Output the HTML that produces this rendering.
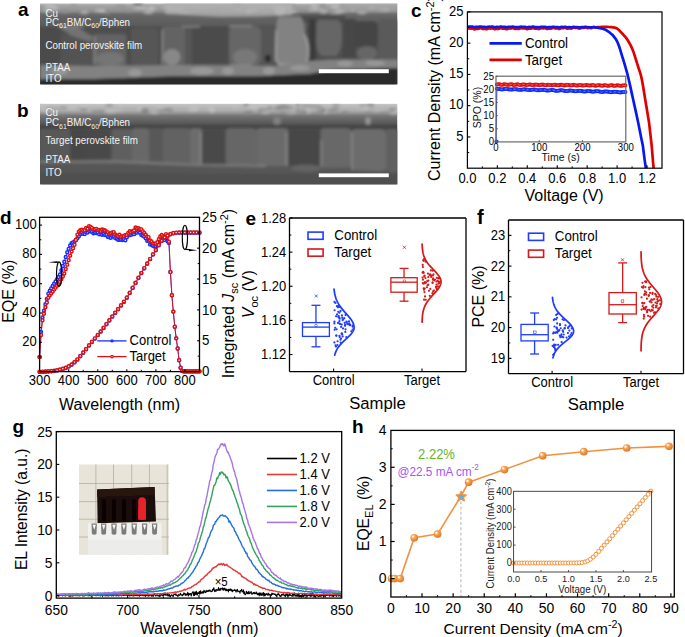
<!DOCTYPE html><html><head><meta charset="utf-8"><style>html,body{margin:0;padding:0;background:#fff;width:685px;height:637px;overflow:hidden}svg{display:block;font-family:"Liberation Sans",sans-serif}</style></head><body>
<svg width="685" height="637" viewBox="0 0 685 637">
<clipPath id="clipc"><rect x="467.4" y="11.9" width="194.60000000000002" height="156.29999999999998"/></clipPath>
<polyline points="467.4,28.78 468,28.47 468.6,28.31 469.2,28.37 469.8,28.53 470.39,28.63 470.99,28.6 471.59,28.5 472.19,28.46 472.79,28.61 473.39,28.91 473.99,29.2 474.59,29.33 475.18,29.23 475.78,29.01 476.38,28.82 476.98,28.78 477.58,28.84 478.18,28.87 478.78,28.75 479.38,28.49 479.97,28.23 480.57,28.14 481.17,28.28 481.77,28.55 482.37,28.79 482.97,28.88 483.57,28.83 484.17,28.77 484.77,28.83 485.36,29.02 485.96,29.22 486.56,29.26 487.16,29.09 487.76,28.77 488.36,28.48 488.96,28.37 489.56,28.43 490.15,28.53 490.75,28.54 491.35,28.42 491.95,28.27 492.55,28.25 493.15,28.44 493.75,28.77 494.35,29.05 494.94,29.16 495.54,29.06 496.14,28.89 496.74,28.79 497.34,28.83 497.94,28.93 498.54,28.92 499.14,28.74 499.74,28.43 500.33,28.15 500.93,28.07 501.53,28.21 502.13,28.44 502.73,28.61 503.33,28.62 503.93,28.55 504.53,28.54 505.12,28.68 505.72,28.94 506.32,29.16 506.92,29.2 507.52,29.02 508.12,28.72 508.72,28.49 509.32,28.43 509.91,28.49 510.51,28.54 511.11,28.45 511.71,28.25 512.31,28.08 512.91,28.07 513.51,28.28 514.11,28.61 514.71,28.87 515.3,28.94 515.9,28.85 516.5,28.74 517.1,28.74 517.7,28.86 518.3,28.99 518.9,28.96 519.5,28.73 520.09,28.39 520.69,28.13 521.29,28.07 521.89,28.19 522.49,28.37 523.09,28.44 523.69,28.39 524.29,28.3 524.88,28.33 525.48,28.54 526.08,28.85 526.68,29.08 527.28,29.11 527.88,28.93 528.48,28.69 529.08,28.54 529.68,28.53 530.27,28.6 530.87,28.59 531.47,28.42 532.07,28.16 532.67,27.96 533.27,27.97 533.87,28.19 534.47,28.48 535.06,28.69 535.66,28.71 536.26,28.64 536.86,28.6 537.46,28.7 538.06,28.89 538.66,29.03 539.26,28.99 539.85,28.73 540.45,28.4 541.05,28.17 541.65,28.13 542.25,28.23 542.85,28.33 543.45,28.31 544.05,28.18 544.65,28.08 545.24,28.14 545.84,28.4 546.44,28.73 547.04,28.95 547.64,28.96 548.24,28.81 548.84,28.63 549.44,28.56 550.03,28.62 550.63,28.69 551.23,28.62 551.83,28.38 552.43,28.07 553.03,27.87 553.63,27.88 554.23,28.09 554.82,28.33 555.42,28.46 556.02,28.43 556.62,28.36 557.22,28.39 557.82,28.57 558.42,28.82 559.02,28.97 559.62,28.9 560.21,28.63 560.81,28.33 561.41,28.14 562.01,28.13 562.61,28.21 563.21,28.22 563.81,28.1 564.41,27.89 565,27.77 565.6,27.86 566.2,28.13 566.8,28.45 567.4,28.64 568,28.62 568.6,28.48 569.2,28.38 569.79,28.4 570.39,28.52 570.99,28.58 571.59,28.46 572.19,28.17 572.79,27.83 573.39,27.63 573.99,27.65 574.59,27.82 575.18,27.98 575.78,28.01 576.38,27.93 576.98,27.86 577.58,27.95 578.18,28.19 578.78,28.47 579.38,28.62 579.97,28.53 580.57,28.28 581.17,28.03 581.77,27.91 582.37,27.93 582.97,27.97 583.57,27.9 584.17,27.69 584.76,27.43 585.36,27.3 585.96,27.4 586.56,27.67 587.16,27.94 587.76,28.06 588.36,28.01 588.96,27.88 589.56,27.84 590.15,27.93 590.75,28.08 591.35,28.11 591.95,27.93 592.55,27.58 593.15,27.22 593.75,27.02 594.35,27.02 594.94,27.35 595.54,27.3 596.14,27.26 596.74,27.22 597.34,27.18 597.94,27.14 598.54,27.1 599.14,27.07 599.73,27.04 600.33,27.01 600.93,26.98 601.53,26.96 602.13,26.94 602.73,26.92 603.33,26.91 603.93,26.9 604.53,26.9 605.12,26.9 605.72,26.91 606.32,26.92 606.92,26.93 607.52,26.95 608.12,26.96 608.72,26.98 609.32,27.01 609.91,27.05 610.51,27.09 611.11,27.14 611.71,27.2 612.31,27.27 612.91,27.35 613.51,27.45 614.11,27.56 614.7,27.68 615.3,27.82 615.9,27.98 616.5,28.16 617.1,28.54 617.7,28.98 618.3,29.49 618.9,30.05 619.5,30.64 620.09,31.26 620.69,31.89 621.29,32.52 621.89,33.15 622.49,33.76 623.09,34.43 623.69,35.11 624.29,35.78 624.88,36.45 625.48,37.15 626.08,37.89 626.68,38.67 627.28,39.53 627.88,40.46 628.48,41.45 629.08,42.48 629.67,43.55 630.27,44.68 630.87,45.86 631.47,47.12 632.07,48.45 632.67,49.86 633.27,51.41 633.87,53.13 634.47,54.96 635.06,56.87 635.66,58.81 636.26,60.74 636.86,62.63 637.46,64.44 638.06,66.36 638.66,68.27 639.26,70.04 639.85,71.81 640.45,73.73 641.05,75.96 641.65,78.61 642.25,81.64 642.85,85 643.45,88.58 644.05,92.28 644.64,96 645.24,99.61 645.84,103.2 646.44,106.83 647.04,110.45 647.64,114.07 648.24,117.69 648.84,121.31 649.44,125.78 650.03,131.1 650.63,136.41 651.23,141.71 651.83,147.44 652.43,154.67 653.03,161.78 653.63,168.2 654.23,172.96 654.82,177.42 655.42,181.18" fill="none" stroke="#e00000" stroke-width="2.7" stroke-linejoin="round" stroke-linecap="round" clip-path="url(#clipc)"/>
<polyline points="467.4,26.78 468,26.62 468.6,26.55 469.2,26.58 469.8,26.66 470.39,26.71 470.99,26.7 471.59,26.65 472.19,26.64 472.79,26.71 473.39,26.86 473.99,27.01 474.59,27.08 475.18,27.03 475.78,26.92 476.38,26.83 476.98,26.81 477.58,26.85 478.18,26.86 478.78,26.81 479.38,26.68 479.97,26.55 480.57,26.51 481.17,26.58 481.77,26.72 482.37,26.84 482.97,26.89 483.57,26.87 484.17,26.84 484.77,26.87 485.36,26.97 485.96,27.07 486.56,27.1 487.16,27.01 487.76,26.86 488.36,26.72 488.96,26.66 489.56,26.7 490.15,26.75 490.75,26.76 491.35,26.7 491.95,26.63 492.55,26.63 493.15,26.72 493.75,26.89 494.35,27.04 494.94,27.09 495.54,27.05 496.14,26.97 496.74,26.92 497.34,26.94 497.94,26.99 498.54,27 499.14,26.91 499.74,26.75 500.33,26.62 500.93,26.58 501.53,26.65 502.13,26.77 502.73,26.86 503.33,26.87 503.93,26.84 504.53,26.84 505.12,26.91 505.72,27.04 506.32,27.16 506.92,27.18 507.52,27.09 508.12,26.95 508.72,26.84 509.32,26.81 509.91,26.84 510.51,26.87 511.11,26.83 511.71,26.73 512.31,26.65 512.91,26.65 513.51,26.76 514.11,26.92 514.71,27.05 515.3,27.09 515.9,27.05 516.5,27 517.1,27 517.7,27.06 518.3,27.13 518.9,27.12 519.5,27.01 520.09,26.84 520.69,26.71 521.29,26.68 521.89,26.75 522.49,26.84 523.09,26.88 523.69,26.85 524.29,26.81 524.88,26.83 525.48,26.94 526.08,27.09 526.68,27.21 527.28,27.23 527.88,27.14 528.48,27.02 529.08,26.95 529.68,26.95 530.27,26.99 530.87,26.98 531.47,26.9 532.07,26.77 532.67,26.68 533.27,26.68 533.87,26.8 534.47,26.95 535.06,27.05 535.66,27.07 536.26,27.03 536.86,27.01 537.46,27.07 538.06,27.17 538.66,27.24 539.26,27.22 539.85,27.09 540.45,26.93 541.05,26.82 541.65,26.8 542.25,26.86 542.85,26.91 543.45,26.9 544.05,26.84 544.65,26.79 545.24,26.83 545.84,26.96 546.44,27.13 547.04,27.24 547.64,27.25 548.24,27.17 548.84,27.09 549.44,27.06 550.03,27.09 550.63,27.13 551.23,27.1 551.83,26.98 552.43,26.83 553.03,26.73 553.63,26.75 554.23,26.85 554.82,26.98 555.42,27.04 556.02,27.04 556.62,27 557.22,27.02 557.82,27.12 558.42,27.25 559.02,27.33 559.62,27.3 560.21,27.18 560.81,27.03 561.41,26.95 562.01,26.95 562.61,26.99 563.21,27.01 563.81,26.95 564.41,26.86 565,26.81 565.6,26.86 566.2,27 566.8,27.17 567.4,27.27 568,27.27 568.6,27.21 569.2,27.17 569.79,27.19 570.39,27.25 570.99,27.29 571.59,27.24 572.19,27.1 572.79,26.94 573.39,26.85 573.99,26.87 574.59,26.97 575.18,27.06 575.78,27.08 576.38,27.05 576.98,27.03 577.58,27.08 578.18,27.21 578.78,27.36 579.38,27.45 579.97,27.42 580.57,27.3 581.17,27.19 581.77,27.13 582.37,27.15 582.97,27.18 583.57,27.15 584.17,27.05 584.76,26.92 585.36,26.86 585.96,26.91 586.56,27.06 587.16,27.2 587.76,27.27 588.36,27.26 588.96,27.22 589.56,27.23 590.15,27.3 590.75,27.41 591.35,27.46 591.95,27.41 592.55,27.28 593.15,27.15 593.75,27.1 594.35,27.16 594.94,27.39 595.54,27.46 596.14,27.54 596.74,27.62 597.34,27.7 597.94,27.79 598.54,27.88 599.14,27.99 599.73,28.1 600.33,28.22 600.93,28.35 601.53,28.49 602.13,28.64 602.73,28.8 603.33,28.98 603.93,29.17 604.53,29.37 605.12,29.59 605.72,29.91 606.32,30.25 606.92,30.61 607.52,31 608.12,31.41 608.72,31.84 609.32,32.28 609.91,32.75 610.51,33.22 611.11,33.71 611.71,34.2 612.31,34.71 612.91,35.29 613.51,36.06 614.11,36.82 614.7,37.6 615.3,38.42 615.9,39.31 616.5,40.31 617.1,41.44 617.7,42.72 618.3,44.18 618.9,45.8 619.5,47.55 620.09,49.39 620.69,51.32 621.29,53.29 621.89,55.29 622.49,57.29 623.09,59.23 623.69,61.17 624.29,63.13 624.88,65.12 625.48,67.16 626.08,69.26 626.68,71.43 627.28,73.67 627.88,76.02 628.48,78.47 629.08,81.04 629.67,83.69 630.27,86.39 630.87,89.13 631.47,91.88 632.07,94.62 632.67,97.32 633.27,100.04 633.87,102.74 634.47,105.44 635.06,108.14 635.66,110.85 636.26,113.58 636.86,116.36 637.46,119.19 638.06,122.04 638.66,124.93 639.26,127.9 639.85,130.9 640.45,133.92 641.05,136.94 641.65,139.92 642.25,142.85 642.85,145.69 643.45,150.47 644.05,155.21 644.64,159.82 645.24,164.18 645.84,168.2 646.44,172.44 647.04,176.48 647.64,180.03 648.24,182.82" fill="none" stroke="#0a18f0" stroke-width="2.7" stroke-linejoin="round" stroke-linecap="round" clip-path="url(#clipc)"/>
<rect x="467.4" y="11.9" width="194.6" height="156.3" fill="none" stroke="#000" stroke-width="1.2" />
<line x1="467.4" y1="136.94" x2="470.4" y2="136.94" stroke="#000" stroke-width="1.1" />
<text transform="translate(463.5,140.74) scale(1,1.08)" font-size="13" text-anchor="end" fill="#000" >5</text>
<line x1="467.4" y1="105.68" x2="470.4" y2="105.68" stroke="#000" stroke-width="1.1" />
<text transform="translate(463.5,109.48) scale(1,1.08)" font-size="13" text-anchor="end" fill="#000" >10</text>
<line x1="467.4" y1="74.42" x2="470.4" y2="74.42" stroke="#000" stroke-width="1.1" />
<text transform="translate(463.5,78.22) scale(1,1.08)" font-size="13" text-anchor="end" fill="#000" >15</text>
<line x1="467.4" y1="43.16" x2="470.4" y2="43.16" stroke="#000" stroke-width="1.1" />
<text transform="translate(463.5,46.96) scale(1,1.08)" font-size="13" text-anchor="end" fill="#000" >20</text>
<line x1="467.4" y1="11.9" x2="470.4" y2="11.9" stroke="#000" stroke-width="1.1" />
<text transform="translate(463.5,15.7) scale(1,1.08)" font-size="13" text-anchor="end" fill="#000" >25</text>
<line x1="467.4" y1="152.57" x2="469.2" y2="152.57" stroke="#000" stroke-width="1.0" />
<line x1="467.4" y1="121.31" x2="469.2" y2="121.31" stroke="#000" stroke-width="1.0" />
<line x1="467.4" y1="90.05" x2="469.2" y2="90.05" stroke="#000" stroke-width="1.0" />
<line x1="467.4" y1="58.79" x2="469.2" y2="58.79" stroke="#000" stroke-width="1.0" />
<line x1="467.4" y1="27.53" x2="469.2" y2="27.53" stroke="#000" stroke-width="1.0" />
<text transform="translate(467.4,182.6) scale(1,1.08)" font-size="13" text-anchor="middle" fill="#000" >0.0</text>
<line x1="497.34" y1="168.2" x2="497.34" y2="165.2" stroke="#000" stroke-width="1.1" />
<text transform="translate(497.34,182.6) scale(1,1.08)" font-size="13" text-anchor="middle" fill="#000" >0.2</text>
<line x1="527.28" y1="168.2" x2="527.28" y2="165.2" stroke="#000" stroke-width="1.1" />
<text transform="translate(527.28,182.6) scale(1,1.08)" font-size="13" text-anchor="middle" fill="#000" >0.4</text>
<line x1="557.22" y1="168.2" x2="557.22" y2="165.2" stroke="#000" stroke-width="1.1" />
<text transform="translate(557.22,182.6) scale(1,1.08)" font-size="13" text-anchor="middle" fill="#000" >0.6</text>
<line x1="587.16" y1="168.2" x2="587.16" y2="165.2" stroke="#000" stroke-width="1.1" />
<text transform="translate(587.16,182.6) scale(1,1.08)" font-size="13" text-anchor="middle" fill="#000" >0.8</text>
<line x1="617.1" y1="168.2" x2="617.1" y2="165.2" stroke="#000" stroke-width="1.1" />
<text transform="translate(617.1,182.6) scale(1,1.08)" font-size="13" text-anchor="middle" fill="#000" >1.0</text>
<line x1="647.04" y1="168.2" x2="647.04" y2="165.2" stroke="#000" stroke-width="1.1" />
<text transform="translate(647.04,182.6) scale(1,1.08)" font-size="13" text-anchor="middle" fill="#000" >1.2</text>
<line x1="482.37" y1="168.2" x2="482.37" y2="166.4" stroke="#000" stroke-width="1.0" />
<line x1="512.31" y1="168.2" x2="512.31" y2="166.4" stroke="#000" stroke-width="1.0" />
<line x1="542.25" y1="168.2" x2="542.25" y2="166.4" stroke="#000" stroke-width="1.0" />
<line x1="572.19" y1="168.2" x2="572.19" y2="166.4" stroke="#000" stroke-width="1.0" />
<line x1="602.13" y1="168.2" x2="602.13" y2="166.4" stroke="#000" stroke-width="1.0" />
<line x1="632.07" y1="168.2" x2="632.07" y2="166.4" stroke="#000" stroke-width="1.0" />
<text transform="translate(564.1,201.1) scale(1,1.0)" font-size="16" text-anchor="middle" fill="#000" >Voltage (V)</text>
<text transform="translate(439.8,88.6) rotate(-90) scale(1,1.0)" font-size="16" text-anchor="middle" fill="#000">Current Density (mA cm<tspan dy="-6" font-size="11">-2</tspan><tspan dy="6">)</tspan></text>
<line x1="489.5" y1="43.3" x2="521.8" y2="43.3" stroke="#0a18f0" stroke-width="2.7" />
<text transform="translate(524.9,48) scale(1,1.08)" font-size="13.4" text-anchor="start" fill="#000" >Control</text>
<line x1="489.5" y1="59.9" x2="521.8" y2="59.9" stroke="#e00000" stroke-width="2.7" />
<text transform="translate(524.9,64.6) scale(1,1.08)" font-size="13.4" text-anchor="start" fill="#000" >Target</text>
<rect x="496" y="76.2" width="129.79999999999995" height="65.7" fill="#fff" stroke="none"/>
<polyline points="496,141.9 496.87,88.68 498.16,88.68 499.46,88.91 500.76,89.21 502.06,89.39 503.36,89.33 504.65,89.11 505.95,88.91 507.25,88.91 508.55,89.14 509.85,89.45 511.14,89.62 512.44,89.56 513.74,89.33 515.04,89.14 516.34,89.15 517.63,89.38 518.93,89.68 520.23,89.86 521.53,89.79 522.83,89.56 524.12,89.37 525.42,89.38 526.72,89.62 528.02,89.92 529.32,90.09 530.61,90.02 531.91,89.79 533.21,89.6 534.51,89.62 535.81,89.85 537.1,90.16 538.4,90.32 539.7,90.25 541,90.01 542.3,89.83 543.59,89.85 544.89,90.09 546.19,90.39 547.49,90.55 548.79,90.47 550.08,90.24 551.38,90.06 552.68,90.08 553.98,90.33 555.28,90.63 556.57,90.78 557.87,90.7 559.17,90.47 560.47,90.28 561.77,90.32 563.06,90.56 564.36,90.87 565.66,91.02 566.96,90.93 568.26,90.69 569.55,90.51 570.85,90.55 572.15,90.8 573.45,91.1 574.75,91.25 576.04,91.16 577.34,90.92 578.64,90.74 579.94,90.79 581.24,91.04 582.53,91.34 583.83,91.48 585.13,91.38 586.43,91.15 587.73,90.97 589.02,91.02 590.32,91.28 591.62,91.57 592.92,91.71 594.22,91.61 595.51,91.37 596.81,91.2 598.11,91.25 599.41,91.51 600.71,91.81 602,91.94 603.3,91.84 604.6,91.6 605.9,91.43 607.2,91.49 608.49,91.75 609.79,92.04 611.09,92.17 612.39,92.07 613.69,91.83 614.98,91.66 616.28,91.72 617.58,91.99 618.88,92.28 620.18,92.41 621.47,92.29 622.77,92.05 624.07,91.89 625.37,91.96 626.67,92.22" fill="none" stroke="#1a30ff" stroke-width="1.0" stroke-linejoin="round" stroke-linecap="round" />
<polyline points="496.87,84.48 498.16,84.19 499.46,84.34 500.76,84.73 502.06,84.8 503.36,84.47 504.65,84.23 505.95,84.46 507.25,84.83 508.55,84.82 509.85,84.46 511.14,84.3 512.44,84.59 513.74,84.92 515.04,84.83 516.34,84.46 517.63,84.37 518.93,84.71 520.23,85 521.53,84.84 522.83,84.47 524.12,84.47 525.42,84.84 526.72,85.07 528.02,84.83 529.32,84.5 530.61,84.57 531.91,84.96 533.21,85.11 534.51,84.82 535.81,84.53 537.1,84.68 538.4,85.07 539.7,85.15 541,84.81 542.3,84.58 543.59,84.8 544.89,85.18 546.19,85.17 547.49,84.81 548.79,84.64 550.08,84.93 551.38,85.27 552.68,85.18 553.98,84.81 555.28,84.72 556.57,85.06 557.87,85.35 559.17,85.18 560.47,84.82 561.77,84.81 563.06,85.18 564.36,85.41 565.66,85.17 566.96,84.84 568.26,84.91 569.55,85.3 570.85,85.46 572.15,85.16 573.45,84.87 574.75,85.03 576.04,85.42 577.34,85.49 578.64,85.15 579.94,84.92 581.24,85.15 582.53,85.52 583.83,85.51 585.13,85.15 586.43,84.98 587.73,85.27 589.02,85.61 590.32,85.52 591.62,85.15 592.92,85.06 594.22,85.4 595.51,85.69 596.81,85.52 598.11,85.16 599.41,85.15 600.71,85.53 602,85.75 603.3,85.51 604.6,85.18 605.9,85.26 607.2,85.65 608.49,85.8 609.79,85.51 611.09,85.21 612.39,85.37 613.69,85.76 614.98,85.83 616.28,85.5 617.58,85.26 618.88,85.49 620.18,85.86 621.47,85.85 622.77,85.49 624.07,85.33 625.37,85.62 626.67,85.95" fill="none" stroke="#e02020" stroke-width="0.8" stroke-linejoin="round" stroke-linecap="round" />
<circle cx="496.87" cy="84.48" r="1.4" fill="#fff" stroke="#e00808" stroke-width="1.2"/>
<circle cx="498.16" cy="84.19" r="1.4" fill="#fff" stroke="#e00808" stroke-width="1.2"/>
<circle cx="499.46" cy="84.34" r="1.4" fill="#fff" stroke="#e00808" stroke-width="1.2"/>
<circle cx="500.76" cy="84.73" r="1.4" fill="#fff" stroke="#e00808" stroke-width="1.2"/>
<circle cx="502.06" cy="84.8" r="1.4" fill="#fff" stroke="#e00808" stroke-width="1.2"/>
<circle cx="503.36" cy="84.47" r="1.4" fill="#fff" stroke="#e00808" stroke-width="1.2"/>
<circle cx="504.65" cy="84.23" r="1.4" fill="#fff" stroke="#e00808" stroke-width="1.2"/>
<circle cx="505.95" cy="84.46" r="1.4" fill="#fff" stroke="#e00808" stroke-width="1.2"/>
<circle cx="507.25" cy="84.83" r="1.4" fill="#fff" stroke="#e00808" stroke-width="1.2"/>
<circle cx="508.55" cy="84.82" r="1.4" fill="#fff" stroke="#e00808" stroke-width="1.2"/>
<circle cx="509.85" cy="84.46" r="1.4" fill="#fff" stroke="#e00808" stroke-width="1.2"/>
<circle cx="511.14" cy="84.3" r="1.4" fill="#fff" stroke="#e00808" stroke-width="1.2"/>
<circle cx="512.44" cy="84.59" r="1.4" fill="#fff" stroke="#e00808" stroke-width="1.2"/>
<circle cx="513.74" cy="84.92" r="1.4" fill="#fff" stroke="#e00808" stroke-width="1.2"/>
<circle cx="515.04" cy="84.83" r="1.4" fill="#fff" stroke="#e00808" stroke-width="1.2"/>
<circle cx="516.34" cy="84.46" r="1.4" fill="#fff" stroke="#e00808" stroke-width="1.2"/>
<circle cx="517.63" cy="84.37" r="1.4" fill="#fff" stroke="#e00808" stroke-width="1.2"/>
<circle cx="518.93" cy="84.71" r="1.4" fill="#fff" stroke="#e00808" stroke-width="1.2"/>
<circle cx="520.23" cy="85" r="1.4" fill="#fff" stroke="#e00808" stroke-width="1.2"/>
<circle cx="521.53" cy="84.84" r="1.4" fill="#fff" stroke="#e00808" stroke-width="1.2"/>
<circle cx="522.83" cy="84.47" r="1.4" fill="#fff" stroke="#e00808" stroke-width="1.2"/>
<circle cx="524.12" cy="84.47" r="1.4" fill="#fff" stroke="#e00808" stroke-width="1.2"/>
<circle cx="525.42" cy="84.84" r="1.4" fill="#fff" stroke="#e00808" stroke-width="1.2"/>
<circle cx="526.72" cy="85.07" r="1.4" fill="#fff" stroke="#e00808" stroke-width="1.2"/>
<circle cx="528.02" cy="84.83" r="1.4" fill="#fff" stroke="#e00808" stroke-width="1.2"/>
<circle cx="529.32" cy="84.5" r="1.4" fill="#fff" stroke="#e00808" stroke-width="1.2"/>
<circle cx="530.61" cy="84.57" r="1.4" fill="#fff" stroke="#e00808" stroke-width="1.2"/>
<circle cx="531.91" cy="84.96" r="1.4" fill="#fff" stroke="#e00808" stroke-width="1.2"/>
<circle cx="533.21" cy="85.11" r="1.4" fill="#fff" stroke="#e00808" stroke-width="1.2"/>
<circle cx="534.51" cy="84.82" r="1.4" fill="#fff" stroke="#e00808" stroke-width="1.2"/>
<circle cx="535.81" cy="84.53" r="1.4" fill="#fff" stroke="#e00808" stroke-width="1.2"/>
<circle cx="537.1" cy="84.68" r="1.4" fill="#fff" stroke="#e00808" stroke-width="1.2"/>
<circle cx="538.4" cy="85.07" r="1.4" fill="#fff" stroke="#e00808" stroke-width="1.2"/>
<circle cx="539.7" cy="85.15" r="1.4" fill="#fff" stroke="#e00808" stroke-width="1.2"/>
<circle cx="541" cy="84.81" r="1.4" fill="#fff" stroke="#e00808" stroke-width="1.2"/>
<circle cx="542.3" cy="84.58" r="1.4" fill="#fff" stroke="#e00808" stroke-width="1.2"/>
<circle cx="543.59" cy="84.8" r="1.4" fill="#fff" stroke="#e00808" stroke-width="1.2"/>
<circle cx="544.89" cy="85.18" r="1.4" fill="#fff" stroke="#e00808" stroke-width="1.2"/>
<circle cx="546.19" cy="85.17" r="1.4" fill="#fff" stroke="#e00808" stroke-width="1.2"/>
<circle cx="547.49" cy="84.81" r="1.4" fill="#fff" stroke="#e00808" stroke-width="1.2"/>
<circle cx="548.79" cy="84.64" r="1.4" fill="#fff" stroke="#e00808" stroke-width="1.2"/>
<circle cx="550.08" cy="84.93" r="1.4" fill="#fff" stroke="#e00808" stroke-width="1.2"/>
<circle cx="551.38" cy="85.27" r="1.4" fill="#fff" stroke="#e00808" stroke-width="1.2"/>
<circle cx="552.68" cy="85.18" r="1.4" fill="#fff" stroke="#e00808" stroke-width="1.2"/>
<circle cx="553.98" cy="84.81" r="1.4" fill="#fff" stroke="#e00808" stroke-width="1.2"/>
<circle cx="555.28" cy="84.72" r="1.4" fill="#fff" stroke="#e00808" stroke-width="1.2"/>
<circle cx="556.57" cy="85.06" r="1.4" fill="#fff" stroke="#e00808" stroke-width="1.2"/>
<circle cx="557.87" cy="85.35" r="1.4" fill="#fff" stroke="#e00808" stroke-width="1.2"/>
<circle cx="559.17" cy="85.18" r="1.4" fill="#fff" stroke="#e00808" stroke-width="1.2"/>
<circle cx="560.47" cy="84.82" r="1.4" fill="#fff" stroke="#e00808" stroke-width="1.2"/>
<circle cx="561.77" cy="84.81" r="1.4" fill="#fff" stroke="#e00808" stroke-width="1.2"/>
<circle cx="563.06" cy="85.18" r="1.4" fill="#fff" stroke="#e00808" stroke-width="1.2"/>
<circle cx="564.36" cy="85.41" r="1.4" fill="#fff" stroke="#e00808" stroke-width="1.2"/>
<circle cx="565.66" cy="85.17" r="1.4" fill="#fff" stroke="#e00808" stroke-width="1.2"/>
<circle cx="566.96" cy="84.84" r="1.4" fill="#fff" stroke="#e00808" stroke-width="1.2"/>
<circle cx="568.26" cy="84.91" r="1.4" fill="#fff" stroke="#e00808" stroke-width="1.2"/>
<circle cx="569.55" cy="85.3" r="1.4" fill="#fff" stroke="#e00808" stroke-width="1.2"/>
<circle cx="570.85" cy="85.46" r="1.4" fill="#fff" stroke="#e00808" stroke-width="1.2"/>
<circle cx="572.15" cy="85.16" r="1.4" fill="#fff" stroke="#e00808" stroke-width="1.2"/>
<circle cx="573.45" cy="84.87" r="1.4" fill="#fff" stroke="#e00808" stroke-width="1.2"/>
<circle cx="574.75" cy="85.03" r="1.4" fill="#fff" stroke="#e00808" stroke-width="1.2"/>
<circle cx="576.04" cy="85.42" r="1.4" fill="#fff" stroke="#e00808" stroke-width="1.2"/>
<circle cx="577.34" cy="85.49" r="1.4" fill="#fff" stroke="#e00808" stroke-width="1.2"/>
<circle cx="578.64" cy="85.15" r="1.4" fill="#fff" stroke="#e00808" stroke-width="1.2"/>
<circle cx="579.94" cy="84.92" r="1.4" fill="#fff" stroke="#e00808" stroke-width="1.2"/>
<circle cx="581.24" cy="85.15" r="1.4" fill="#fff" stroke="#e00808" stroke-width="1.2"/>
<circle cx="582.53" cy="85.52" r="1.4" fill="#fff" stroke="#e00808" stroke-width="1.2"/>
<circle cx="583.83" cy="85.51" r="1.4" fill="#fff" stroke="#e00808" stroke-width="1.2"/>
<circle cx="585.13" cy="85.15" r="1.4" fill="#fff" stroke="#e00808" stroke-width="1.2"/>
<circle cx="586.43" cy="84.98" r="1.4" fill="#fff" stroke="#e00808" stroke-width="1.2"/>
<circle cx="587.73" cy="85.27" r="1.4" fill="#fff" stroke="#e00808" stroke-width="1.2"/>
<circle cx="589.02" cy="85.61" r="1.4" fill="#fff" stroke="#e00808" stroke-width="1.2"/>
<circle cx="590.32" cy="85.52" r="1.4" fill="#fff" stroke="#e00808" stroke-width="1.2"/>
<circle cx="591.62" cy="85.15" r="1.4" fill="#fff" stroke="#e00808" stroke-width="1.2"/>
<circle cx="592.92" cy="85.06" r="1.4" fill="#fff" stroke="#e00808" stroke-width="1.2"/>
<circle cx="594.22" cy="85.4" r="1.4" fill="#fff" stroke="#e00808" stroke-width="1.2"/>
<circle cx="595.51" cy="85.69" r="1.4" fill="#fff" stroke="#e00808" stroke-width="1.2"/>
<circle cx="596.81" cy="85.52" r="1.4" fill="#fff" stroke="#e00808" stroke-width="1.2"/>
<circle cx="598.11" cy="85.16" r="1.4" fill="#fff" stroke="#e00808" stroke-width="1.2"/>
<circle cx="599.41" cy="85.15" r="1.4" fill="#fff" stroke="#e00808" stroke-width="1.2"/>
<circle cx="600.71" cy="85.53" r="1.4" fill="#fff" stroke="#e00808" stroke-width="1.2"/>
<circle cx="602" cy="85.75" r="1.4" fill="#fff" stroke="#e00808" stroke-width="1.2"/>
<circle cx="603.3" cy="85.51" r="1.4" fill="#fff" stroke="#e00808" stroke-width="1.2"/>
<circle cx="604.6" cy="85.18" r="1.4" fill="#fff" stroke="#e00808" stroke-width="1.2"/>
<circle cx="605.9" cy="85.26" r="1.4" fill="#fff" stroke="#e00808" stroke-width="1.2"/>
<circle cx="607.2" cy="85.65" r="1.4" fill="#fff" stroke="#e00808" stroke-width="1.2"/>
<circle cx="608.49" cy="85.8" r="1.4" fill="#fff" stroke="#e00808" stroke-width="1.2"/>
<circle cx="609.79" cy="85.51" r="1.4" fill="#fff" stroke="#e00808" stroke-width="1.2"/>
<circle cx="611.09" cy="85.21" r="1.4" fill="#fff" stroke="#e00808" stroke-width="1.2"/>
<circle cx="612.39" cy="85.37" r="1.4" fill="#fff" stroke="#e00808" stroke-width="1.2"/>
<circle cx="613.69" cy="85.76" r="1.4" fill="#fff" stroke="#e00808" stroke-width="1.2"/>
<circle cx="614.98" cy="85.83" r="1.4" fill="#fff" stroke="#e00808" stroke-width="1.2"/>
<circle cx="616.28" cy="85.5" r="1.4" fill="#fff" stroke="#e00808" stroke-width="1.2"/>
<circle cx="617.58" cy="85.26" r="1.4" fill="#fff" stroke="#e00808" stroke-width="1.2"/>
<circle cx="618.88" cy="85.49" r="1.4" fill="#fff" stroke="#e00808" stroke-width="1.2"/>
<circle cx="620.18" cy="85.86" r="1.4" fill="#fff" stroke="#e00808" stroke-width="1.2"/>
<circle cx="621.47" cy="85.85" r="1.4" fill="#fff" stroke="#e00808" stroke-width="1.2"/>
<circle cx="622.77" cy="85.49" r="1.4" fill="#fff" stroke="#e00808" stroke-width="1.2"/>
<circle cx="624.07" cy="85.33" r="1.4" fill="#fff" stroke="#e00808" stroke-width="1.2"/>
<circle cx="625.37" cy="85.62" r="1.4" fill="#fff" stroke="#e00808" stroke-width="1.2"/>
<circle cx="496.87" cy="88.68" r="1.4" fill="#fff" stroke="#0a28ff" stroke-width="1.2"/>
<circle cx="498.16" cy="88.68" r="1.4" fill="#fff" stroke="#0a28ff" stroke-width="1.2"/>
<circle cx="499.46" cy="88.91" r="1.4" fill="#fff" stroke="#0a28ff" stroke-width="1.2"/>
<circle cx="500.76" cy="89.21" r="1.4" fill="#fff" stroke="#0a28ff" stroke-width="1.2"/>
<circle cx="502.06" cy="89.39" r="1.4" fill="#fff" stroke="#0a28ff" stroke-width="1.2"/>
<circle cx="503.36" cy="89.33" r="1.4" fill="#fff" stroke="#0a28ff" stroke-width="1.2"/>
<circle cx="504.65" cy="89.11" r="1.4" fill="#fff" stroke="#0a28ff" stroke-width="1.2"/>
<circle cx="505.95" cy="88.91" r="1.4" fill="#fff" stroke="#0a28ff" stroke-width="1.2"/>
<circle cx="507.25" cy="88.91" r="1.4" fill="#fff" stroke="#0a28ff" stroke-width="1.2"/>
<circle cx="508.55" cy="89.14" r="1.4" fill="#fff" stroke="#0a28ff" stroke-width="1.2"/>
<circle cx="509.85" cy="89.45" r="1.4" fill="#fff" stroke="#0a28ff" stroke-width="1.2"/>
<circle cx="511.14" cy="89.62" r="1.4" fill="#fff" stroke="#0a28ff" stroke-width="1.2"/>
<circle cx="512.44" cy="89.56" r="1.4" fill="#fff" stroke="#0a28ff" stroke-width="1.2"/>
<circle cx="513.74" cy="89.33" r="1.4" fill="#fff" stroke="#0a28ff" stroke-width="1.2"/>
<circle cx="515.04" cy="89.14" r="1.4" fill="#fff" stroke="#0a28ff" stroke-width="1.2"/>
<circle cx="516.34" cy="89.15" r="1.4" fill="#fff" stroke="#0a28ff" stroke-width="1.2"/>
<circle cx="517.63" cy="89.38" r="1.4" fill="#fff" stroke="#0a28ff" stroke-width="1.2"/>
<circle cx="518.93" cy="89.68" r="1.4" fill="#fff" stroke="#0a28ff" stroke-width="1.2"/>
<circle cx="520.23" cy="89.86" r="1.4" fill="#fff" stroke="#0a28ff" stroke-width="1.2"/>
<circle cx="521.53" cy="89.79" r="1.4" fill="#fff" stroke="#0a28ff" stroke-width="1.2"/>
<circle cx="522.83" cy="89.56" r="1.4" fill="#fff" stroke="#0a28ff" stroke-width="1.2"/>
<circle cx="524.12" cy="89.37" r="1.4" fill="#fff" stroke="#0a28ff" stroke-width="1.2"/>
<circle cx="525.42" cy="89.38" r="1.4" fill="#fff" stroke="#0a28ff" stroke-width="1.2"/>
<circle cx="526.72" cy="89.62" r="1.4" fill="#fff" stroke="#0a28ff" stroke-width="1.2"/>
<circle cx="528.02" cy="89.92" r="1.4" fill="#fff" stroke="#0a28ff" stroke-width="1.2"/>
<circle cx="529.32" cy="90.09" r="1.4" fill="#fff" stroke="#0a28ff" stroke-width="1.2"/>
<circle cx="530.61" cy="90.02" r="1.4" fill="#fff" stroke="#0a28ff" stroke-width="1.2"/>
<circle cx="531.91" cy="89.79" r="1.4" fill="#fff" stroke="#0a28ff" stroke-width="1.2"/>
<circle cx="533.21" cy="89.6" r="1.4" fill="#fff" stroke="#0a28ff" stroke-width="1.2"/>
<circle cx="534.51" cy="89.62" r="1.4" fill="#fff" stroke="#0a28ff" stroke-width="1.2"/>
<circle cx="535.81" cy="89.85" r="1.4" fill="#fff" stroke="#0a28ff" stroke-width="1.2"/>
<circle cx="537.1" cy="90.16" r="1.4" fill="#fff" stroke="#0a28ff" stroke-width="1.2"/>
<circle cx="538.4" cy="90.32" r="1.4" fill="#fff" stroke="#0a28ff" stroke-width="1.2"/>
<circle cx="539.7" cy="90.25" r="1.4" fill="#fff" stroke="#0a28ff" stroke-width="1.2"/>
<circle cx="541" cy="90.01" r="1.4" fill="#fff" stroke="#0a28ff" stroke-width="1.2"/>
<circle cx="542.3" cy="89.83" r="1.4" fill="#fff" stroke="#0a28ff" stroke-width="1.2"/>
<circle cx="543.59" cy="89.85" r="1.4" fill="#fff" stroke="#0a28ff" stroke-width="1.2"/>
<circle cx="544.89" cy="90.09" r="1.4" fill="#fff" stroke="#0a28ff" stroke-width="1.2"/>
<circle cx="546.19" cy="90.39" r="1.4" fill="#fff" stroke="#0a28ff" stroke-width="1.2"/>
<circle cx="547.49" cy="90.55" r="1.4" fill="#fff" stroke="#0a28ff" stroke-width="1.2"/>
<circle cx="548.79" cy="90.47" r="1.4" fill="#fff" stroke="#0a28ff" stroke-width="1.2"/>
<circle cx="550.08" cy="90.24" r="1.4" fill="#fff" stroke="#0a28ff" stroke-width="1.2"/>
<circle cx="551.38" cy="90.06" r="1.4" fill="#fff" stroke="#0a28ff" stroke-width="1.2"/>
<circle cx="552.68" cy="90.08" r="1.4" fill="#fff" stroke="#0a28ff" stroke-width="1.2"/>
<circle cx="553.98" cy="90.33" r="1.4" fill="#fff" stroke="#0a28ff" stroke-width="1.2"/>
<circle cx="555.28" cy="90.63" r="1.4" fill="#fff" stroke="#0a28ff" stroke-width="1.2"/>
<circle cx="556.57" cy="90.78" r="1.4" fill="#fff" stroke="#0a28ff" stroke-width="1.2"/>
<circle cx="557.87" cy="90.7" r="1.4" fill="#fff" stroke="#0a28ff" stroke-width="1.2"/>
<circle cx="559.17" cy="90.47" r="1.4" fill="#fff" stroke="#0a28ff" stroke-width="1.2"/>
<circle cx="560.47" cy="90.28" r="1.4" fill="#fff" stroke="#0a28ff" stroke-width="1.2"/>
<circle cx="561.77" cy="90.32" r="1.4" fill="#fff" stroke="#0a28ff" stroke-width="1.2"/>
<circle cx="563.06" cy="90.56" r="1.4" fill="#fff" stroke="#0a28ff" stroke-width="1.2"/>
<circle cx="564.36" cy="90.87" r="1.4" fill="#fff" stroke="#0a28ff" stroke-width="1.2"/>
<circle cx="565.66" cy="91.02" r="1.4" fill="#fff" stroke="#0a28ff" stroke-width="1.2"/>
<circle cx="566.96" cy="90.93" r="1.4" fill="#fff" stroke="#0a28ff" stroke-width="1.2"/>
<circle cx="568.26" cy="90.69" r="1.4" fill="#fff" stroke="#0a28ff" stroke-width="1.2"/>
<circle cx="569.55" cy="90.51" r="1.4" fill="#fff" stroke="#0a28ff" stroke-width="1.2"/>
<circle cx="570.85" cy="90.55" r="1.4" fill="#fff" stroke="#0a28ff" stroke-width="1.2"/>
<circle cx="572.15" cy="90.8" r="1.4" fill="#fff" stroke="#0a28ff" stroke-width="1.2"/>
<circle cx="573.45" cy="91.1" r="1.4" fill="#fff" stroke="#0a28ff" stroke-width="1.2"/>
<circle cx="574.75" cy="91.25" r="1.4" fill="#fff" stroke="#0a28ff" stroke-width="1.2"/>
<circle cx="576.04" cy="91.16" r="1.4" fill="#fff" stroke="#0a28ff" stroke-width="1.2"/>
<circle cx="577.34" cy="90.92" r="1.4" fill="#fff" stroke="#0a28ff" stroke-width="1.2"/>
<circle cx="578.64" cy="90.74" r="1.4" fill="#fff" stroke="#0a28ff" stroke-width="1.2"/>
<circle cx="579.94" cy="90.79" r="1.4" fill="#fff" stroke="#0a28ff" stroke-width="1.2"/>
<circle cx="581.24" cy="91.04" r="1.4" fill="#fff" stroke="#0a28ff" stroke-width="1.2"/>
<circle cx="582.53" cy="91.34" r="1.4" fill="#fff" stroke="#0a28ff" stroke-width="1.2"/>
<circle cx="583.83" cy="91.48" r="1.4" fill="#fff" stroke="#0a28ff" stroke-width="1.2"/>
<circle cx="585.13" cy="91.38" r="1.4" fill="#fff" stroke="#0a28ff" stroke-width="1.2"/>
<circle cx="586.43" cy="91.15" r="1.4" fill="#fff" stroke="#0a28ff" stroke-width="1.2"/>
<circle cx="587.73" cy="90.97" r="1.4" fill="#fff" stroke="#0a28ff" stroke-width="1.2"/>
<circle cx="589.02" cy="91.02" r="1.4" fill="#fff" stroke="#0a28ff" stroke-width="1.2"/>
<circle cx="590.32" cy="91.28" r="1.4" fill="#fff" stroke="#0a28ff" stroke-width="1.2"/>
<circle cx="591.62" cy="91.57" r="1.4" fill="#fff" stroke="#0a28ff" stroke-width="1.2"/>
<circle cx="592.92" cy="91.71" r="1.4" fill="#fff" stroke="#0a28ff" stroke-width="1.2"/>
<circle cx="594.22" cy="91.61" r="1.4" fill="#fff" stroke="#0a28ff" stroke-width="1.2"/>
<circle cx="595.51" cy="91.37" r="1.4" fill="#fff" stroke="#0a28ff" stroke-width="1.2"/>
<circle cx="596.81" cy="91.2" r="1.4" fill="#fff" stroke="#0a28ff" stroke-width="1.2"/>
<circle cx="598.11" cy="91.25" r="1.4" fill="#fff" stroke="#0a28ff" stroke-width="1.2"/>
<circle cx="599.41" cy="91.51" r="1.4" fill="#fff" stroke="#0a28ff" stroke-width="1.2"/>
<circle cx="600.71" cy="91.81" r="1.4" fill="#fff" stroke="#0a28ff" stroke-width="1.2"/>
<circle cx="602" cy="91.94" r="1.4" fill="#fff" stroke="#0a28ff" stroke-width="1.2"/>
<circle cx="603.3" cy="91.84" r="1.4" fill="#fff" stroke="#0a28ff" stroke-width="1.2"/>
<circle cx="604.6" cy="91.6" r="1.4" fill="#fff" stroke="#0a28ff" stroke-width="1.2"/>
<circle cx="605.9" cy="91.43" r="1.4" fill="#fff" stroke="#0a28ff" stroke-width="1.2"/>
<circle cx="607.2" cy="91.49" r="1.4" fill="#fff" stroke="#0a28ff" stroke-width="1.2"/>
<circle cx="608.49" cy="91.75" r="1.4" fill="#fff" stroke="#0a28ff" stroke-width="1.2"/>
<circle cx="609.79" cy="92.04" r="1.4" fill="#fff" stroke="#0a28ff" stroke-width="1.2"/>
<circle cx="611.09" cy="92.17" r="1.4" fill="#fff" stroke="#0a28ff" stroke-width="1.2"/>
<circle cx="612.39" cy="92.07" r="1.4" fill="#fff" stroke="#0a28ff" stroke-width="1.2"/>
<circle cx="613.69" cy="91.83" r="1.4" fill="#fff" stroke="#0a28ff" stroke-width="1.2"/>
<circle cx="614.98" cy="91.66" r="1.4" fill="#fff" stroke="#0a28ff" stroke-width="1.2"/>
<circle cx="616.28" cy="91.72" r="1.4" fill="#fff" stroke="#0a28ff" stroke-width="1.2"/>
<circle cx="617.58" cy="91.99" r="1.4" fill="#fff" stroke="#0a28ff" stroke-width="1.2"/>
<circle cx="618.88" cy="92.28" r="1.4" fill="#fff" stroke="#0a28ff" stroke-width="1.2"/>
<circle cx="620.18" cy="92.41" r="1.4" fill="#fff" stroke="#0a28ff" stroke-width="1.2"/>
<circle cx="621.47" cy="92.29" r="1.4" fill="#fff" stroke="#0a28ff" stroke-width="1.2"/>
<circle cx="622.77" cy="92.05" r="1.4" fill="#fff" stroke="#0a28ff" stroke-width="1.2"/>
<circle cx="624.07" cy="91.89" r="1.4" fill="#fff" stroke="#0a28ff" stroke-width="1.2"/>
<circle cx="625.37" cy="91.96" r="1.4" fill="#fff" stroke="#0a28ff" stroke-width="1.2"/>
<circle cx="496.5" cy="141.6" r="2.1" fill="#1a30ff"/>
<rect x="496" y="76.2" width="129.8" height="65.7" fill="none" stroke="#6a6a6a" stroke-width="1.2" />
<text transform="translate(494,145.2) scale(1,1.08)" font-size="9.6" text-anchor="end" fill="#000" >0</text>
<line x1="496" y1="128.76" x2="498" y2="128.76" stroke="#555" stroke-width="0.8" />
<text transform="translate(494,132.06) scale(1,1.08)" font-size="9.6" text-anchor="end" fill="#000" >5</text>
<line x1="496" y1="115.62" x2="498" y2="115.62" stroke="#555" stroke-width="0.8" />
<text transform="translate(494,118.92) scale(1,1.08)" font-size="9.6" text-anchor="end" fill="#000" >10</text>
<line x1="496" y1="102.48" x2="498" y2="102.48" stroke="#555" stroke-width="0.8" />
<text transform="translate(494,105.78) scale(1,1.08)" font-size="9.6" text-anchor="end" fill="#000" >15</text>
<line x1="496" y1="89.34" x2="498" y2="89.34" stroke="#555" stroke-width="0.8" />
<text transform="translate(494,92.64) scale(1,1.08)" font-size="9.6" text-anchor="end" fill="#000" >20</text>
<line x1="496" y1="76.2" x2="498" y2="76.2" stroke="#555" stroke-width="0.8" />
<text transform="translate(494,79.5) scale(1,1.08)" font-size="9.6" text-anchor="end" fill="#000" >25</text>
<text transform="translate(496,151.4) scale(1,1.08)" font-size="9.6" text-anchor="middle" fill="#000" >0</text>
<line x1="539.27" y1="141.9" x2="539.27" y2="139.9" stroke="#555" stroke-width="0.8" />
<text transform="translate(539.27,151.4) scale(1,1.08)" font-size="9.6" text-anchor="middle" fill="#000" >100</text>
<line x1="582.53" y1="141.9" x2="582.53" y2="139.9" stroke="#555" stroke-width="0.8" />
<text transform="translate(582.53,151.4) scale(1,1.08)" font-size="9.6" text-anchor="middle" fill="#000" >200</text>
<text transform="translate(625.8,151.4) scale(1,1.08)" font-size="9.6" text-anchor="middle" fill="#000" >300</text>
<text transform="translate(560.6,161) scale(1,1.08)" font-size="10.5" text-anchor="middle" fill="#111" >Time (s)</text>
<text transform="translate(480.5,107.5) rotate(-90) scale(1,1.08)" font-size="10.5" text-anchor="middle" fill="#111">SPO (%)</text>
<text transform="translate(411,16.5) scale(1,1.0)" font-size="19" text-anchor="start" fill="#000" font-weight="bold" >c</text>
<clipPath id="clipd"><rect x="39.6" y="217.3" width="159.9" height="154.3"/></clipPath>
<polyline points="39.6,356.95 41.05,332.05 42.51,317.4 43.96,310.8 45.41,304.21 46.87,298.88 48.32,293.56 49.77,290.64 51.23,288.33 52.68,286.01 54.14,283.7 55.59,281.45 57.04,279.19 58.5,276.94 59.95,274.48 61.4,270.23 62.86,265.98 64.31,261.73 65.76,256.96 67.22,252.2 68.67,248.82 70.12,245.44 71.58,243.09 73.03,242.3 74.48,241.5 75.94,240.04 77.39,238.21 78.84,236.23 80.3,234.15 81.75,232.84 83.21,233.81 84.66,233.98 86.11,232.15 87.57,232.56 89.02,230.91 90.47,231.33 91.93,231.81 93.38,233.36 94.83,232.65 96.29,233.02 97.74,232.39 99.19,234.31 100.65,232.76 102.1,234.71 103.55,233.88 105.01,235.08 106.46,234.98 107.91,236.91 109.37,237.22 110.82,237.8 112.28,236.09 113.73,236.33 115.18,237.89 116.64,238.8 118.09,239.7 119.54,239.94 121,239.69 122.45,240.05 123.9,239.26 125.36,240.3 126.81,237.24 128.26,235.16 129.72,235.17 131.17,234.66 132.62,233.66 134.08,234.15 135.53,232.33 136.98,232.63 138.44,231.33 139.89,232.6 141.34,234.93 142.8,235.68 144.25,236.45 145.71,238.37 147.16,240.71 148.61,240.69 150.07,244.44 151.52,244.77 152.97,245.78 154.43,246.53 155.88,246.43 157.33,245.28 158.79,243.72 160.24,239.48 161.69,237.21 163.15,238.61 164.6,239.89 166.05,237.76 167.51,241.29 168.96,242.97 170.41,272.04 171.87,295.16 173.32,311.62 174.78,326.72 176.23,338.36 177.68,348.45 179.14,360.28 180.59,367.63 182.04,370.82 183.5,371.31 184.95,371.31 186.4,371.31 187.86,371.31 189.31,371.31 190.76,371.31 192.22,371.31 193.67,371.31 195.12,371.31 196.58,371.31 198.03,371.31 199.49,371.31" fill="none" stroke="#1a2cff" stroke-width="0.9" stroke-linejoin="round" stroke-linecap="round" clip-path="url(#clipd)"/>
<circle cx="39.6" cy="356.95" r="1.45" fill="#fff" stroke="#1a2cff" stroke-width="1.45"/>
<circle cx="41.05" cy="332.05" r="1.45" fill="#fff" stroke="#1a2cff" stroke-width="1.45"/>
<circle cx="42.51" cy="317.4" r="1.45" fill="#fff" stroke="#1a2cff" stroke-width="1.45"/>
<circle cx="43.96" cy="310.8" r="1.45" fill="#fff" stroke="#1a2cff" stroke-width="1.45"/>
<circle cx="45.41" cy="304.21" r="1.45" fill="#fff" stroke="#1a2cff" stroke-width="1.45"/>
<circle cx="46.87" cy="298.88" r="1.45" fill="#fff" stroke="#1a2cff" stroke-width="1.45"/>
<circle cx="48.32" cy="293.56" r="1.45" fill="#fff" stroke="#1a2cff" stroke-width="1.45"/>
<circle cx="49.77" cy="290.64" r="1.45" fill="#fff" stroke="#1a2cff" stroke-width="1.45"/>
<circle cx="51.23" cy="288.33" r="1.45" fill="#fff" stroke="#1a2cff" stroke-width="1.45"/>
<circle cx="52.68" cy="286.01" r="1.45" fill="#fff" stroke="#1a2cff" stroke-width="1.45"/>
<circle cx="54.14" cy="283.7" r="1.45" fill="#fff" stroke="#1a2cff" stroke-width="1.45"/>
<circle cx="55.59" cy="281.45" r="1.45" fill="#fff" stroke="#1a2cff" stroke-width="1.45"/>
<circle cx="57.04" cy="279.19" r="1.45" fill="#fff" stroke="#1a2cff" stroke-width="1.45"/>
<circle cx="58.5" cy="276.94" r="1.45" fill="#fff" stroke="#1a2cff" stroke-width="1.45"/>
<circle cx="59.95" cy="274.48" r="1.45" fill="#fff" stroke="#1a2cff" stroke-width="1.45"/>
<circle cx="61.4" cy="270.23" r="1.45" fill="#fff" stroke="#1a2cff" stroke-width="1.45"/>
<circle cx="62.86" cy="265.98" r="1.45" fill="#fff" stroke="#1a2cff" stroke-width="1.45"/>
<circle cx="64.31" cy="261.73" r="1.45" fill="#fff" stroke="#1a2cff" stroke-width="1.45"/>
<circle cx="65.76" cy="256.96" r="1.45" fill="#fff" stroke="#1a2cff" stroke-width="1.45"/>
<circle cx="67.22" cy="252.2" r="1.45" fill="#fff" stroke="#1a2cff" stroke-width="1.45"/>
<circle cx="68.67" cy="248.82" r="1.45" fill="#fff" stroke="#1a2cff" stroke-width="1.45"/>
<circle cx="70.12" cy="245.44" r="1.45" fill="#fff" stroke="#1a2cff" stroke-width="1.45"/>
<circle cx="71.58" cy="243.09" r="1.45" fill="#fff" stroke="#1a2cff" stroke-width="1.45"/>
<circle cx="73.03" cy="242.3" r="1.45" fill="#fff" stroke="#1a2cff" stroke-width="1.45"/>
<circle cx="74.48" cy="241.5" r="1.45" fill="#fff" stroke="#1a2cff" stroke-width="1.45"/>
<circle cx="75.94" cy="240.04" r="1.45" fill="#fff" stroke="#1a2cff" stroke-width="1.45"/>
<circle cx="77.39" cy="238.21" r="1.45" fill="#fff" stroke="#1a2cff" stroke-width="1.45"/>
<circle cx="78.84" cy="236.23" r="1.45" fill="#fff" stroke="#1a2cff" stroke-width="1.45"/>
<circle cx="80.3" cy="234.15" r="1.45" fill="#fff" stroke="#1a2cff" stroke-width="1.45"/>
<circle cx="81.75" cy="232.84" r="1.45" fill="#fff" stroke="#1a2cff" stroke-width="1.45"/>
<circle cx="83.21" cy="233.81" r="1.45" fill="#fff" stroke="#1a2cff" stroke-width="1.45"/>
<circle cx="84.66" cy="233.98" r="1.45" fill="#fff" stroke="#1a2cff" stroke-width="1.45"/>
<circle cx="86.11" cy="232.15" r="1.45" fill="#fff" stroke="#1a2cff" stroke-width="1.45"/>
<circle cx="87.57" cy="232.56" r="1.45" fill="#fff" stroke="#1a2cff" stroke-width="1.45"/>
<circle cx="89.02" cy="230.91" r="1.45" fill="#fff" stroke="#1a2cff" stroke-width="1.45"/>
<circle cx="90.47" cy="231.33" r="1.45" fill="#fff" stroke="#1a2cff" stroke-width="1.45"/>
<circle cx="91.93" cy="231.81" r="1.45" fill="#fff" stroke="#1a2cff" stroke-width="1.45"/>
<circle cx="93.38" cy="233.36" r="1.45" fill="#fff" stroke="#1a2cff" stroke-width="1.45"/>
<circle cx="94.83" cy="232.65" r="1.45" fill="#fff" stroke="#1a2cff" stroke-width="1.45"/>
<circle cx="96.29" cy="233.02" r="1.45" fill="#fff" stroke="#1a2cff" stroke-width="1.45"/>
<circle cx="97.74" cy="232.39" r="1.45" fill="#fff" stroke="#1a2cff" stroke-width="1.45"/>
<circle cx="99.19" cy="234.31" r="1.45" fill="#fff" stroke="#1a2cff" stroke-width="1.45"/>
<circle cx="100.65" cy="232.76" r="1.45" fill="#fff" stroke="#1a2cff" stroke-width="1.45"/>
<circle cx="102.1" cy="234.71" r="1.45" fill="#fff" stroke="#1a2cff" stroke-width="1.45"/>
<circle cx="103.55" cy="233.88" r="1.45" fill="#fff" stroke="#1a2cff" stroke-width="1.45"/>
<circle cx="105.01" cy="235.08" r="1.45" fill="#fff" stroke="#1a2cff" stroke-width="1.45"/>
<circle cx="106.46" cy="234.98" r="1.45" fill="#fff" stroke="#1a2cff" stroke-width="1.45"/>
<circle cx="107.91" cy="236.91" r="1.45" fill="#fff" stroke="#1a2cff" stroke-width="1.45"/>
<circle cx="109.37" cy="237.22" r="1.45" fill="#fff" stroke="#1a2cff" stroke-width="1.45"/>
<circle cx="110.82" cy="237.8" r="1.45" fill="#fff" stroke="#1a2cff" stroke-width="1.45"/>
<circle cx="112.28" cy="236.09" r="1.45" fill="#fff" stroke="#1a2cff" stroke-width="1.45"/>
<circle cx="113.73" cy="236.33" r="1.45" fill="#fff" stroke="#1a2cff" stroke-width="1.45"/>
<circle cx="115.18" cy="237.89" r="1.45" fill="#fff" stroke="#1a2cff" stroke-width="1.45"/>
<circle cx="116.64" cy="238.8" r="1.45" fill="#fff" stroke="#1a2cff" stroke-width="1.45"/>
<circle cx="118.09" cy="239.7" r="1.45" fill="#fff" stroke="#1a2cff" stroke-width="1.45"/>
<circle cx="119.54" cy="239.94" r="1.45" fill="#fff" stroke="#1a2cff" stroke-width="1.45"/>
<circle cx="121" cy="239.69" r="1.45" fill="#fff" stroke="#1a2cff" stroke-width="1.45"/>
<circle cx="122.45" cy="240.05" r="1.45" fill="#fff" stroke="#1a2cff" stroke-width="1.45"/>
<circle cx="123.9" cy="239.26" r="1.45" fill="#fff" stroke="#1a2cff" stroke-width="1.45"/>
<circle cx="125.36" cy="240.3" r="1.45" fill="#fff" stroke="#1a2cff" stroke-width="1.45"/>
<circle cx="126.81" cy="237.24" r="1.45" fill="#fff" stroke="#1a2cff" stroke-width="1.45"/>
<circle cx="128.26" cy="235.16" r="1.45" fill="#fff" stroke="#1a2cff" stroke-width="1.45"/>
<circle cx="129.72" cy="235.17" r="1.45" fill="#fff" stroke="#1a2cff" stroke-width="1.45"/>
<circle cx="131.17" cy="234.66" r="1.45" fill="#fff" stroke="#1a2cff" stroke-width="1.45"/>
<circle cx="132.62" cy="233.66" r="1.45" fill="#fff" stroke="#1a2cff" stroke-width="1.45"/>
<circle cx="134.08" cy="234.15" r="1.45" fill="#fff" stroke="#1a2cff" stroke-width="1.45"/>
<circle cx="135.53" cy="232.33" r="1.45" fill="#fff" stroke="#1a2cff" stroke-width="1.45"/>
<circle cx="136.98" cy="232.63" r="1.45" fill="#fff" stroke="#1a2cff" stroke-width="1.45"/>
<circle cx="138.44" cy="231.33" r="1.45" fill="#fff" stroke="#1a2cff" stroke-width="1.45"/>
<circle cx="139.89" cy="232.6" r="1.45" fill="#fff" stroke="#1a2cff" stroke-width="1.45"/>
<circle cx="141.34" cy="234.93" r="1.45" fill="#fff" stroke="#1a2cff" stroke-width="1.45"/>
<circle cx="142.8" cy="235.68" r="1.45" fill="#fff" stroke="#1a2cff" stroke-width="1.45"/>
<circle cx="144.25" cy="236.45" r="1.45" fill="#fff" stroke="#1a2cff" stroke-width="1.45"/>
<circle cx="145.71" cy="238.37" r="1.45" fill="#fff" stroke="#1a2cff" stroke-width="1.45"/>
<circle cx="147.16" cy="240.71" r="1.45" fill="#fff" stroke="#1a2cff" stroke-width="1.45"/>
<circle cx="148.61" cy="240.69" r="1.45" fill="#fff" stroke="#1a2cff" stroke-width="1.45"/>
<circle cx="150.07" cy="244.44" r="1.45" fill="#fff" stroke="#1a2cff" stroke-width="1.45"/>
<circle cx="151.52" cy="244.77" r="1.45" fill="#fff" stroke="#1a2cff" stroke-width="1.45"/>
<circle cx="152.97" cy="245.78" r="1.45" fill="#fff" stroke="#1a2cff" stroke-width="1.45"/>
<circle cx="154.43" cy="246.53" r="1.45" fill="#fff" stroke="#1a2cff" stroke-width="1.45"/>
<circle cx="155.88" cy="246.43" r="1.45" fill="#fff" stroke="#1a2cff" stroke-width="1.45"/>
<circle cx="157.33" cy="245.28" r="1.45" fill="#fff" stroke="#1a2cff" stroke-width="1.45"/>
<circle cx="158.79" cy="243.72" r="1.45" fill="#fff" stroke="#1a2cff" stroke-width="1.45"/>
<circle cx="160.24" cy="239.48" r="1.45" fill="#fff" stroke="#1a2cff" stroke-width="1.45"/>
<circle cx="161.69" cy="237.21" r="1.45" fill="#fff" stroke="#1a2cff" stroke-width="1.45"/>
<circle cx="163.15" cy="238.61" r="1.45" fill="#fff" stroke="#1a2cff" stroke-width="1.45"/>
<circle cx="164.6" cy="239.89" r="1.45" fill="#fff" stroke="#1a2cff" stroke-width="1.45"/>
<circle cx="166.05" cy="237.76" r="1.45" fill="#fff" stroke="#1a2cff" stroke-width="1.45"/>
<circle cx="167.51" cy="241.29" r="1.45" fill="#fff" stroke="#1a2cff" stroke-width="1.45"/>
<circle cx="168.96" cy="242.97" r="1.45" fill="#fff" stroke="#1a2cff" stroke-width="1.45"/>
<circle cx="170.41" cy="272.04" r="1.45" fill="#fff" stroke="#1a2cff" stroke-width="1.45"/>
<circle cx="171.87" cy="295.16" r="1.45" fill="#fff" stroke="#1a2cff" stroke-width="1.45"/>
<circle cx="173.32" cy="311.62" r="1.45" fill="#fff" stroke="#1a2cff" stroke-width="1.45"/>
<circle cx="174.78" cy="326.72" r="1.45" fill="#fff" stroke="#1a2cff" stroke-width="1.45"/>
<circle cx="176.23" cy="338.36" r="1.45" fill="#fff" stroke="#1a2cff" stroke-width="1.45"/>
<circle cx="177.68" cy="348.45" r="1.45" fill="#fff" stroke="#1a2cff" stroke-width="1.45"/>
<circle cx="179.14" cy="360.28" r="1.45" fill="#fff" stroke="#1a2cff" stroke-width="1.45"/>
<circle cx="180.59" cy="367.63" r="1.45" fill="#fff" stroke="#1a2cff" stroke-width="1.45"/>
<circle cx="182.04" cy="370.82" r="1.45" fill="#fff" stroke="#1a2cff" stroke-width="1.45"/>
<circle cx="183.5" cy="371.31" r="1.45" fill="#fff" stroke="#1a2cff" stroke-width="1.45"/>
<circle cx="184.95" cy="371.31" r="1.45" fill="#fff" stroke="#1a2cff" stroke-width="1.45"/>
<circle cx="186.4" cy="371.31" r="1.45" fill="#fff" stroke="#1a2cff" stroke-width="1.45"/>
<circle cx="187.86" cy="371.31" r="1.45" fill="#fff" stroke="#1a2cff" stroke-width="1.45"/>
<circle cx="189.31" cy="371.31" r="1.45" fill="#fff" stroke="#1a2cff" stroke-width="1.45"/>
<circle cx="190.76" cy="371.31" r="1.45" fill="#fff" stroke="#1a2cff" stroke-width="1.45"/>
<circle cx="192.22" cy="371.31" r="1.45" fill="#fff" stroke="#1a2cff" stroke-width="1.45"/>
<circle cx="193.67" cy="371.31" r="1.45" fill="#fff" stroke="#1a2cff" stroke-width="1.45"/>
<circle cx="195.12" cy="371.31" r="1.45" fill="#fff" stroke="#1a2cff" stroke-width="1.45"/>
<circle cx="196.58" cy="371.31" r="1.45" fill="#fff" stroke="#1a2cff" stroke-width="1.45"/>
<circle cx="198.03" cy="371.31" r="1.45" fill="#fff" stroke="#1a2cff" stroke-width="1.45"/>
<circle cx="199.49" cy="371.31" r="1.45" fill="#fff" stroke="#1a2cff" stroke-width="1.45"/>
<polyline points="39.6,371.91 42.51,371.9 45.41,371.79 48.32,371.6 51.23,371.33 54.14,370.98 57.04,370.48 59.95,369.84 62.86,369 65.76,367.99 68.67,366.6 71.58,364.73 74.48,362.43 77.39,359.63 80.3,356.29 83.21,352.78 86.11,349.23 89.02,345.61 91.93,342.08 94.83,338.65 97.74,335.19 100.65,331.66 103.55,328.07 106.46,324.36 109.37,320.5 112.28,316.67 115.18,312.96 118.09,309.28 121,305.56 123.9,301.89 126.81,297.84 129.72,293.11 132.62,288.01 135.53,283.02 138.44,278.05 141.34,273.16 144.25,268.39 147.16,263.73 150.07,259.14 152.97,254.6 155.88,250.32 158.79,245.27 161.69,241.06 164.6,237.86 167.51,235.74 170.41,234.27 173.32,233.34 176.23,232.86 179.14,232.73 182.04,232.71 184.95,232.71 187.86,232.71 190.76,232.71 193.67,232.72 196.58,232.73 199.49,232.73" fill="none" stroke="#1a2cff" stroke-width="0.9" stroke-linejoin="round" stroke-linecap="round" clip-path="url(#clipd)"/>
<circle cx="39.6" cy="371.91" r="1.45" fill="#fff" stroke="#1a2cff" stroke-width="1.45"/>
<circle cx="42.51" cy="371.9" r="1.45" fill="#fff" stroke="#1a2cff" stroke-width="1.45"/>
<circle cx="45.41" cy="371.79" r="1.45" fill="#fff" stroke="#1a2cff" stroke-width="1.45"/>
<circle cx="48.32" cy="371.6" r="1.45" fill="#fff" stroke="#1a2cff" stroke-width="1.45"/>
<circle cx="51.23" cy="371.33" r="1.45" fill="#fff" stroke="#1a2cff" stroke-width="1.45"/>
<circle cx="54.14" cy="370.98" r="1.45" fill="#fff" stroke="#1a2cff" stroke-width="1.45"/>
<circle cx="57.04" cy="370.48" r="1.45" fill="#fff" stroke="#1a2cff" stroke-width="1.45"/>
<circle cx="59.95" cy="369.84" r="1.45" fill="#fff" stroke="#1a2cff" stroke-width="1.45"/>
<circle cx="62.86" cy="369" r="1.45" fill="#fff" stroke="#1a2cff" stroke-width="1.45"/>
<circle cx="65.76" cy="367.99" r="1.45" fill="#fff" stroke="#1a2cff" stroke-width="1.45"/>
<circle cx="68.67" cy="366.6" r="1.45" fill="#fff" stroke="#1a2cff" stroke-width="1.45"/>
<circle cx="71.58" cy="364.73" r="1.45" fill="#fff" stroke="#1a2cff" stroke-width="1.45"/>
<circle cx="74.48" cy="362.43" r="1.45" fill="#fff" stroke="#1a2cff" stroke-width="1.45"/>
<circle cx="77.39" cy="359.63" r="1.45" fill="#fff" stroke="#1a2cff" stroke-width="1.45"/>
<circle cx="80.3" cy="356.29" r="1.45" fill="#fff" stroke="#1a2cff" stroke-width="1.45"/>
<circle cx="83.21" cy="352.78" r="1.45" fill="#fff" stroke="#1a2cff" stroke-width="1.45"/>
<circle cx="86.11" cy="349.23" r="1.45" fill="#fff" stroke="#1a2cff" stroke-width="1.45"/>
<circle cx="89.02" cy="345.61" r="1.45" fill="#fff" stroke="#1a2cff" stroke-width="1.45"/>
<circle cx="91.93" cy="342.08" r="1.45" fill="#fff" stroke="#1a2cff" stroke-width="1.45"/>
<circle cx="94.83" cy="338.65" r="1.45" fill="#fff" stroke="#1a2cff" stroke-width="1.45"/>
<circle cx="97.74" cy="335.19" r="1.45" fill="#fff" stroke="#1a2cff" stroke-width="1.45"/>
<circle cx="100.65" cy="331.66" r="1.45" fill="#fff" stroke="#1a2cff" stroke-width="1.45"/>
<circle cx="103.55" cy="328.07" r="1.45" fill="#fff" stroke="#1a2cff" stroke-width="1.45"/>
<circle cx="106.46" cy="324.36" r="1.45" fill="#fff" stroke="#1a2cff" stroke-width="1.45"/>
<circle cx="109.37" cy="320.5" r="1.45" fill="#fff" stroke="#1a2cff" stroke-width="1.45"/>
<circle cx="112.28" cy="316.67" r="1.45" fill="#fff" stroke="#1a2cff" stroke-width="1.45"/>
<circle cx="115.18" cy="312.96" r="1.45" fill="#fff" stroke="#1a2cff" stroke-width="1.45"/>
<circle cx="118.09" cy="309.28" r="1.45" fill="#fff" stroke="#1a2cff" stroke-width="1.45"/>
<circle cx="121" cy="305.56" r="1.45" fill="#fff" stroke="#1a2cff" stroke-width="1.45"/>
<circle cx="123.9" cy="301.89" r="1.45" fill="#fff" stroke="#1a2cff" stroke-width="1.45"/>
<circle cx="126.81" cy="297.84" r="1.45" fill="#fff" stroke="#1a2cff" stroke-width="1.45"/>
<circle cx="129.72" cy="293.11" r="1.45" fill="#fff" stroke="#1a2cff" stroke-width="1.45"/>
<circle cx="132.62" cy="288.01" r="1.45" fill="#fff" stroke="#1a2cff" stroke-width="1.45"/>
<circle cx="135.53" cy="283.02" r="1.45" fill="#fff" stroke="#1a2cff" stroke-width="1.45"/>
<circle cx="138.44" cy="278.05" r="1.45" fill="#fff" stroke="#1a2cff" stroke-width="1.45"/>
<circle cx="141.34" cy="273.16" r="1.45" fill="#fff" stroke="#1a2cff" stroke-width="1.45"/>
<circle cx="144.25" cy="268.39" r="1.45" fill="#fff" stroke="#1a2cff" stroke-width="1.45"/>
<circle cx="147.16" cy="263.73" r="1.45" fill="#fff" stroke="#1a2cff" stroke-width="1.45"/>
<circle cx="150.07" cy="259.14" r="1.45" fill="#fff" stroke="#1a2cff" stroke-width="1.45"/>
<circle cx="152.97" cy="254.6" r="1.45" fill="#fff" stroke="#1a2cff" stroke-width="1.45"/>
<circle cx="155.88" cy="250.32" r="1.45" fill="#fff" stroke="#1a2cff" stroke-width="1.45"/>
<circle cx="158.79" cy="245.27" r="1.45" fill="#fff" stroke="#1a2cff" stroke-width="1.45"/>
<circle cx="161.69" cy="241.06" r="1.45" fill="#fff" stroke="#1a2cff" stroke-width="1.45"/>
<circle cx="164.6" cy="237.86" r="1.45" fill="#fff" stroke="#1a2cff" stroke-width="1.45"/>
<circle cx="167.51" cy="235.74" r="1.45" fill="#fff" stroke="#1a2cff" stroke-width="1.45"/>
<circle cx="170.41" cy="234.27" r="1.45" fill="#fff" stroke="#1a2cff" stroke-width="1.45"/>
<circle cx="173.32" cy="233.34" r="1.45" fill="#fff" stroke="#1a2cff" stroke-width="1.45"/>
<circle cx="176.23" cy="232.86" r="1.45" fill="#fff" stroke="#1a2cff" stroke-width="1.45"/>
<circle cx="179.14" cy="232.73" r="1.45" fill="#fff" stroke="#1a2cff" stroke-width="1.45"/>
<circle cx="182.04" cy="232.71" r="1.45" fill="#fff" stroke="#1a2cff" stroke-width="1.45"/>
<circle cx="184.95" cy="232.71" r="1.45" fill="#fff" stroke="#1a2cff" stroke-width="1.45"/>
<circle cx="187.86" cy="232.71" r="1.45" fill="#fff" stroke="#1a2cff" stroke-width="1.45"/>
<circle cx="190.76" cy="232.71" r="1.45" fill="#fff" stroke="#1a2cff" stroke-width="1.45"/>
<circle cx="193.67" cy="232.72" r="1.45" fill="#fff" stroke="#1a2cff" stroke-width="1.45"/>
<circle cx="196.58" cy="232.73" r="1.45" fill="#fff" stroke="#1a2cff" stroke-width="1.45"/>
<circle cx="199.49" cy="232.73" r="1.45" fill="#fff" stroke="#1a2cff" stroke-width="1.45"/>
<polyline points="39.6,356.95 41.05,334.98 42.51,320.33 43.96,313.73 45.41,307.14 46.87,302.48 48.32,297.82 49.77,295.34 51.23,293.42 52.68,291.49 54.14,289.56 55.59,287.68 57.04,285.8 58.5,283.93 59.95,281.95 61.4,279.12 62.86,276.28 64.31,273.45 65.76,269.05 67.22,264.66 68.67,260.15 70.12,255.64 71.58,251.58 73.03,248.18 74.48,244.78 75.94,240.04 77.39,234.55 78.84,231.62 80.3,230.14 81.75,229.65 83.21,230.59 84.66,229.93 86.11,227.99 87.57,228.74 89.02,226.06 90.47,226.81 91.93,227.84 93.38,229.73 94.83,229.17 96.29,228.82 97.74,230.13 99.19,229.95 100.65,230.72 102.1,229.53 103.55,229.87 105.01,230.42 106.46,231.35 107.91,232.3 109.37,233.94 110.82,233.18 112.28,232.32 113.73,232.06 115.18,234.45 116.64,235.37 118.09,235.88 119.54,234.65 121,236.79 122.45,236.33 123.9,235.92 125.36,234.84 126.81,234.87 128.26,232.83 129.72,231.29 131.17,232.2 132.62,231.26 134.08,230.48 135.53,227.5 136.98,228.5 138.44,228.1 139.89,229.12 141.34,229.33 142.8,231.33 144.25,233 145.71,234.69 147.16,236.6 148.61,237.09 150.07,240.54 151.52,241.41 152.97,243.37 154.43,243.7 155.88,243.63 157.33,242.17 158.79,239.15 160.24,236.5 161.69,234.88 163.15,236.09 164.6,236.68 166.05,234.09 167.51,236.51 168.96,241.7 170.41,272.04 171.87,295.16 173.32,311.62 174.78,326.72 176.23,338.36 177.68,348.45 179.14,360.28 180.59,367.63 182.04,370.82 183.5,371.31 184.95,371.31 186.4,371.31 187.86,371.31 189.31,371.31 190.76,371.31 192.22,371.31 193.67,371.31 195.12,371.31 196.58,371.31 198.03,371.31 199.49,371.31" fill="none" stroke="#dd1111" stroke-width="0.9" stroke-linejoin="round" stroke-linecap="round" clip-path="url(#clipd)"/>
<circle cx="39.6" cy="356.95" r="1.45" fill="#fff" stroke="#dd1111" stroke-width="1.45"/>
<circle cx="41.05" cy="334.98" r="1.45" fill="#fff" stroke="#dd1111" stroke-width="1.45"/>
<circle cx="42.51" cy="320.33" r="1.45" fill="#fff" stroke="#dd1111" stroke-width="1.45"/>
<circle cx="43.96" cy="313.73" r="1.45" fill="#fff" stroke="#dd1111" stroke-width="1.45"/>
<circle cx="45.41" cy="307.14" r="1.45" fill="#fff" stroke="#dd1111" stroke-width="1.45"/>
<circle cx="46.87" cy="302.48" r="1.45" fill="#fff" stroke="#dd1111" stroke-width="1.45"/>
<circle cx="48.32" cy="297.82" r="1.45" fill="#fff" stroke="#dd1111" stroke-width="1.45"/>
<circle cx="49.77" cy="295.34" r="1.45" fill="#fff" stroke="#dd1111" stroke-width="1.45"/>
<circle cx="51.23" cy="293.42" r="1.45" fill="#fff" stroke="#dd1111" stroke-width="1.45"/>
<circle cx="52.68" cy="291.49" r="1.45" fill="#fff" stroke="#dd1111" stroke-width="1.45"/>
<circle cx="54.14" cy="289.56" r="1.45" fill="#fff" stroke="#dd1111" stroke-width="1.45"/>
<circle cx="55.59" cy="287.68" r="1.45" fill="#fff" stroke="#dd1111" stroke-width="1.45"/>
<circle cx="57.04" cy="285.8" r="1.45" fill="#fff" stroke="#dd1111" stroke-width="1.45"/>
<circle cx="58.5" cy="283.93" r="1.45" fill="#fff" stroke="#dd1111" stroke-width="1.45"/>
<circle cx="59.95" cy="281.95" r="1.45" fill="#fff" stroke="#dd1111" stroke-width="1.45"/>
<circle cx="61.4" cy="279.12" r="1.45" fill="#fff" stroke="#dd1111" stroke-width="1.45"/>
<circle cx="62.86" cy="276.28" r="1.45" fill="#fff" stroke="#dd1111" stroke-width="1.45"/>
<circle cx="64.31" cy="273.45" r="1.45" fill="#fff" stroke="#dd1111" stroke-width="1.45"/>
<circle cx="65.76" cy="269.05" r="1.45" fill="#fff" stroke="#dd1111" stroke-width="1.45"/>
<circle cx="67.22" cy="264.66" r="1.45" fill="#fff" stroke="#dd1111" stroke-width="1.45"/>
<circle cx="68.67" cy="260.15" r="1.45" fill="#fff" stroke="#dd1111" stroke-width="1.45"/>
<circle cx="70.12" cy="255.64" r="1.45" fill="#fff" stroke="#dd1111" stroke-width="1.45"/>
<circle cx="71.58" cy="251.58" r="1.45" fill="#fff" stroke="#dd1111" stroke-width="1.45"/>
<circle cx="73.03" cy="248.18" r="1.45" fill="#fff" stroke="#dd1111" stroke-width="1.45"/>
<circle cx="74.48" cy="244.78" r="1.45" fill="#fff" stroke="#dd1111" stroke-width="1.45"/>
<circle cx="75.94" cy="240.04" r="1.45" fill="#fff" stroke="#dd1111" stroke-width="1.45"/>
<circle cx="77.39" cy="234.55" r="1.45" fill="#fff" stroke="#dd1111" stroke-width="1.45"/>
<circle cx="78.84" cy="231.62" r="1.45" fill="#fff" stroke="#dd1111" stroke-width="1.45"/>
<circle cx="80.3" cy="230.14" r="1.45" fill="#fff" stroke="#dd1111" stroke-width="1.45"/>
<circle cx="81.75" cy="229.65" r="1.45" fill="#fff" stroke="#dd1111" stroke-width="1.45"/>
<circle cx="83.21" cy="230.59" r="1.45" fill="#fff" stroke="#dd1111" stroke-width="1.45"/>
<circle cx="84.66" cy="229.93" r="1.45" fill="#fff" stroke="#dd1111" stroke-width="1.45"/>
<circle cx="86.11" cy="227.99" r="1.45" fill="#fff" stroke="#dd1111" stroke-width="1.45"/>
<circle cx="87.57" cy="228.74" r="1.45" fill="#fff" stroke="#dd1111" stroke-width="1.45"/>
<circle cx="89.02" cy="226.06" r="1.45" fill="#fff" stroke="#dd1111" stroke-width="1.45"/>
<circle cx="90.47" cy="226.81" r="1.45" fill="#fff" stroke="#dd1111" stroke-width="1.45"/>
<circle cx="91.93" cy="227.84" r="1.45" fill="#fff" stroke="#dd1111" stroke-width="1.45"/>
<circle cx="93.38" cy="229.73" r="1.45" fill="#fff" stroke="#dd1111" stroke-width="1.45"/>
<circle cx="94.83" cy="229.17" r="1.45" fill="#fff" stroke="#dd1111" stroke-width="1.45"/>
<circle cx="96.29" cy="228.82" r="1.45" fill="#fff" stroke="#dd1111" stroke-width="1.45"/>
<circle cx="97.74" cy="230.13" r="1.45" fill="#fff" stroke="#dd1111" stroke-width="1.45"/>
<circle cx="99.19" cy="229.95" r="1.45" fill="#fff" stroke="#dd1111" stroke-width="1.45"/>
<circle cx="100.65" cy="230.72" r="1.45" fill="#fff" stroke="#dd1111" stroke-width="1.45"/>
<circle cx="102.1" cy="229.53" r="1.45" fill="#fff" stroke="#dd1111" stroke-width="1.45"/>
<circle cx="103.55" cy="229.87" r="1.45" fill="#fff" stroke="#dd1111" stroke-width="1.45"/>
<circle cx="105.01" cy="230.42" r="1.45" fill="#fff" stroke="#dd1111" stroke-width="1.45"/>
<circle cx="106.46" cy="231.35" r="1.45" fill="#fff" stroke="#dd1111" stroke-width="1.45"/>
<circle cx="107.91" cy="232.3" r="1.45" fill="#fff" stroke="#dd1111" stroke-width="1.45"/>
<circle cx="109.37" cy="233.94" r="1.45" fill="#fff" stroke="#dd1111" stroke-width="1.45"/>
<circle cx="110.82" cy="233.18" r="1.45" fill="#fff" stroke="#dd1111" stroke-width="1.45"/>
<circle cx="112.28" cy="232.32" r="1.45" fill="#fff" stroke="#dd1111" stroke-width="1.45"/>
<circle cx="113.73" cy="232.06" r="1.45" fill="#fff" stroke="#dd1111" stroke-width="1.45"/>
<circle cx="115.18" cy="234.45" r="1.45" fill="#fff" stroke="#dd1111" stroke-width="1.45"/>
<circle cx="116.64" cy="235.37" r="1.45" fill="#fff" stroke="#dd1111" stroke-width="1.45"/>
<circle cx="118.09" cy="235.88" r="1.45" fill="#fff" stroke="#dd1111" stroke-width="1.45"/>
<circle cx="119.54" cy="234.65" r="1.45" fill="#fff" stroke="#dd1111" stroke-width="1.45"/>
<circle cx="121" cy="236.79" r="1.45" fill="#fff" stroke="#dd1111" stroke-width="1.45"/>
<circle cx="122.45" cy="236.33" r="1.45" fill="#fff" stroke="#dd1111" stroke-width="1.45"/>
<circle cx="123.9" cy="235.92" r="1.45" fill="#fff" stroke="#dd1111" stroke-width="1.45"/>
<circle cx="125.36" cy="234.84" r="1.45" fill="#fff" stroke="#dd1111" stroke-width="1.45"/>
<circle cx="126.81" cy="234.87" r="1.45" fill="#fff" stroke="#dd1111" stroke-width="1.45"/>
<circle cx="128.26" cy="232.83" r="1.45" fill="#fff" stroke="#dd1111" stroke-width="1.45"/>
<circle cx="129.72" cy="231.29" r="1.45" fill="#fff" stroke="#dd1111" stroke-width="1.45"/>
<circle cx="131.17" cy="232.2" r="1.45" fill="#fff" stroke="#dd1111" stroke-width="1.45"/>
<circle cx="132.62" cy="231.26" r="1.45" fill="#fff" stroke="#dd1111" stroke-width="1.45"/>
<circle cx="134.08" cy="230.48" r="1.45" fill="#fff" stroke="#dd1111" stroke-width="1.45"/>
<circle cx="135.53" cy="227.5" r="1.45" fill="#fff" stroke="#dd1111" stroke-width="1.45"/>
<circle cx="136.98" cy="228.5" r="1.45" fill="#fff" stroke="#dd1111" stroke-width="1.45"/>
<circle cx="138.44" cy="228.1" r="1.45" fill="#fff" stroke="#dd1111" stroke-width="1.45"/>
<circle cx="139.89" cy="229.12" r="1.45" fill="#fff" stroke="#dd1111" stroke-width="1.45"/>
<circle cx="141.34" cy="229.33" r="1.45" fill="#fff" stroke="#dd1111" stroke-width="1.45"/>
<circle cx="142.8" cy="231.33" r="1.45" fill="#fff" stroke="#dd1111" stroke-width="1.45"/>
<circle cx="144.25" cy="233" r="1.45" fill="#fff" stroke="#dd1111" stroke-width="1.45"/>
<circle cx="145.71" cy="234.69" r="1.45" fill="#fff" stroke="#dd1111" stroke-width="1.45"/>
<circle cx="147.16" cy="236.6" r="1.45" fill="#fff" stroke="#dd1111" stroke-width="1.45"/>
<circle cx="148.61" cy="237.09" r="1.45" fill="#fff" stroke="#dd1111" stroke-width="1.45"/>
<circle cx="150.07" cy="240.54" r="1.45" fill="#fff" stroke="#dd1111" stroke-width="1.45"/>
<circle cx="151.52" cy="241.41" r="1.45" fill="#fff" stroke="#dd1111" stroke-width="1.45"/>
<circle cx="152.97" cy="243.37" r="1.45" fill="#fff" stroke="#dd1111" stroke-width="1.45"/>
<circle cx="154.43" cy="243.7" r="1.45" fill="#fff" stroke="#dd1111" stroke-width="1.45"/>
<circle cx="155.88" cy="243.63" r="1.45" fill="#fff" stroke="#dd1111" stroke-width="1.45"/>
<circle cx="157.33" cy="242.17" r="1.45" fill="#fff" stroke="#dd1111" stroke-width="1.45"/>
<circle cx="158.79" cy="239.15" r="1.45" fill="#fff" stroke="#dd1111" stroke-width="1.45"/>
<circle cx="160.24" cy="236.5" r="1.45" fill="#fff" stroke="#dd1111" stroke-width="1.45"/>
<circle cx="161.69" cy="234.88" r="1.45" fill="#fff" stroke="#dd1111" stroke-width="1.45"/>
<circle cx="163.15" cy="236.09" r="1.45" fill="#fff" stroke="#dd1111" stroke-width="1.45"/>
<circle cx="164.6" cy="236.68" r="1.45" fill="#fff" stroke="#dd1111" stroke-width="1.45"/>
<circle cx="166.05" cy="234.09" r="1.45" fill="#fff" stroke="#dd1111" stroke-width="1.45"/>
<circle cx="167.51" cy="236.51" r="1.45" fill="#fff" stroke="#dd1111" stroke-width="1.45"/>
<circle cx="168.96" cy="241.7" r="1.45" fill="#fff" stroke="#dd1111" stroke-width="1.45"/>
<circle cx="170.41" cy="272.04" r="1.45" fill="#fff" stroke="#dd1111" stroke-width="1.45"/>
<circle cx="171.87" cy="295.16" r="1.45" fill="#fff" stroke="#dd1111" stroke-width="1.45"/>
<circle cx="173.32" cy="311.62" r="1.45" fill="#fff" stroke="#dd1111" stroke-width="1.45"/>
<circle cx="174.78" cy="326.72" r="1.45" fill="#fff" stroke="#dd1111" stroke-width="1.45"/>
<circle cx="176.23" cy="338.36" r="1.45" fill="#fff" stroke="#dd1111" stroke-width="1.45"/>
<circle cx="177.68" cy="348.45" r="1.45" fill="#fff" stroke="#dd1111" stroke-width="1.45"/>
<circle cx="179.14" cy="360.28" r="1.45" fill="#fff" stroke="#dd1111" stroke-width="1.45"/>
<circle cx="180.59" cy="367.63" r="1.45" fill="#fff" stroke="#dd1111" stroke-width="1.45"/>
<circle cx="182.04" cy="370.82" r="1.45" fill="#fff" stroke="#dd1111" stroke-width="1.45"/>
<circle cx="183.5" cy="371.31" r="1.45" fill="#fff" stroke="#dd1111" stroke-width="1.45"/>
<circle cx="184.95" cy="371.31" r="1.45" fill="#fff" stroke="#dd1111" stroke-width="1.45"/>
<circle cx="186.4" cy="371.31" r="1.45" fill="#fff" stroke="#dd1111" stroke-width="1.45"/>
<circle cx="187.86" cy="371.31" r="1.45" fill="#fff" stroke="#dd1111" stroke-width="1.45"/>
<circle cx="189.31" cy="371.31" r="1.45" fill="#fff" stroke="#dd1111" stroke-width="1.45"/>
<circle cx="190.76" cy="371.31" r="1.45" fill="#fff" stroke="#dd1111" stroke-width="1.45"/>
<circle cx="192.22" cy="371.31" r="1.45" fill="#fff" stroke="#dd1111" stroke-width="1.45"/>
<circle cx="193.67" cy="371.31" r="1.45" fill="#fff" stroke="#dd1111" stroke-width="1.45"/>
<circle cx="195.12" cy="371.31" r="1.45" fill="#fff" stroke="#dd1111" stroke-width="1.45"/>
<circle cx="196.58" cy="371.31" r="1.45" fill="#fff" stroke="#dd1111" stroke-width="1.45"/>
<circle cx="198.03" cy="371.31" r="1.45" fill="#fff" stroke="#dd1111" stroke-width="1.45"/>
<circle cx="199.49" cy="371.31" r="1.45" fill="#fff" stroke="#dd1111" stroke-width="1.45"/>
<polyline points="39.6,371.6 42.51,371.59 45.41,371.48 48.32,371.29 51.23,371.02 54.14,370.67 57.04,370.17 59.95,369.53 62.86,368.69 65.76,367.68 68.67,366.29 71.58,364.42 74.48,362.12 77.39,359.32 80.3,355.98 83.21,352.47 86.11,348.92 89.02,345.3 91.93,341.77 94.83,338.34 97.74,334.88 100.65,331.35 103.55,327.76 106.46,324.05 109.37,320.19 112.28,316.36 115.18,312.65 118.09,308.97 121,305.25 123.9,301.58 126.81,297.54 129.72,292.8 132.62,287.71 135.53,282.71 138.44,277.74 141.34,272.85 144.25,268.08 147.16,263.42 150.07,258.83 152.97,254.29 155.88,250.01 158.79,244.96 161.69,240.75 164.6,237.55 167.51,235.43 170.41,233.96 173.32,233.03 176.23,232.55 179.14,232.42 182.04,232.41 184.95,232.4 187.86,232.4 190.76,232.41 193.67,232.41 196.58,232.42 199.49,232.42" fill="none" stroke="#dd1111" stroke-width="0.9" stroke-linejoin="round" stroke-linecap="round" clip-path="url(#clipd)"/>
<circle cx="39.6" cy="371.6" r="1.45" fill="#fff" stroke="#dd1111" stroke-width="1.45"/>
<circle cx="42.51" cy="371.59" r="1.45" fill="#fff" stroke="#dd1111" stroke-width="1.45"/>
<circle cx="45.41" cy="371.48" r="1.45" fill="#fff" stroke="#dd1111" stroke-width="1.45"/>
<circle cx="48.32" cy="371.29" r="1.45" fill="#fff" stroke="#dd1111" stroke-width="1.45"/>
<circle cx="51.23" cy="371.02" r="1.45" fill="#fff" stroke="#dd1111" stroke-width="1.45"/>
<circle cx="54.14" cy="370.67" r="1.45" fill="#fff" stroke="#dd1111" stroke-width="1.45"/>
<circle cx="57.04" cy="370.17" r="1.45" fill="#fff" stroke="#dd1111" stroke-width="1.45"/>
<circle cx="59.95" cy="369.53" r="1.45" fill="#fff" stroke="#dd1111" stroke-width="1.45"/>
<circle cx="62.86" cy="368.69" r="1.45" fill="#fff" stroke="#dd1111" stroke-width="1.45"/>
<circle cx="65.76" cy="367.68" r="1.45" fill="#fff" stroke="#dd1111" stroke-width="1.45"/>
<circle cx="68.67" cy="366.29" r="1.45" fill="#fff" stroke="#dd1111" stroke-width="1.45"/>
<circle cx="71.58" cy="364.42" r="1.45" fill="#fff" stroke="#dd1111" stroke-width="1.45"/>
<circle cx="74.48" cy="362.12" r="1.45" fill="#fff" stroke="#dd1111" stroke-width="1.45"/>
<circle cx="77.39" cy="359.32" r="1.45" fill="#fff" stroke="#dd1111" stroke-width="1.45"/>
<circle cx="80.3" cy="355.98" r="1.45" fill="#fff" stroke="#dd1111" stroke-width="1.45"/>
<circle cx="83.21" cy="352.47" r="1.45" fill="#fff" stroke="#dd1111" stroke-width="1.45"/>
<circle cx="86.11" cy="348.92" r="1.45" fill="#fff" stroke="#dd1111" stroke-width="1.45"/>
<circle cx="89.02" cy="345.3" r="1.45" fill="#fff" stroke="#dd1111" stroke-width="1.45"/>
<circle cx="91.93" cy="341.77" r="1.45" fill="#fff" stroke="#dd1111" stroke-width="1.45"/>
<circle cx="94.83" cy="338.34" r="1.45" fill="#fff" stroke="#dd1111" stroke-width="1.45"/>
<circle cx="97.74" cy="334.88" r="1.45" fill="#fff" stroke="#dd1111" stroke-width="1.45"/>
<circle cx="100.65" cy="331.35" r="1.45" fill="#fff" stroke="#dd1111" stroke-width="1.45"/>
<circle cx="103.55" cy="327.76" r="1.45" fill="#fff" stroke="#dd1111" stroke-width="1.45"/>
<circle cx="106.46" cy="324.05" r="1.45" fill="#fff" stroke="#dd1111" stroke-width="1.45"/>
<circle cx="109.37" cy="320.19" r="1.45" fill="#fff" stroke="#dd1111" stroke-width="1.45"/>
<circle cx="112.28" cy="316.36" r="1.45" fill="#fff" stroke="#dd1111" stroke-width="1.45"/>
<circle cx="115.18" cy="312.65" r="1.45" fill="#fff" stroke="#dd1111" stroke-width="1.45"/>
<circle cx="118.09" cy="308.97" r="1.45" fill="#fff" stroke="#dd1111" stroke-width="1.45"/>
<circle cx="121" cy="305.25" r="1.45" fill="#fff" stroke="#dd1111" stroke-width="1.45"/>
<circle cx="123.9" cy="301.58" r="1.45" fill="#fff" stroke="#dd1111" stroke-width="1.45"/>
<circle cx="126.81" cy="297.54" r="1.45" fill="#fff" stroke="#dd1111" stroke-width="1.45"/>
<circle cx="129.72" cy="292.8" r="1.45" fill="#fff" stroke="#dd1111" stroke-width="1.45"/>
<circle cx="132.62" cy="287.71" r="1.45" fill="#fff" stroke="#dd1111" stroke-width="1.45"/>
<circle cx="135.53" cy="282.71" r="1.45" fill="#fff" stroke="#dd1111" stroke-width="1.45"/>
<circle cx="138.44" cy="277.74" r="1.45" fill="#fff" stroke="#dd1111" stroke-width="1.45"/>
<circle cx="141.34" cy="272.85" r="1.45" fill="#fff" stroke="#dd1111" stroke-width="1.45"/>
<circle cx="144.25" cy="268.08" r="1.45" fill="#fff" stroke="#dd1111" stroke-width="1.45"/>
<circle cx="147.16" cy="263.42" r="1.45" fill="#fff" stroke="#dd1111" stroke-width="1.45"/>
<circle cx="150.07" cy="258.83" r="1.45" fill="#fff" stroke="#dd1111" stroke-width="1.45"/>
<circle cx="152.97" cy="254.29" r="1.45" fill="#fff" stroke="#dd1111" stroke-width="1.45"/>
<circle cx="155.88" cy="250.01" r="1.45" fill="#fff" stroke="#dd1111" stroke-width="1.45"/>
<circle cx="158.79" cy="244.96" r="1.45" fill="#fff" stroke="#dd1111" stroke-width="1.45"/>
<circle cx="161.69" cy="240.75" r="1.45" fill="#fff" stroke="#dd1111" stroke-width="1.45"/>
<circle cx="164.6" cy="237.55" r="1.45" fill="#fff" stroke="#dd1111" stroke-width="1.45"/>
<circle cx="167.51" cy="235.43" r="1.45" fill="#fff" stroke="#dd1111" stroke-width="1.45"/>
<circle cx="170.41" cy="233.96" r="1.45" fill="#fff" stroke="#dd1111" stroke-width="1.45"/>
<circle cx="173.32" cy="233.03" r="1.45" fill="#fff" stroke="#dd1111" stroke-width="1.45"/>
<circle cx="176.23" cy="232.55" r="1.45" fill="#fff" stroke="#dd1111" stroke-width="1.45"/>
<circle cx="179.14" cy="232.42" r="1.45" fill="#fff" stroke="#dd1111" stroke-width="1.45"/>
<circle cx="182.04" cy="232.41" r="1.45" fill="#fff" stroke="#dd1111" stroke-width="1.45"/>
<circle cx="184.95" cy="232.4" r="1.45" fill="#fff" stroke="#dd1111" stroke-width="1.45"/>
<circle cx="187.86" cy="232.4" r="1.45" fill="#fff" stroke="#dd1111" stroke-width="1.45"/>
<circle cx="190.76" cy="232.41" r="1.45" fill="#fff" stroke="#dd1111" stroke-width="1.45"/>
<circle cx="193.67" cy="232.41" r="1.45" fill="#fff" stroke="#dd1111" stroke-width="1.45"/>
<circle cx="196.58" cy="232.42" r="1.45" fill="#fff" stroke="#dd1111" stroke-width="1.45"/>
<circle cx="199.49" cy="232.42" r="1.45" fill="#fff" stroke="#dd1111" stroke-width="1.45"/>
<rect x="39.6" y="217.3" width="159.9" height="154.3" fill="none" stroke="#000" stroke-width="1.3" />
<line x1="39.6" y1="342.3" x2="42" y2="342.3" stroke="#000" stroke-width="1.1" />
<text transform="translate(36.8,345.9) scale(1,1.08)" font-size="13" text-anchor="end" fill="#000" >20</text>
<line x1="39.6" y1="313" x2="42" y2="313" stroke="#000" stroke-width="1.1" />
<text transform="translate(36.8,316.6) scale(1,1.08)" font-size="13" text-anchor="end" fill="#000" >40</text>
<line x1="39.6" y1="283.7" x2="42" y2="283.7" stroke="#000" stroke-width="1.1" />
<text transform="translate(36.8,287.3) scale(1,1.08)" font-size="13" text-anchor="end" fill="#000" >60</text>
<line x1="39.6" y1="254.4" x2="42" y2="254.4" stroke="#000" stroke-width="1.1" />
<text transform="translate(36.8,258) scale(1,1.08)" font-size="13" text-anchor="end" fill="#000" >80</text>
<line x1="39.6" y1="225.1" x2="42" y2="225.1" stroke="#000" stroke-width="1.1" />
<text transform="translate(36.8,228.7) scale(1,1.08)" font-size="13" text-anchor="end" fill="#000" >100</text>
<line x1="39.6" y1="356.95" x2="41.4" y2="356.95" stroke="#000" stroke-width="1.0" />
<line x1="39.6" y1="327.65" x2="41.4" y2="327.65" stroke="#000" stroke-width="1.0" />
<line x1="39.6" y1="298.35" x2="41.4" y2="298.35" stroke="#000" stroke-width="1.0" />
<line x1="39.6" y1="269.05" x2="41.4" y2="269.05" stroke="#000" stroke-width="1.0" />
<line x1="39.6" y1="239.75" x2="41.4" y2="239.75" stroke="#000" stroke-width="1.0" />
<text transform="translate(202,376.3) scale(1,1.08)" font-size="13.3" text-anchor="start" fill="#000" >0</text>
<line x1="199.5" y1="340.74" x2="197.1" y2="340.74" stroke="#000" stroke-width="1.1" />
<text transform="translate(202,345.44) scale(1,1.08)" font-size="13.3" text-anchor="start" fill="#000" >5</text>
<line x1="199.5" y1="309.88" x2="197.1" y2="309.88" stroke="#000" stroke-width="1.1" />
<text transform="translate(202,314.58) scale(1,1.08)" font-size="13.3" text-anchor="start" fill="#000" >10</text>
<line x1="199.5" y1="279.02" x2="197.1" y2="279.02" stroke="#000" stroke-width="1.1" />
<text transform="translate(202,283.72) scale(1,1.08)" font-size="13.3" text-anchor="start" fill="#000" >15</text>
<line x1="199.5" y1="248.16" x2="197.1" y2="248.16" stroke="#000" stroke-width="1.1" />
<text transform="translate(202,252.86) scale(1,1.08)" font-size="13.3" text-anchor="start" fill="#000" >20</text>
<text transform="translate(202,222) scale(1,1.08)" font-size="13.3" text-anchor="start" fill="#000" >25</text>
<line x1="199.5" y1="356.17" x2="197.7" y2="356.17" stroke="#000" stroke-width="1.0" />
<line x1="199.5" y1="325.31" x2="197.7" y2="325.31" stroke="#000" stroke-width="1.0" />
<line x1="199.5" y1="294.45" x2="197.7" y2="294.45" stroke="#000" stroke-width="1.0" />
<line x1="199.5" y1="263.59" x2="197.7" y2="263.59" stroke="#000" stroke-width="1.0" />
<line x1="199.5" y1="232.73" x2="197.7" y2="232.73" stroke="#000" stroke-width="1.0" />
<text transform="translate(39.6,384.9) scale(1,1.08)" font-size="13" text-anchor="middle" fill="#000" >300</text>
<line x1="68.67" y1="371.6" x2="68.67" y2="369.2" stroke="#000" stroke-width="1.1" />
<text transform="translate(68.67,384.9) scale(1,1.08)" font-size="13" text-anchor="middle" fill="#000" >400</text>
<line x1="97.74" y1="371.6" x2="97.74" y2="369.2" stroke="#000" stroke-width="1.1" />
<text transform="translate(97.74,384.9) scale(1,1.08)" font-size="13" text-anchor="middle" fill="#000" >500</text>
<line x1="126.81" y1="371.6" x2="126.81" y2="369.2" stroke="#000" stroke-width="1.1" />
<text transform="translate(126.81,384.9) scale(1,1.08)" font-size="13" text-anchor="middle" fill="#000" >600</text>
<line x1="155.88" y1="371.6" x2="155.88" y2="369.2" stroke="#000" stroke-width="1.1" />
<text transform="translate(155.88,384.9) scale(1,1.08)" font-size="13" text-anchor="middle" fill="#000" >700</text>
<line x1="184.95" y1="371.6" x2="184.95" y2="369.2" stroke="#000" stroke-width="1.1" />
<text transform="translate(184.95,384.9) scale(1,1.08)" font-size="13" text-anchor="middle" fill="#000" >800</text>
<line x1="54.14" y1="371.6" x2="54.14" y2="369.8" stroke="#000" stroke-width="1.0" />
<line x1="83.21" y1="371.6" x2="83.21" y2="369.8" stroke="#000" stroke-width="1.0" />
<line x1="112.28" y1="371.6" x2="112.28" y2="369.8" stroke="#000" stroke-width="1.0" />
<line x1="141.34" y1="371.6" x2="141.34" y2="369.8" stroke="#000" stroke-width="1.0" />
<line x1="170.41" y1="371.6" x2="170.41" y2="369.8" stroke="#000" stroke-width="1.0" />
<line x1="199.49" y1="371.6" x2="199.49" y2="369.8" stroke="#000" stroke-width="1.0" />
<text transform="translate(119.5,409.5) scale(1,1.0)" font-size="16" text-anchor="middle" fill="#000" >Wavelength (nm)</text>
<text transform="translate(14.3,291.3) rotate(-90) scale(1,1.0)" font-size="16" text-anchor="middle" fill="#000">EQE (%)</text>
<text transform="translate(234,293.5) rotate(-90) scale(1,1.0)" font-size="16" text-anchor="middle" fill="#000">Integrated <tspan font-style="italic">J</tspan><tspan dy="4" font-size="11">sc</tspan><tspan dy="-4"> (mA cm</tspan><tspan dy="-6" font-size="11">-2</tspan><tspan dy="6">)</tspan></text>
<line x1="97.3" y1="340.9" x2="126.5" y2="340.9" stroke="#1a2cff" stroke-width="1.3" />
<circle cx="112" cy="340.9" r="1.6" fill="#1a2cff"/>
<text transform="translate(129.6,345.4) scale(1,1.08)" font-size="13" text-anchor="start" fill="#000" >Control</text>
<line x1="97.3" y1="356.6" x2="126.5" y2="356.6" stroke="#dd1111" stroke-width="1.3" />
<circle cx="112" cy="356.6" r="1.2" fill="#fff" stroke="#dd1111" stroke-width="1.3"/>
<text transform="translate(129.6,361.1) scale(1,1.08)" font-size="13" text-anchor="start" fill="#000" >Target</text>
<ellipse cx="59.1" cy="274.1" rx="2.6" ry="12.3" fill="none" stroke="#000" stroke-width="1.15"/>
<path d="M48.2,262.3 L56.5,261.3 L59.5,261.9 L56.5,263.1 Z" fill="#000"/>
<ellipse cx="184.9" cy="237.4" rx="2.6" ry="12.2" fill="none" stroke="#000" stroke-width="1.15"/>
<path d="M185.3,249.4 L189.5,249.6" stroke="#000" stroke-width="1.1"/>
<path d="M197.2,250.3 L189,248.9 L189,251.3 Z" fill="#000"/>
<text transform="translate(0,224) scale(1,1.0)" font-size="19" text-anchor="start" fill="#000" font-weight="bold" >d</text>
<line x1="315.95" y1="305.3" x2="315.95" y2="322.6" stroke="#1f3cff" stroke-width="1.3" />
<line x1="315.95" y1="336.4" x2="315.95" y2="346.8" stroke="#1f3cff" stroke-width="1.3" />
<line x1="311.45" y1="305.3" x2="320.45" y2="305.3" stroke="#1f3cff" stroke-width="1.3" />
<line x1="311.45" y1="346.8" x2="320.45" y2="346.8" stroke="#1f3cff" stroke-width="1.3" />
<rect x="302.5" y="322.6" width="26.9" height="13.8" fill="none" stroke="#1f3cff" stroke-width="1.3" />
<line x1="302.5" y1="327.1" x2="329.4" y2="327.1" stroke="#1f3cff" stroke-width="1.3" />
<circle cx="316" cy="325.5" r="1.3" fill="none" stroke="#1f3cff" stroke-width="0.6"/>
<path d="M314.8,294.5 L317.8,297.5 M314.8,297.5 L317.8,294.5" stroke="#1f3cff" stroke-width="0.8"/>
<polyline points="334.08,289.1 334.13,289.6 334.18,290.1 334.24,290.6 334.3,291.1 334.37,291.6 334.44,292.1 334.52,292.6 334.6,293.1 334.69,293.6 334.79,294.1 334.9,294.6 335.01,295.1 335.13,295.6 335.26,296.1 335.39,296.6 335.54,297.1 335.7,297.6 335.86,298.1 336.03,298.6 336.22,299.1 336.41,299.6 336.62,300.1 336.84,300.6 337.06,301.1 337.3,301.6 337.55,302.1 337.82,302.6 338.09,303.1 338.37,303.6 338.67,304.1 338.98,304.6 339.3,305.1 339.63,305.6 339.97,306.1 340.33,306.6 340.69,307.1 341.06,307.6 341.45,308.1 341.84,308.6 342.24,309.1 342.65,309.6 343.07,310.1 343.49,310.6 343.92,311.1 344.36,311.6 344.79,312.1 345.24,312.6 345.68,313.1 346.12,313.6 346.57,314.1 347.01,314.6 347.45,315.1 347.88,315.6 348.32,316.1 348.74,316.6 349.16,317.1 349.57,317.6 349.96,318.1 350.35,318.6 350.72,319.1 351.08,319.6 351.43,320.1 351.76,320.6 352.07,321.1 352.36,321.6 352.63,322.1 352.88,322.6 353.11,323.1 353.32,323.6 353.5,324.1 353.66,324.6 353.8,325.1 353.91,325.6 354,326.1 354.06,326.6 354.09,327.1 354.1,327.6 354.07,328.1 354.01,328.6 353.9,329.1 353.76,329.6 353.58,330.1 353.37,330.6 353.12,331.1 352.84,331.6 352.52,332.1 352.18,332.6 351.81,333.1 351.41,333.6 350.99,334.1 350.54,334.6 350.08,335.1 349.6,335.6 349.1,336.1 348.59,336.6 348.07,337.1 347.54,337.6 347,338.1 346.47,338.6 345.93,339.1 345.39,339.6 344.85,340.1 344.31,340.6 343.79,341.1 343.27,341.6 342.76,342.1 342.26,342.6 341.77,343.1 341.29,343.6 340.83,344.1 340.39,344.6 339.96,345.1 339.54,345.6 339.14,346.1 338.76,346.6 338.4,347.1 338.05,347.6 337.72,348.1 337.41,348.6 337.11,349.1 336.83,349.6 336.57,350.1 336.33,350.6 336.1,351.1 335.88,351.6 335.68,352.1 335.49,352.6 335.32,353.1 335.16,353.6 335.01,354.1 334.88,354.6 334.75,355.1" fill="none" stroke="#1f3cff" stroke-width="1.75" stroke-linejoin="round" stroke-linecap="round" />
<circle cx="341.12" cy="326.95" r="1.1" fill="#1f3cff"/>
<circle cx="341.03" cy="338.5" r="1.1" fill="#1f3cff"/>
<circle cx="334.34" cy="323.41" r="1.1" fill="#1f3cff"/>
<circle cx="349.29" cy="323.38" r="1.1" fill="#1f3cff"/>
<circle cx="352.82" cy="325.57" r="1.1" fill="#1f3cff"/>
<circle cx="341.89" cy="333.29" r="1.1" fill="#1f3cff"/>
<circle cx="345.33" cy="331.88" r="1.1" fill="#1f3cff"/>
<circle cx="336.11" cy="316.26" r="1.1" fill="#1f3cff"/>
<circle cx="339.44" cy="312.68" r="1.1" fill="#1f3cff"/>
<circle cx="340.52" cy="310.91" r="1.1" fill="#1f3cff"/>
<circle cx="348.1" cy="324.28" r="1.1" fill="#1f3cff"/>
<circle cx="344.67" cy="322.8" r="1.1" fill="#1f3cff"/>
<circle cx="350.31" cy="325.21" r="1.1" fill="#1f3cff"/>
<circle cx="343.05" cy="328.38" r="1.1" fill="#1f3cff"/>
<circle cx="346.58" cy="322" r="1.1" fill="#1f3cff"/>
<circle cx="338.43" cy="305.85" r="1.1" fill="#1f3cff"/>
<circle cx="338.3" cy="311.81" r="1.1" fill="#1f3cff"/>
<circle cx="346.32" cy="337.02" r="1.1" fill="#1f3cff"/>
<circle cx="336.65" cy="329.28" r="1.1" fill="#1f3cff"/>
<circle cx="337.99" cy="322.88" r="1.1" fill="#1f3cff"/>
<circle cx="342.65" cy="336.45" r="1.1" fill="#1f3cff"/>
<circle cx="339.6" cy="323.7" r="1.1" fill="#1f3cff"/>
<circle cx="338.75" cy="316.14" r="1.1" fill="#1f3cff"/>
<circle cx="345.1" cy="325.55" r="1.1" fill="#1f3cff"/>
<circle cx="338.02" cy="307.31" r="1.1" fill="#1f3cff"/>
<circle cx="345.54" cy="315.06" r="1.1" fill="#1f3cff"/>
<circle cx="337.4" cy="345.02" r="1.1" fill="#1f3cff"/>
<circle cx="334.48" cy="301.92" r="1.1" fill="#1f3cff"/>
<circle cx="340.61" cy="342.56" r="1.1" fill="#1f3cff"/>
<circle cx="336.89" cy="306.15" r="1.1" fill="#1f3cff"/>
<circle cx="349.5" cy="324.45" r="1.1" fill="#1f3cff"/>
<circle cx="343.14" cy="319.29" r="1.1" fill="#1f3cff"/>
<circle cx="350.09" cy="325.21" r="1.1" fill="#1f3cff"/>
<circle cx="352.59" cy="329.53" r="1.1" fill="#1f3cff"/>
<circle cx="337.6" cy="341.25" r="1.1" fill="#1f3cff"/>
<circle cx="336.3" cy="335.48" r="1.1" fill="#1f3cff"/>
<circle cx="349.03" cy="321.34" r="1.1" fill="#1f3cff"/>
<circle cx="334.42" cy="342.47" r="1.1" fill="#1f3cff"/>
<circle cx="347.22" cy="323.72" r="1.1" fill="#1f3cff"/>
<circle cx="340.18" cy="324" r="1.1" fill="#1f3cff"/>
<circle cx="335.96" cy="346.58" r="1.1" fill="#1f3cff"/>
<circle cx="339.53" cy="306.89" r="1.1" fill="#1f3cff"/>
<circle cx="345.22" cy="324.53" r="1.1" fill="#1f3cff"/>
<circle cx="334.68" cy="329.72" r="1.1" fill="#1f3cff"/>
<circle cx="345.54" cy="329.32" r="1.1" fill="#1f3cff"/>
<circle cx="336.35" cy="335.68" r="1.1" fill="#1f3cff"/>
<circle cx="335.54" cy="345.41" r="1.1" fill="#1f3cff"/>
<circle cx="351.27" cy="331.3" r="1.1" fill="#1f3cff"/>
<circle cx="341.55" cy="333.76" r="1.1" fill="#1f3cff"/>
<circle cx="342.59" cy="320.11" r="1.1" fill="#1f3cff"/>
<circle cx="342.22" cy="317.68" r="1.1" fill="#1f3cff"/>
<circle cx="341.93" cy="315.42" r="1.1" fill="#1f3cff"/>
<circle cx="339.7" cy="337.08" r="1.1" fill="#1f3cff"/>
<circle cx="346.56" cy="321.66" r="1.1" fill="#1f3cff"/>
<circle cx="352.64" cy="326.66" r="1.1" fill="#1f3cff"/>
<circle cx="342.22" cy="334.44" r="1.1" fill="#1f3cff"/>
<circle cx="341.8" cy="324.55" r="1.1" fill="#1f3cff"/>
<circle cx="345" cy="325.55" r="1.1" fill="#1f3cff"/>
<circle cx="340.52" cy="339.72" r="1.1" fill="#1f3cff"/>
<circle cx="335.24" cy="327.74" r="1.1" fill="#1f3cff"/>
<circle cx="344.25" cy="318.19" r="1.1" fill="#1f3cff"/>
<circle cx="339.3" cy="317.96" r="1.1" fill="#1f3cff"/>
<circle cx="334.48" cy="321.63" r="1.1" fill="#1f3cff"/>
<circle cx="334.59" cy="310.23" r="1.1" fill="#1f3cff"/>
<circle cx="337.06" cy="314.47" r="1.1" fill="#1f3cff"/>
<circle cx="335.44" cy="303.02" r="1.1" fill="#1f3cff"/>
<circle cx="339.67" cy="318.66" r="1.1" fill="#1f3cff"/>
<circle cx="339.42" cy="321.17" r="1.1" fill="#1f3cff"/>
<circle cx="338.26" cy="316.84" r="1.1" fill="#1f3cff"/>
<circle cx="339.47" cy="335.86" r="1.1" fill="#1f3cff"/>
<line x1="404.05" y1="268.4" x2="404.05" y2="277.7" stroke="#d41a1a" stroke-width="1.3" />
<line x1="404.05" y1="292.2" x2="404.05" y2="301.2" stroke="#d41a1a" stroke-width="1.3" />
<line x1="399.55" y1="268.4" x2="408.55" y2="268.4" stroke="#d41a1a" stroke-width="1.3" />
<line x1="399.55" y1="301.2" x2="408.55" y2="301.2" stroke="#d41a1a" stroke-width="1.3" />
<rect x="390.9" y="277.7" width="26.3" height="14.5" fill="none" stroke="#d41a1a" stroke-width="1.3" />
<line x1="390.9" y1="282.2" x2="417.2" y2="282.2" stroke="#d41a1a" stroke-width="1.3" />
<circle cx="404.4" cy="281.1" r="1.3" fill="none" stroke="#d41a1a" stroke-width="0.6"/>
<path d="M402.9,245.8 L405.9,248.8 M402.9,248.8 L405.9,245.8" stroke="#d41a1a" stroke-width="0.8"/>
<polyline points="422.14,244.2 422.16,244.7 422.18,245.2 422.21,245.7 422.23,246.2 422.26,246.7 422.3,247.2 422.34,247.7 422.38,248.2 422.42,248.7 422.47,249.2 422.53,249.7 422.59,250.2 422.66,250.7 422.74,251.2 422.82,251.7 422.91,252.2 423,252.7 423.11,253.2 423.22,253.7 423.35,254.2 423.48,254.7 423.63,255.2 423.78,255.7 423.95,256.2 424.13,256.7 424.32,257.2 424.53,257.7 424.75,258.2 424.98,258.7 425.23,259.2 425.49,259.7 425.76,260.2 426.05,260.7 426.35,261.2 426.67,261.7 427.01,262.2 427.35,262.7 427.72,263.2 428.09,263.7 428.48,264.2 428.88,264.7 429.3,265.2 429.72,265.7 430.16,266.2 430.61,266.7 431.06,267.2 431.53,267.7 432,268.2 432.47,268.7 432.95,269.2 433.43,269.7 433.91,270.2 434.39,270.7 434.86,271.2 435.33,271.7 435.8,272.2 436.25,272.7 436.7,273.2 437.13,273.7 437.55,274.2 437.95,274.7 438.33,275.2 438.7,275.7 439.04,276.2 439.36,276.7 439.65,277.2 439.92,277.7 440.16,278.2 440.38,278.7 440.56,279.2 440.71,279.7 440.83,280.2 440.92,280.7 440.98,281.2 441,281.7 440.99,282.2 440.95,282.7 440.88,283.2 440.78,283.7 440.65,284.2 440.5,284.7 440.31,285.2 440.1,285.7 439.86,286.2 439.59,286.7 439.31,287.2 439,287.7 438.67,288.2 438.32,288.7 437.95,289.2 437.56,289.7 437.16,290.2 436.75,290.7 436.32,291.2 435.88,291.7 435.44,292.2 434.99,292.7 434.54,293.2 434.08,293.7 433.62,294.2 433.16,294.7 432.7,295.2 432.24,295.7 431.79,296.2 431.34,296.7 430.9,297.2 430.46,297.7 430.03,298.2 429.62,298.7 429.21,299.2 428.82,299.7 428.43,300.2 428.06,300.7 427.7,301.2 427.35,301.7 427.02,302.2 426.7,302.7 426.39,303.2 426.09,303.7 425.81,304.2 425.55,304.7 425.29,305.2 425.05,305.7 424.83,306.2 424.61,306.7 424.41,307.2 424.22,307.7 424.04,308.2 423.88,308.7 423.72,309.2 423.57,309.7 423.44,310.2 423.31,310.7 423.2,311.2 423.09,311.7 422.99,312.2 422.89,312.7 422.81,313.2 422.73,313.7 422.66,314.2 422.59,314.7 422.54,315.2 422.48,315.7 422.43,316.2 422.39,316.7 422.34,317.2 422.31,317.7 422.27,318.2 422.24,318.7 422.22,319.2 422.19,319.7 422.17,320.2 422.15,320.7 422.13,321.2 422.12,321.7 422.1,322.2" fill="none" stroke="#d41a1a" stroke-width="1.75" stroke-linejoin="round" stroke-linecap="round" />
<circle cx="430.92" cy="270.39" r="1.1" fill="#d41a1a"/>
<circle cx="432.73" cy="270.67" r="1.1" fill="#d41a1a"/>
<circle cx="423" cy="279.71" r="1.1" fill="#d41a1a"/>
<circle cx="423.69" cy="260.7" r="1.1" fill="#d41a1a"/>
<circle cx="432.44" cy="293.21" r="1.1" fill="#d41a1a"/>
<circle cx="424.28" cy="276.46" r="1.1" fill="#d41a1a"/>
<circle cx="430.21" cy="274.36" r="1.1" fill="#d41a1a"/>
<circle cx="432.53" cy="282.31" r="1.1" fill="#d41a1a"/>
<circle cx="426.91" cy="287.27" r="1.1" fill="#d41a1a"/>
<circle cx="438.53" cy="281.52" r="1.1" fill="#d41a1a"/>
<circle cx="436.45" cy="281.52" r="1.1" fill="#d41a1a"/>
<circle cx="424.61" cy="275.72" r="1.1" fill="#d41a1a"/>
<circle cx="422.53" cy="277.53" r="1.1" fill="#d41a1a"/>
<circle cx="436.88" cy="277.85" r="1.1" fill="#d41a1a"/>
<circle cx="439.66" cy="282.58" r="1.1" fill="#d41a1a"/>
<circle cx="436.36" cy="287.07" r="1.1" fill="#d41a1a"/>
<circle cx="430.57" cy="275.39" r="1.1" fill="#d41a1a"/>
<circle cx="438.24" cy="278.33" r="1.1" fill="#d41a1a"/>
<circle cx="432.91" cy="275.52" r="1.1" fill="#d41a1a"/>
<circle cx="424.1" cy="299.64" r="1.1" fill="#d41a1a"/>
<circle cx="428.3" cy="277.03" r="1.1" fill="#d41a1a"/>
<circle cx="423.63" cy="283.54" r="1.1" fill="#d41a1a"/>
<circle cx="427.55" cy="285.36" r="1.1" fill="#d41a1a"/>
<circle cx="434.28" cy="280.41" r="1.1" fill="#d41a1a"/>
<circle cx="428.38" cy="280.55" r="1.1" fill="#d41a1a"/>
<circle cx="429.52" cy="274.88" r="1.1" fill="#d41a1a"/>
<circle cx="425.04" cy="296.46" r="1.1" fill="#d41a1a"/>
<circle cx="422.92" cy="267.04" r="1.1" fill="#d41a1a"/>
<circle cx="439.52" cy="282.65" r="1.1" fill="#d41a1a"/>
<circle cx="429.79" cy="295.83" r="1.1" fill="#d41a1a"/>
<circle cx="422.81" cy="283.14" r="1.1" fill="#d41a1a"/>
<circle cx="432.57" cy="283.02" r="1.1" fill="#d41a1a"/>
<circle cx="422.62" cy="272.65" r="1.1" fill="#d41a1a"/>
<circle cx="438.01" cy="286.44" r="1.1" fill="#d41a1a"/>
<circle cx="425.93" cy="282.65" r="1.1" fill="#d41a1a"/>
<circle cx="438.99" cy="281.75" r="1.1" fill="#d41a1a"/>
<circle cx="423.29" cy="260.28" r="1.1" fill="#d41a1a"/>
<circle cx="433.45" cy="274.28" r="1.1" fill="#d41a1a"/>
<circle cx="424.02" cy="289.68" r="1.1" fill="#d41a1a"/>
<circle cx="437.49" cy="280.84" r="1.1" fill="#d41a1a"/>
<circle cx="422.7" cy="264.92" r="1.1" fill="#d41a1a"/>
<circle cx="428.29" cy="284.71" r="1.1" fill="#d41a1a"/>
<circle cx="433.01" cy="279.69" r="1.1" fill="#d41a1a"/>
<circle cx="436.55" cy="288.14" r="1.1" fill="#d41a1a"/>
<circle cx="431.23" cy="276.96" r="1.1" fill="#d41a1a"/>
<circle cx="425.44" cy="278" r="1.1" fill="#d41a1a"/>
<circle cx="423.68" cy="288.26" r="1.1" fill="#d41a1a"/>
<circle cx="436.92" cy="289.17" r="1.1" fill="#d41a1a"/>
<circle cx="424.45" cy="292.07" r="1.1" fill="#d41a1a"/>
<circle cx="430.31" cy="288.95" r="1.1" fill="#d41a1a"/>
<circle cx="431.44" cy="275.5" r="1.1" fill="#d41a1a"/>
<circle cx="436.55" cy="284.69" r="1.1" fill="#d41a1a"/>
<circle cx="423.17" cy="271.94" r="1.1" fill="#d41a1a"/>
<circle cx="438.35" cy="283.59" r="1.1" fill="#d41a1a"/>
<circle cx="433.19" cy="291.28" r="1.1" fill="#d41a1a"/>
<circle cx="424.77" cy="283.14" r="1.1" fill="#d41a1a"/>
<circle cx="433.08" cy="278.47" r="1.1" fill="#d41a1a"/>
<circle cx="424.08" cy="259.13" r="1.1" fill="#d41a1a"/>
<circle cx="424.73" cy="288.53" r="1.1" fill="#d41a1a"/>
<circle cx="435.97" cy="286.97" r="1.1" fill="#d41a1a"/>
<circle cx="439.18" cy="278.25" r="1.1" fill="#d41a1a"/>
<circle cx="433.93" cy="290.5" r="1.1" fill="#d41a1a"/>
<circle cx="428.93" cy="290.78" r="1.1" fill="#d41a1a"/>
<circle cx="435.02" cy="279.51" r="1.1" fill="#d41a1a"/>
<circle cx="427.97" cy="273.6" r="1.1" fill="#d41a1a"/>
<circle cx="425.06" cy="281.98" r="1.1" fill="#d41a1a"/>
<circle cx="425.59" cy="261.77" r="1.1" fill="#d41a1a"/>
<circle cx="425.8" cy="299.76" r="1.1" fill="#d41a1a"/>
<circle cx="423.65" cy="272.82" r="1.1" fill="#d41a1a"/>
<circle cx="427.25" cy="281.03" r="1.1" fill="#d41a1a"/>
<line x1="289.5" y1="218" x2="466" y2="218" stroke="#000" stroke-width="1.3" />
<line x1="466" y1="218" x2="466" y2="371.6" stroke="#000" stroke-width="1.3" />
<line x1="289.5" y1="371.6" x2="466" y2="371.6" stroke="#000" stroke-width="1.3" />
<line x1="289.5" y1="218" x2="289.5" y2="371.6" stroke="#000" stroke-width="1.3" />
<line x1="289.5" y1="354.53" x2="292.5" y2="354.53" stroke="#000" stroke-width="1.1" />
<text transform="translate(286.3,359.13) scale(1,1.08)" font-size="13" text-anchor="end" fill="#000" >1.12</text>
<line x1="289.5" y1="320.4" x2="292.5" y2="320.4" stroke="#000" stroke-width="1.1" />
<text transform="translate(286.3,325) scale(1,1.08)" font-size="13" text-anchor="end" fill="#000" >1.16</text>
<line x1="289.5" y1="286.27" x2="292.5" y2="286.27" stroke="#000" stroke-width="1.1" />
<text transform="translate(286.3,290.87) scale(1,1.08)" font-size="13" text-anchor="end" fill="#000" >1.20</text>
<line x1="289.5" y1="252.14" x2="292.5" y2="252.14" stroke="#000" stroke-width="1.1" />
<text transform="translate(286.3,256.74) scale(1,1.08)" font-size="13" text-anchor="end" fill="#000" >1.24</text>
<line x1="289.5" y1="218.01" x2="292.5" y2="218.01" stroke="#000" stroke-width="1.1" />
<text transform="translate(286.3,222.61) scale(1,1.08)" font-size="13" text-anchor="end" fill="#000" >1.28</text>
<line x1="289.5" y1="337.47" x2="291.3" y2="337.47" stroke="#000" stroke-width="1.0" />
<line x1="289.5" y1="303.34" x2="291.3" y2="303.34" stroke="#000" stroke-width="1.0" />
<line x1="289.5" y1="269.2" x2="291.3" y2="269.2" stroke="#000" stroke-width="1.0" />
<line x1="289.5" y1="235.07" x2="291.3" y2="235.07" stroke="#000" stroke-width="1.0" />
<line x1="333.6" y1="371.6" x2="333.6" y2="368.6" stroke="#000" stroke-width="1.1" />
<text transform="translate(333.6,385.1) scale(1,1.08)" font-size="13" text-anchor="middle" fill="#000" >Control</text>
<line x1="422" y1="371.6" x2="422" y2="368.6" stroke="#000" stroke-width="1.1" />
<text transform="translate(422,385.1) scale(1,1.08)" font-size="13" text-anchor="middle" fill="#000" >Target</text>
<text transform="translate(377.5,408.6) scale(1,1.0)" font-size="16.7" text-anchor="middle" fill="#000" >Sample</text>
<rect x="308" y="232.1" width="15.1" height="7.2" fill="none" stroke="#1f3cff" stroke-width="1.6" />
<text transform="translate(334.3,240.1) scale(1,1.08)" font-size="13.3" text-anchor="start" fill="#000" >Control</text>
<rect x="308" y="249" width="15.1" height="7.2" fill="none" stroke="#d41a1a" stroke-width="1.6" />
<text transform="translate(334.3,257) scale(1,1.08)" font-size="13.3" text-anchor="start" fill="#000" >Target</text>
<text transform="translate(253.8,294.2) rotate(-90) scale(1,1.0)" font-size="16" text-anchor="middle" fill="#000"><tspan font-style="italic">V</tspan><tspan dy="4" font-size="11">oc</tspan><tspan dy="-4"> (V)</tspan></text>
<text transform="translate(245.5,224.5) scale(1,1.0)" font-size="19" text-anchor="start" fill="#000" font-weight="bold" >e</text>
<line x1="534.6" y1="313" x2="534.6" y2="324.4" stroke="#1f3cff" stroke-width="1.3" />
<line x1="534.6" y1="340.9" x2="534.6" y2="354" stroke="#1f3cff" stroke-width="1.3" />
<line x1="530.1" y1="313" x2="539.1" y2="313" stroke="#1f3cff" stroke-width="1.3" />
<line x1="530.1" y1="354" x2="539.1" y2="354" stroke="#1f3cff" stroke-width="1.3" />
<rect x="521" y="324.4" width="27.2" height="16.5" fill="none" stroke="#1f3cff" stroke-width="1.3" />
<line x1="521" y1="334.7" x2="548.2" y2="334.7" stroke="#1f3cff" stroke-width="1.3" />
<rect x="533.5" y="331" width="2.6" height="2.6" fill="none" stroke="#1f3cff" stroke-width="0.6" />
<polyline points="552.5,297.4 552.55,297.9 552.6,298.4 552.66,298.9 552.73,299.4 552.8,299.9 552.88,300.4 552.97,300.9 553.06,301.4 553.17,301.9 553.28,302.4 553.41,302.9 553.54,303.4 553.69,303.9 553.84,304.4 554.01,304.9 554.19,305.4 554.39,305.9 554.6,306.4 554.82,306.9 555.06,307.4 555.31,307.9 555.58,308.4 555.87,308.9 556.17,309.4 556.48,309.9 556.82,310.4 557.17,310.9 557.54,311.4 557.92,311.9 558.32,312.4 558.74,312.9 559.17,313.4 559.61,313.9 560.08,314.4 560.55,314.9 561.04,315.4 561.54,315.9 562.05,316.4 562.57,316.9 563.09,317.4 563.63,317.9 564.16,318.4 564.71,318.9 565.25,319.4 565.79,319.9 566.33,320.4 566.87,320.9 567.4,321.4 567.92,321.9 568.43,322.4 568.93,322.9 569.41,323.4 569.88,323.9 570.32,324.4 570.75,324.9 571.15,325.4 571.53,325.9 571.88,326.4 572.2,326.9 572.49,327.4 572.75,327.9 572.98,328.4 573.17,328.9 573.33,329.4 573.45,329.9 573.54,330.4 573.59,330.9 573.6,331.4 573.56,331.9 573.48,332.4 573.35,332.9 573.17,333.4 572.95,333.9 572.68,334.4 572.37,334.9 572.02,335.4 571.63,335.9 571.21,336.4 570.75,336.9 570.26,337.4 569.75,337.9 569.21,338.4 568.65,338.9 568.07,339.4 567.47,339.9 566.87,340.4 566.26,340.9 565.64,341.4 565.02,341.9 564.4,342.4 563.78,342.9 563.17,343.4 562.57,343.9 561.97,344.4 561.39,344.9 560.83,345.4 560.28,345.9 559.74,346.4 559.23,346.9 558.74,347.4 558.26,347.9 557.81,348.4 557.38,348.9 556.97,349.4 556.58,349.9 556.21,350.4 555.87,350.9 555.54,351.4 555.24,351.9 554.95,352.4 554.69,352.9 554.45,353.4 554.22,353.9 554.01,354.4 553.82,354.9 553.64,355.4 553.48,355.9 553.33,356.4 553.2,356.9 553.08,357.4 552.97,357.9" fill="none" stroke="#1f3cff" stroke-width="1.75" stroke-linejoin="round" stroke-linecap="round" />
<circle cx="563.95" cy="319.98" r="1.1" fill="#1f3cff"/>
<circle cx="561.49" cy="334.4" r="1.1" fill="#1f3cff"/>
<circle cx="554.68" cy="319.04" r="1.1" fill="#1f3cff"/>
<circle cx="562.81" cy="330.41" r="1.1" fill="#1f3cff"/>
<circle cx="553.76" cy="320.06" r="1.1" fill="#1f3cff"/>
<circle cx="556.12" cy="319.36" r="1.1" fill="#1f3cff"/>
<circle cx="558.08" cy="344.8" r="1.1" fill="#1f3cff"/>
<circle cx="553.18" cy="339.84" r="1.1" fill="#1f3cff"/>
<circle cx="553.91" cy="354.13" r="1.1" fill="#1f3cff"/>
<circle cx="564.53" cy="328.4" r="1.1" fill="#1f3cff"/>
<circle cx="563.15" cy="331.86" r="1.1" fill="#1f3cff"/>
<circle cx="553.79" cy="332.31" r="1.1" fill="#1f3cff"/>
<circle cx="553.19" cy="333.46" r="1.1" fill="#1f3cff"/>
<circle cx="560.41" cy="337.23" r="1.1" fill="#1f3cff"/>
<circle cx="556.2" cy="314.89" r="1.1" fill="#1f3cff"/>
<circle cx="563.32" cy="337.32" r="1.1" fill="#1f3cff"/>
<circle cx="557.1" cy="317.74" r="1.1" fill="#1f3cff"/>
<circle cx="558.16" cy="331.02" r="1.1" fill="#1f3cff"/>
<circle cx="569.37" cy="330.56" r="1.1" fill="#1f3cff"/>
<circle cx="557.1" cy="328.95" r="1.1" fill="#1f3cff"/>
<circle cx="557.18" cy="323.44" r="1.1" fill="#1f3cff"/>
<circle cx="555.73" cy="344.88" r="1.1" fill="#1f3cff"/>
<circle cx="566.57" cy="337.55" r="1.1" fill="#1f3cff"/>
<circle cx="557.66" cy="313.86" r="1.1" fill="#1f3cff"/>
<circle cx="552.6" cy="345.83" r="1.1" fill="#1f3cff"/>
<circle cx="561.06" cy="335.95" r="1.1" fill="#1f3cff"/>
<circle cx="555.35" cy="350.13" r="1.1" fill="#1f3cff"/>
<circle cx="564.74" cy="328.2" r="1.1" fill="#1f3cff"/>
<circle cx="567.92" cy="333.11" r="1.1" fill="#1f3cff"/>
<circle cx="559.24" cy="330.52" r="1.1" fill="#1f3cff"/>
<circle cx="570.75" cy="334.81" r="1.1" fill="#1f3cff"/>
<circle cx="557.53" cy="331.23" r="1.1" fill="#1f3cff"/>
<circle cx="554.45" cy="326.5" r="1.1" fill="#1f3cff"/>
<circle cx="553.78" cy="345.95" r="1.1" fill="#1f3cff"/>
<circle cx="562.19" cy="336.91" r="1.1" fill="#1f3cff"/>
<circle cx="565.48" cy="325.46" r="1.1" fill="#1f3cff"/>
<circle cx="555.19" cy="332.9" r="1.1" fill="#1f3cff"/>
<circle cx="560.72" cy="328.23" r="1.1" fill="#1f3cff"/>
<circle cx="556.63" cy="327.48" r="1.1" fill="#1f3cff"/>
<circle cx="568.04" cy="328.03" r="1.1" fill="#1f3cff"/>
<circle cx="553.21" cy="354.76" r="1.1" fill="#1f3cff"/>
<circle cx="559.79" cy="335.64" r="1.1" fill="#1f3cff"/>
<circle cx="568.49" cy="326.9" r="1.1" fill="#1f3cff"/>
<circle cx="571.77" cy="328.4" r="1.1" fill="#1f3cff"/>
<circle cx="556.67" cy="327.78" r="1.1" fill="#1f3cff"/>
<circle cx="559.15" cy="330.19" r="1.1" fill="#1f3cff"/>
<circle cx="554.4" cy="346.47" r="1.1" fill="#1f3cff"/>
<circle cx="563.69" cy="334.5" r="1.1" fill="#1f3cff"/>
<circle cx="557.41" cy="332.74" r="1.1" fill="#1f3cff"/>
<circle cx="560.03" cy="324.02" r="1.1" fill="#1f3cff"/>
<circle cx="569.76" cy="325.84" r="1.1" fill="#1f3cff"/>
<circle cx="562.6" cy="319.29" r="1.1" fill="#1f3cff"/>
<circle cx="556.24" cy="332.2" r="1.1" fill="#1f3cff"/>
<circle cx="561.68" cy="342.15" r="1.1" fill="#1f3cff"/>
<circle cx="553.93" cy="347.22" r="1.1" fill="#1f3cff"/>
<circle cx="569.12" cy="336.45" r="1.1" fill="#1f3cff"/>
<circle cx="554.17" cy="344.72" r="1.1" fill="#1f3cff"/>
<circle cx="554.98" cy="348.71" r="1.1" fill="#1f3cff"/>
<circle cx="559.95" cy="325.26" r="1.1" fill="#1f3cff"/>
<circle cx="571.58" cy="333.01" r="1.1" fill="#1f3cff"/>
<line x1="622.65" y1="262.9" x2="622.65" y2="292.6" stroke="#d41a1a" stroke-width="1.3" />
<line x1="622.65" y1="314" x2="622.65" y2="322.6" stroke="#d41a1a" stroke-width="1.3" />
<line x1="618.15" y1="262.9" x2="627.15" y2="262.9" stroke="#d41a1a" stroke-width="1.3" />
<line x1="618.15" y1="322.6" x2="627.15" y2="322.6" stroke="#d41a1a" stroke-width="1.3" />
<rect x="609" y="292.6" width="27.3" height="21.4" fill="none" stroke="#d41a1a" stroke-width="1.3" />
<line x1="609" y1="304.7" x2="636.3" y2="304.7" stroke="#d41a1a" stroke-width="1.3" />
<rect x="621.2" y="299.9" width="2.6" height="2.6" fill="none" stroke="#d41a1a" stroke-width="0.6" />
<path d="M621.0,258.3 L624.0,261.3 M621.0,261.3 L624.0,258.3" stroke="#d41a1a" stroke-width="0.8"/>
<polyline points="641.05,251.8 641.06,252.3 641.07,252.8 641.07,253.3 641.08,253.8 641.09,254.3 641.1,254.8 641.12,255.3 641.13,255.8 641.15,256.3 641.16,256.8 641.18,257.3 641.2,257.8 641.22,258.3 641.25,258.8 641.27,259.3 641.3,259.8 641.33,260.3 641.37,260.8 641.41,261.3 641.45,261.8 641.49,262.3 641.54,262.8 641.59,263.3 641.65,263.8 641.71,264.3 641.78,264.8 641.85,265.3 641.92,265.8 642.01,266.3 642.09,266.8 642.19,267.3 642.29,267.8 642.4,268.3 642.51,268.8 642.64,269.3 642.77,269.8 642.91,270.3 643.06,270.8 643.21,271.3 643.38,271.8 643.55,272.3 643.74,272.8 643.93,273.3 644.14,273.8 644.35,274.3 644.57,274.8 644.81,275.3 645.06,275.8 645.31,276.3 645.58,276.8 645.86,277.3 646.15,277.8 646.45,278.3 646.76,278.8 647.08,279.3 647.42,279.8 647.76,280.3 648.11,280.8 648.47,281.3 648.84,281.8 649.22,282.3 649.61,282.8 650,283.3 650.41,283.8 650.81,284.3 651.23,284.8 651.65,285.3 652.07,285.8 652.49,286.3 652.92,286.8 653.35,287.3 653.78,287.8 654.2,288.3 654.63,288.8 655.05,289.3 655.47,289.8 655.89,290.3 656.29,290.8 656.69,291.3 657.08,291.8 657.47,292.3 657.84,292.8 658.19,293.3 658.54,293.8 658.87,294.3 659.18,294.8 659.48,295.3 659.76,295.8 660.03,296.3 660.27,296.8 660.49,297.3 660.7,297.8 660.88,298.3 661.04,298.8 661.17,299.3 661.29,299.8 661.38,300.3 661.44,300.8 661.48,301.3 661.5,301.8 661.49,302.3 661.46,302.8 661.4,303.3 661.31,303.8 661.2,304.3 661.06,304.8 660.9,305.3 660.72,305.8 660.51,306.3 660.28,306.8 660.03,307.3 659.76,307.8 659.47,308.3 659.16,308.8 658.83,309.3 658.48,309.8 658.12,310.3 657.75,310.8 657.36,311.3 656.97,311.8 656.56,312.3 656.14,312.8 655.72,313.3 655.28,313.8 654.85,314.3 654.41,314.8 653.97,315.3 653.52,315.8 653.08,316.3 652.64,316.8 652.19,317.3 651.76,317.8 651.32,318.3 650.89,318.8 650.47,319.3 650.05,319.8 649.64,320.3 649.24,320.8 648.85,321.3 648.46,321.8 648.09,322.3 647.73,322.8 647.37,323.3 647.03,323.8 646.7,324.3 646.38,324.8 646.07,325.3 645.77,325.8 645.49,326.3 645.22,326.8 644.95,327.3 644.7,327.8 644.46,328.3 644.24,328.8 644.02,329.3 643.81,329.8 643.62,330.3 643.43,330.8 643.26,331.3 643.1,331.8 642.94,332.3 642.79,332.8 642.66,333.3 642.53,333.8 642.41,334.3 642.3,334.8 642.19,335.3 642.09,335.8 642,336.3 641.92,336.8 641.84,337.3 641.77,337.8 641.7,338.3 641.64,338.8 641.58,339.3 641.53,339.8 641.48,340.3 641.43,340.8 641.39,341.3 641.35,341.8 641.32,342.3 641.29,342.8 641.26,343.3 641.23,343.8 641.21,344.3 641.19,344.8 641.17,345.3 641.15,345.8 641.13,346.3 641.12,346.8 641.11,347.3 641.09,347.8 641.08,348.3 641.07,348.8 641.07,349.3 641.06,349.8 641.05,350.3 641.05,350.8" fill="none" stroke="#d41a1a" stroke-width="1.75" stroke-linejoin="round" stroke-linecap="round" />
<circle cx="654.23" cy="299.05" r="1.1" fill="#d41a1a"/>
<circle cx="650.18" cy="316.7" r="1.1" fill="#d41a1a"/>
<circle cx="644.28" cy="303.13" r="1.1" fill="#d41a1a"/>
<circle cx="645.44" cy="307.32" r="1.1" fill="#d41a1a"/>
<circle cx="651.44" cy="299.42" r="1.1" fill="#d41a1a"/>
<circle cx="644.99" cy="294.22" r="1.1" fill="#d41a1a"/>
<circle cx="656.37" cy="296.76" r="1.1" fill="#d41a1a"/>
<circle cx="650.57" cy="311.23" r="1.1" fill="#d41a1a"/>
<circle cx="643.94" cy="308.8" r="1.1" fill="#d41a1a"/>
<circle cx="658" cy="300.8" r="1.1" fill="#d41a1a"/>
<circle cx="655.98" cy="307.3" r="1.1" fill="#d41a1a"/>
<circle cx="646.04" cy="281.46" r="1.1" fill="#d41a1a"/>
<circle cx="643.71" cy="318.56" r="1.1" fill="#d41a1a"/>
<circle cx="655.18" cy="293.88" r="1.1" fill="#d41a1a"/>
<circle cx="645" cy="281.61" r="1.1" fill="#d41a1a"/>
<circle cx="649.66" cy="301.53" r="1.1" fill="#d41a1a"/>
<circle cx="646.2" cy="292.33" r="1.1" fill="#d41a1a"/>
<circle cx="643.46" cy="308.78" r="1.1" fill="#d41a1a"/>
<circle cx="658.2" cy="308.34" r="1.1" fill="#d41a1a"/>
<circle cx="646.08" cy="282.17" r="1.1" fill="#d41a1a"/>
<circle cx="642.46" cy="282.78" r="1.1" fill="#d41a1a"/>
<circle cx="652.4" cy="293.89" r="1.1" fill="#d41a1a"/>
<circle cx="644.72" cy="293.57" r="1.1" fill="#d41a1a"/>
<circle cx="651.42" cy="302.39" r="1.1" fill="#d41a1a"/>
<circle cx="652.87" cy="299.75" r="1.1" fill="#d41a1a"/>
<circle cx="647.1" cy="312.2" r="1.1" fill="#d41a1a"/>
<circle cx="645.44" cy="308.7" r="1.1" fill="#d41a1a"/>
<circle cx="645.34" cy="309.36" r="1.1" fill="#d41a1a"/>
<circle cx="642.88" cy="303.59" r="1.1" fill="#d41a1a"/>
<circle cx="651.87" cy="309.88" r="1.1" fill="#d41a1a"/>
<circle cx="652.64" cy="310.47" r="1.1" fill="#d41a1a"/>
<circle cx="658.11" cy="296.86" r="1.1" fill="#d41a1a"/>
<circle cx="656.17" cy="305.86" r="1.1" fill="#d41a1a"/>
<circle cx="657.42" cy="301.63" r="1.1" fill="#d41a1a"/>
<circle cx="648.65" cy="295.83" r="1.1" fill="#d41a1a"/>
<circle cx="656.1" cy="295.02" r="1.1" fill="#d41a1a"/>
<circle cx="643.89" cy="314.97" r="1.1" fill="#d41a1a"/>
<circle cx="650.54" cy="287" r="1.1" fill="#d41a1a"/>
<circle cx="643.03" cy="287.67" r="1.1" fill="#d41a1a"/>
<circle cx="655.1" cy="312.37" r="1.1" fill="#d41a1a"/>
<circle cx="643.56" cy="285.98" r="1.1" fill="#d41a1a"/>
<circle cx="649.27" cy="289.33" r="1.1" fill="#d41a1a"/>
<circle cx="645.35" cy="287.15" r="1.1" fill="#d41a1a"/>
<circle cx="652.68" cy="292.84" r="1.1" fill="#d41a1a"/>
<circle cx="644.26" cy="295" r="1.1" fill="#d41a1a"/>
<circle cx="653.33" cy="307.73" r="1.1" fill="#d41a1a"/>
<circle cx="642.75" cy="305.99" r="1.1" fill="#d41a1a"/>
<circle cx="653.39" cy="305.1" r="1.1" fill="#d41a1a"/>
<circle cx="641.91" cy="287.08" r="1.1" fill="#d41a1a"/>
<circle cx="648.95" cy="295.24" r="1.1" fill="#d41a1a"/>
<circle cx="641.55" cy="297.32" r="1.1" fill="#d41a1a"/>
<circle cx="660.22" cy="304.05" r="1.1" fill="#d41a1a"/>
<circle cx="646.29" cy="306.73" r="1.1" fill="#d41a1a"/>
<circle cx="652.22" cy="306.44" r="1.1" fill="#d41a1a"/>
<circle cx="647.05" cy="310.96" r="1.1" fill="#d41a1a"/>
<circle cx="656.71" cy="305.79" r="1.1" fill="#d41a1a"/>
<circle cx="649.39" cy="309.93" r="1.1" fill="#d41a1a"/>
<circle cx="659.81" cy="300.36" r="1.1" fill="#d41a1a"/>
<circle cx="648.93" cy="287.6" r="1.1" fill="#d41a1a"/>
<circle cx="646.99" cy="298.69" r="1.1" fill="#d41a1a"/>
<circle cx="653.98" cy="312.72" r="1.1" fill="#d41a1a"/>
<circle cx="655.51" cy="302.57" r="1.1" fill="#d41a1a"/>
<circle cx="657.32" cy="299.13" r="1.1" fill="#d41a1a"/>
<circle cx="644.15" cy="316.68" r="1.1" fill="#d41a1a"/>
<circle cx="644.95" cy="291.23" r="1.1" fill="#d41a1a"/>
<circle cx="646.26" cy="294.58" r="1.1" fill="#d41a1a"/>
<circle cx="642.22" cy="302.92" r="1.1" fill="#d41a1a"/>
<circle cx="647.86" cy="309.8" r="1.1" fill="#d41a1a"/>
<circle cx="648.09" cy="315.85" r="1.1" fill="#d41a1a"/>
<circle cx="641.57" cy="309.61" r="1.1" fill="#d41a1a"/>
<circle cx="650.62" cy="301.07" r="1.1" fill="#d41a1a"/>
<circle cx="650.06" cy="292.93" r="1.1" fill="#d41a1a"/>
<circle cx="648.93" cy="295.48" r="1.1" fill="#d41a1a"/>
<circle cx="643.86" cy="307.89" r="1.1" fill="#d41a1a"/>
<circle cx="657.04" cy="303.51" r="1.1" fill="#d41a1a"/>
<line x1="508.5" y1="220" x2="683.5" y2="220" stroke="#000" stroke-width="1.3" />
<line x1="683.5" y1="220" x2="683.5" y2="373.7" stroke="#000" stroke-width="1.3" />
<line x1="508.5" y1="373.7" x2="683.5" y2="373.7" stroke="#000" stroke-width="1.3" />
<line x1="508.5" y1="220" x2="508.5" y2="373.7" stroke="#000" stroke-width="1.3" />
<line x1="508.5" y1="358.33" x2="511.5" y2="358.33" stroke="#000" stroke-width="1.1" />
<text transform="translate(505.3,362.93) scale(1,1.08)" font-size="13" text-anchor="end" fill="#000" >19</text>
<line x1="508.5" y1="327.59" x2="511.5" y2="327.59" stroke="#000" stroke-width="1.1" />
<text transform="translate(505.3,332.19) scale(1,1.08)" font-size="13" text-anchor="end" fill="#000" >20</text>
<line x1="508.5" y1="296.85" x2="511.5" y2="296.85" stroke="#000" stroke-width="1.1" />
<text transform="translate(505.3,301.45) scale(1,1.08)" font-size="13" text-anchor="end" fill="#000" >21</text>
<line x1="508.5" y1="266.11" x2="511.5" y2="266.11" stroke="#000" stroke-width="1.1" />
<text transform="translate(505.3,270.71) scale(1,1.08)" font-size="13" text-anchor="end" fill="#000" >22</text>
<line x1="508.5" y1="235.37" x2="511.5" y2="235.37" stroke="#000" stroke-width="1.1" />
<text transform="translate(505.3,239.97) scale(1,1.08)" font-size="13" text-anchor="end" fill="#000" >23</text>
<line x1="508.5" y1="342.96" x2="510.3" y2="342.96" stroke="#000" stroke-width="1.0" />
<line x1="508.5" y1="312.22" x2="510.3" y2="312.22" stroke="#000" stroke-width="1.0" />
<line x1="508.5" y1="281.48" x2="510.3" y2="281.48" stroke="#000" stroke-width="1.0" />
<line x1="508.5" y1="250.74" x2="510.3" y2="250.74" stroke="#000" stroke-width="1.0" />
<line x1="552.1" y1="373.7" x2="552.1" y2="370.7" stroke="#000" stroke-width="1.1" />
<text transform="translate(552.1,387.2) scale(1,1.08)" font-size="13" text-anchor="middle" fill="#000" >Control</text>
<line x1="641" y1="373.7" x2="641" y2="370.7" stroke="#000" stroke-width="1.1" />
<text transform="translate(641,387.2) scale(1,1.08)" font-size="13" text-anchor="middle" fill="#000" >Target</text>
<text transform="translate(596,410) scale(1,1.0)" font-size="16.7" text-anchor="middle" fill="#000" >Sample</text>
<rect x="528.5" y="233.2" width="15.1" height="7.2" fill="none" stroke="#1f3cff" stroke-width="1.6" />
<text transform="translate(554.8,241.2) scale(1,1.08)" font-size="13.3" text-anchor="start" fill="#000" >Control</text>
<rect x="528.5" y="250.1" width="15.1" height="7.2" fill="none" stroke="#d41a1a" stroke-width="1.6" />
<text transform="translate(554.8,258.1) scale(1,1.08)" font-size="13.3" text-anchor="start" fill="#000" >Target</text>
<text transform="translate(483.7,296.5) rotate(-90) scale(1,1.0)" font-size="16" text-anchor="middle" fill="#000">PCE (%)</text>
<text transform="translate(477,223.5) scale(1,1.0)" font-size="20" text-anchor="start" fill="#000" font-weight="bold" >f</text>
<clipPath id="clipg"><rect x="56.3" y="431.6" width="285.4" height="166.5"/></clipPath>
<polyline points="56.3,595.6 56.73,595.61 57.16,595.58 57.58,595.28 58.01,595.59 58.44,596.09 58.87,595.42 59.3,595.64 59.72,595.62 60.15,595.5 60.58,595.45 61.01,595.11 61.44,595.3 61.87,595.5 62.29,595.81 62.72,595.91 63.15,595.45 63.58,595.06 64.01,595.52 64.43,595.58 64.86,595.34 65.29,596.07 65.72,595.65 66.15,595.36 66.57,595.21 67,595.62 67.43,595.4 67.86,595.44 68.29,595.25 68.71,595.94 69.14,595.32 69.57,596.09 70,596.49 70.43,595.75 70.86,595.87 71.28,595.21 71.71,595.29 72.14,595.98 72.57,595.22 73,595.9 73.42,595.56 73.85,595.64 74.28,595.49 74.71,595.23 75.14,595.29 75.56,595.4 75.99,595.29 76.42,595.35 76.85,595.76 77.28,595.79 77.7,595.7 78.13,595.34 78.56,595.62 78.99,594.67 79.42,595.82 79.85,595.93 80.27,595.24 80.7,595 81.13,595.34 81.56,595.21 81.99,595 82.41,595.55 82.84,596.04 83.27,595.71 83.7,595.17 84.13,596.05 84.55,595.5 84.98,595.42 85.41,595.63 85.84,595.25 86.27,595.3 86.7,594.66 87.12,595.29 87.55,595.74 87.98,595.72 88.41,595.82 88.84,595.16 89.26,595.72 89.69,595.54 90.12,595.23 90.55,595.78 90.98,595.62 91.4,596.18 91.83,595.91 92.26,595.72 92.69,595.35 93.12,595.07 93.54,595.51 93.97,595.41 94.4,595.44 94.83,595.1 95.26,595.17 95.69,595.4 96.11,595.87 96.54,595.17 96.97,595.36 97.4,595.05 97.83,595.51 98.25,594.78 98.68,595.63 99.11,594.91 99.54,595.45 99.97,595.68 100.39,595.91 100.82,595.55 101.25,594.97 101.68,595.19 102.11,595.24 102.53,596.36 102.96,595.23 103.39,595.29 103.82,595.69 104.25,595.72 104.68,595.49 105.1,594.85 105.53,595.87 105.96,595.64 106.39,594.98 106.82,595.65 107.24,595.62 107.67,595.45 108.1,595.94 108.53,595.4 108.96,595.92 109.38,595.15 109.81,595.48 110.24,594.64 110.67,595.37 111.1,594.97 111.52,595.95 111.95,595.52 112.38,595.35 112.81,594.83 113.24,596.09 113.67,595.1 114.09,595.25 114.52,594.9 114.95,595.2 115.38,595.44 115.81,595.65 116.23,595.92 116.66,595.39 117.09,595.53 117.52,594.72 117.95,595.68 118.37,595.34 118.8,596.03 119.23,595.6 119.66,595.36 120.09,595.15 120.51,594.92 120.94,595.47 121.37,595.86 121.8,595.28 122.23,595.26 122.66,595.26 123.08,595.7 123.51,595.03 123.94,595.41 124.37,595.18 124.8,594.97 125.22,595.21 125.65,595.33 126.08,594.64 126.51,595.34 126.94,595.54 127.36,595.39 127.79,594.88 128.22,595.38 128.65,595.23 129.08,594.97 129.51,595.62 129.93,596.09 130.36,595.3 130.79,595.33 131.22,595.66 131.65,595.06 132.07,595.16 132.5,595.82 132.93,595.19 133.36,595.49 133.79,596.04 134.21,595.21 134.64,595.42 135.07,595.73 135.5,595.17 135.93,595.18 136.35,595.65 136.78,595.21 137.21,594.92 137.64,595.72 138.07,595.21 138.5,595.38 138.92,594.3 139.35,596.27 139.78,595.04 140.21,595.52 140.64,595.42 141.06,594.43 141.49,595.37 141.92,594.24 142.35,595.59 142.78,595.18 143.2,595.61 143.63,595.71 144.06,595.32 144.49,595.5 144.92,595.24 145.34,596.47 145.77,594.26 146.2,595.43 146.63,594.38 147.06,595.89 147.49,595.17 147.91,593.55 148.34,595.82 148.77,596.17 149.2,595.63 149.63,595.04 150.05,594.91 150.48,594.55 150.91,595.46 151.34,596.25 151.77,595.56 152.19,594.55 152.62,595.01 153.05,596.48 153.48,595.31 153.91,594.42 154.33,593.95 154.76,594.92 155.19,595.07 155.62,596.05 156.05,595.8 156.48,595.23 156.9,594.93 157.33,594.87 157.76,595.56 158.19,596 158.62,595.75 159.04,596 159.47,594.79 159.9,596.78 160.33,595.44 160.76,594.9 161.18,594.16 161.61,595.15 162.04,594.5 162.47,595.47 162.9,595.71 163.32,595.65 163.75,594.08 164.18,594.45 164.61,594.81 165.04,592.74 165.47,595.17 165.89,594.68 166.32,594.9 166.75,595.29 167.18,593.39 167.61,593.98 168.03,596.15 168.46,595.39 168.89,594.76 169.32,594.47 169.75,596.1 170.17,596.8 170.6,596.53 171.03,595.09 171.46,595.11 171.89,594.74 172.32,595.62 172.74,595.97 173.17,596.6 173.6,594.7 174.03,594.66 174.46,594.13 174.88,594.28 175.31,595.07 175.74,593.79 176.17,595 176.6,595.43 177.02,595.3 177.45,595.34 177.88,596.66 178.31,594.68 178.74,594.58 179.16,595.08 179.59,595.37 180.02,594.41 180.45,593.22 180.88,594.66 181.31,595.12 181.73,595.17 182.16,594.69 182.59,595.73 183.02,594.69 183.45,594.5 183.87,592.86 184.3,593.64 184.73,593.53 185.16,595.1 185.59,593.8 186.01,595.44 186.44,594.06 186.87,593.93 187.3,595 187.73,592.37 188.15,593.68 188.58,595.98 189.01,593.61 189.44,594.49 189.87,594.06 190.3,593.57 190.72,593.6 191.15,595.92 191.58,595.02 192.01,593.08 192.44,592.51 192.86,591.86 193.29,591.9 193.72,595.7 194.15,592.82 194.58,595.47 195,591.85 195.43,593.17 195.86,594.53 196.29,591.25 196.72,592.59 197.14,595.14 197.57,592.82 198,593.82 198.43,592.88 198.86,593.41 199.29,591.42 199.71,594.28 200.14,592.38 200.57,590.74 201,593.44 201.43,592.28 201.85,592.21 202.28,593.07 202.71,591.59 203.14,592.09 203.57,593.1 203.99,590.18 204.42,591.11 204.85,592.04 205.28,592.45 205.71,592.52 206.13,590.32 206.56,591.68 206.99,590.96 207.42,591.55 207.85,590.62 208.28,591.31 208.7,590.3 209.13,591.21 209.56,590.06 209.99,590.14 210.42,590.88 210.84,591.58 211.27,591.58 211.7,591.29 212.13,591.46 212.56,589.44 212.98,590.32 213.41,588.55 213.84,587.73 214.27,590.03 214.7,591.61 215.13,590.32 215.55,589.93 215.98,591.36 216.41,590 216.84,589.38 217.27,590.12 217.69,590.4 218.12,590.34 218.55,587.63 218.98,589.64 219.41,590.32 219.83,589.81 220.26,588.4 220.69,590.1 221.12,588.87 221.55,588.61 221.97,588.58 222.4,587.9 222.83,589.95 223.26,588.2 223.69,590.23 224.12,589.83 224.54,588.17 224.97,588.59 225.4,589.47 225.83,590.75 226.26,588.94 226.68,590.22 227.11,590.56 227.54,590.31 227.97,589.41 228.4,591.94 228.82,589.37 229.25,589.62 229.68,590.46 230.11,588.81 230.54,589.31 230.96,590.64 231.39,590.76 231.82,589.38 232.25,591.76 232.68,590.58 233.11,590.95 233.53,590.28 233.96,590.19 234.39,590.44 234.82,589.35 235.25,590.36 235.67,591 236.1,592.01 236.53,590.04 236.96,590.31 237.39,589.41 237.81,591.79 238.24,591.04 238.67,591.2 239.1,591.3 239.53,591.26 239.95,593.14 240.38,590.55 240.81,590.79 241.24,590.36 241.67,589.25 242.1,592.01 242.52,591.78 242.95,591.8 243.38,589.84 243.81,593.76 244.24,591.5 244.66,593.62 245.09,594.85 245.52,594.32 245.95,593.71 246.38,591.2 246.8,593.3 247.23,592.68 247.66,593.73 248.09,591.92 248.52,593.78 248.94,591.3 249.37,593.78 249.8,593.59 250.23,592.72 250.66,592.87 251.09,591.46 251.51,592.88 251.94,594.33 252.37,593.7 252.8,593.76 253.23,592.45 253.65,592.86 254.08,593.43 254.51,592.44 254.94,593.95 255.37,593.59 255.79,593.3 256.22,591.93 256.65,593.68 257.08,593.99 257.51,594.76 257.94,592.98 258.36,594.36 258.79,593.42 259.22,595.81 259.65,592.76 260.08,595.29 260.5,594.74 260.93,592.85 261.36,595.39 261.79,594.11 262.22,593.98 262.64,595.14 263.07,592.71 263.5,592.58 263.93,596.25 264.36,595.73 264.78,593.39 265.21,595.64 265.64,594.7 266.07,594.19 266.5,593.62 266.93,594.61 267.35,594.3 267.78,595.24 268.21,593.09 268.64,594.99 269.07,594.13 269.49,595.05 269.92,594.42 270.35,594.73 270.78,594.75 271.21,595.66 271.63,593.78 272.06,593.15 272.49,594.39 272.92,593.9 273.35,593.81 273.77,593.73 274.2,594.4 274.63,594.51 275.06,593.84 275.49,594.69 275.92,595.8 276.34,594.77 276.77,596.79 277.2,594.83 277.63,594.4 278.06,593.55 278.48,594.7 278.91,593.9 279.34,594.88 279.77,595.97 280.2,596.39 280.62,595.94 281.05,596.36 281.48,594.27 281.91,595.17 282.34,594.36 282.76,594.89 283.19,593.88 283.62,593.87 284.05,595.67 284.48,595.29 284.91,595.57 285.33,596.72 285.76,594.32 286.19,593.79 286.62,595.05 287.05,595.57 287.47,593.92 287.9,597.24 288.33,594.89 288.76,594.93 289.19,595.69 289.61,593.64 290.04,594.08 290.47,595.38 290.9,595.21 291.33,595.53 291.75,595.66 292.18,596.51 292.61,593.69 293.04,594.06 293.47,594.31 293.9,596.3 294.32,592.98 294.75,593.09 295.18,594.97 295.61,596.12 296.04,596.09 296.46,594.74 296.89,596.15 297.32,595.23 297.75,594.05 298.18,596.78 298.6,593.1 299.03,593.57 299.46,596.51 299.89,596.7 300.32,595.52 300.75,596.31 301.17,595.51 301.6,597.24 302.03,595.48 302.46,593.35 302.89,596.42 303.31,595.54 303.74,596.82 304.17,594.59 304.6,595.5 305.03,593.23 305.45,595.05 305.88,595.66 306.31,594.69 306.74,595.81 307.17,596.68 307.59,594.96 308.02,595.47 308.45,595.11 308.88,594.9 309.31,595.83 309.74,594.85 310.16,593.47 310.59,596.46 311.02,593.48 311.45,595.56 311.88,596.11 312.3,592.76 312.73,595.15 313.16,593.88 313.59,594.46 314.02,597.09 314.44,595.2 314.87,595.88 315.3,596.74 315.73,597.19 316.16,595.23 316.58,594.72 317.01,594.93 317.44,595.66 317.87,596.18 318.3,596.38 318.73,595.93 319.15,596.43 319.58,595.56 320.01,595.38 320.44,596.29 320.87,595.6 321.29,596.16 321.72,595.36 322.15,594.83 322.58,595.18 323.01,594.87 323.43,597.1 323.86,595.77 324.29,595.08 324.72,594.7 325.15,597.05 325.57,595.21 326,594.11 326.43,595.57 326.86,595.48 327.29,594.91 327.72,595.13 328.14,594.68 328.57,595.31 329,595.23 329.43,596.21 329.86,595.57 330.28,594.08 330.71,595.61 331.14,595.57 331.57,595.92 332,594.57 332.42,596.3 332.85,594.45 333.28,596.39 333.71,596.52 334.14,595.19 334.56,595.27 334.99,595.1 335.42,594.3 335.85,595.85 336.28,594.95 336.71,596.37 337.13,594.1 337.56,594.75 337.99,594.86 338.42,595.22 338.85,596.25 339.27,595.77 339.7,594.9 340.13,595.45 340.56,595.3 340.99,596.86 341.41,595.24 341.84,596.16 342.27,596.57 342.7,595.6 343.13,597.24 343.56,594.7 343.98,594.54 344.41,595.49" fill="none" stroke="#000000" stroke-width="1.1" stroke-linejoin="round" stroke-linecap="round" clip-path="url(#clipg)"/>
<polyline points="56.3,595.47 57.01,595.46 57.73,595.33 58.44,595.69 59.15,595.27 59.87,595.19 60.58,595.34 61.29,595.37 62.01,595.26 62.72,595.23 63.43,595.11 64.15,595.28 64.86,595.39 65.58,595.35 66.29,595.24 67,595.02 67.72,595.32 68.43,595.43 69.14,595.4 69.86,595.6 70.57,595.2 71.28,595.47 72,595.45 72.71,595.56 73.42,595.42 74.14,595.14 74.85,595.45 75.56,595.51 76.28,595.2 76.99,595.28 77.7,595.15 78.42,595.1 79.13,595.21 79.85,595.42 80.56,595.22 81.27,595.12 81.99,595.29 82.7,595.43 83.41,595.01 84.13,595.25 84.84,595.25 85.55,595.17 86.27,595 86.98,595.12 87.69,595.22 88.41,595.05 89.12,594.8 89.83,594.92 90.55,595.03 91.26,595.32 91.97,594.52 92.69,595.32 93.4,595.18 94.12,595.23 94.83,594.85 95.54,595.04 96.26,595.33 96.97,595.05 97.68,595 98.4,595.14 99.11,595.28 99.82,595.19 100.54,595.14 101.25,595.06 101.96,595.14 102.68,594.93 103.39,595.2 104.1,595.32 104.82,595.15 105.53,594.8 106.25,595.11 106.96,594.62 107.67,594.92 108.39,595.18 109.1,595.12 109.81,594.94 110.53,595.16 111.24,594.57 111.95,595.12 112.67,594.83 113.38,594.69 114.09,594.95 114.81,595.09 115.52,594.96 116.23,594.84 116.95,594.75 117.66,594.87 118.37,595.11 119.09,594.86 119.8,594.97 120.52,595.21 121.23,594.95 121.94,595.06 122.66,594.71 123.37,594.48 124.08,594.48 124.8,594.87 125.51,594.85 126.22,594.64 126.94,594.56 127.65,594.8 128.36,594.74 129.08,594.33 129.79,594.71 130.5,594.76 131.22,594.64 131.93,594.55 132.64,594.81 133.36,594.66 134.07,594.8 134.78,594.64 135.5,594.25 136.21,594.43 136.93,594.56 137.64,594.68 138.35,594.56 139.07,594.31 139.78,594.57 140.49,594.2 141.21,594.67 141.92,594.46 142.63,594.09 143.35,594.72 144.06,594.14 144.77,594.65 145.49,594.32 146.2,594.31 146.91,594.12 147.63,594.79 148.34,594.55 149.06,594.28 149.77,594.15 150.48,594.29 151.2,594.14 151.91,594.28 152.62,594.12 153.34,594.16 154.05,593.94 154.76,593.85 155.48,593.66 156.19,594 156.9,593.9 157.62,593.8 158.33,593.82 159.04,593.74 159.76,593.97 160.47,593.58 161.18,593.77 161.9,593.73 162.61,593.8 163.32,593.24 164.04,593.43 164.75,593.14 165.47,593.24 166.18,593.55 166.89,593.38 167.61,592.96 168.32,593.18 169.03,593.17 169.75,592.93 170.46,592.85 171.17,592.92 171.89,592.7 172.6,592.64 173.31,592.96 174.03,592.25 174.74,592.4 175.45,591.86 176.17,592.24 176.88,592.2 177.59,591.5 178.31,591.93 179.02,591.58 179.74,591.17 180.45,591.2 181.16,591.3 181.88,590.72 182.59,590.61 183.3,590.07 184.02,590 184.73,589.21 185.44,590.04 186.16,589.4 186.87,589.38 187.58,588.56 188.3,588.33 189.01,588.03 189.72,588.08 190.44,587.73 191.15,587.71 191.87,586.33 192.58,586.25 193.29,586.04 194.01,585.27 194.72,584.87 195.43,584.32 196.15,584.61 196.86,583.83 197.57,583.02 198.29,582.42 199,581.66 199.71,581.73 200.43,580.74 201.14,579.4 201.85,579.29 202.57,578.57 203.28,578.23 203.99,577.25 204.71,576.15 205.42,576.12 206.13,574.95 206.85,575.1 207.56,573.76 208.28,572.9 208.99,572.9 209.7,571.35 210.42,571.45 211.13,570.82 211.84,569.75 212.56,568.14 213.27,568.28 213.98,567.34 214.7,567.61 215.41,566.64 216.12,566.79 216.84,566.02 217.55,564.85 218.26,564.97 218.98,563.86 219.69,564.53 220.41,564.36 221.12,563.44 221.83,564.47 222.55,564.97 223.26,563.48 223.97,564.08 224.69,565.64 225.4,564.62 226.11,565.09 226.83,564.19 227.54,565.82 228.25,566.08 228.97,566.61 229.68,567.08 230.39,567.31 231.11,568.13 231.82,568.39 232.53,569.16 233.25,569.6 233.96,570.14 234.68,570.17 235.39,570.79 236.1,571.59 236.82,571.36 237.53,572.17 238.24,572.91 238.96,573.49 239.67,573.18 240.38,574.33 241.1,574.81 241.81,576.62 242.52,576.39 243.24,577.54 243.95,577.4 244.66,577.63 245.38,578.56 246.09,578.64 246.8,579.72 247.52,579.65 248.23,580.89 248.94,580.93 249.66,581.17 250.37,581.6 251.09,582.27 251.8,582.05 252.51,583.23 253.23,583.66 253.94,584.77 254.65,583.8 255.37,584.82 256.08,585.42 256.79,585.07 257.51,585.45 258.22,586.1 258.93,586.85 259.65,586.66 260.36,587.24 261.07,587.68 261.79,587.39 262.5,588.47 263.22,588.05 263.93,588.33 264.64,588.19 265.36,588.84 266.07,589.64 266.78,589.56 267.5,589.55 268.21,589.69 268.92,589.74 269.64,590.58 270.35,590.39 271.06,590.27 271.78,590.31 272.49,590.4 273.2,591.03 273.92,590.85 274.63,590.86 275.34,591.1 276.06,591.33 276.77,591.42 277.49,591.87 278.2,592.11 278.91,591.72 279.63,592.09 280.34,592.12 281.05,592.32 281.77,592.37 282.48,592.33 283.19,592.66 283.91,592.52 284.62,592.56 285.33,592.7 286.05,592.89 286.76,592.66 287.47,592.52 288.19,593.05 288.9,592.76 289.61,592.88 290.33,593.61 291.04,593.3 291.75,593.33 292.47,593.11 293.18,593.27 293.9,593.26 294.61,593.27 295.32,593.6 296.04,593.61 296.75,593.74 297.46,593.58 298.18,593.61 298.89,593.59 299.6,593.79 300.32,593.53 301.03,593.56 301.74,593.48 302.46,593.66 303.17,593.78 303.88,593.73 304.6,593.77 305.31,594.02 306.02,593.7 306.74,593.65 307.45,593.63 308.17,594 308.88,593.97 309.59,593.98 310.31,594.08 311.02,593.99 311.73,594.15 312.45,594.18 313.16,593.86 313.87,594.16 314.59,594.2 315.3,594.07 316.01,594.22 316.73,594.22 317.44,594.3 318.15,594.52 318.87,594.33 319.58,594.54 320.3,594.32 321.01,594.58 321.72,594.23 322.44,594.28 323.15,594.37 323.86,594.45 324.58,594.38 325.29,594.8 326,594.67 326.72,594.52 327.43,594.45 328.14,594.54 328.86,594.71 329.57,594.53 330.28,594.64 331,594.76 331.71,594.53 332.42,594.64 333.14,594.41 333.85,594.51 334.56,594.51 335.28,594.59 335.99,594.8 336.71,594.83 337.42,594.93 338.13,594.21 338.85,594.88 339.56,594.75 340.27,594.78 340.99,594.78 341.7,594.84 342.41,595.07 343.13,594.93 343.84,595 344.55,594.8" fill="none" stroke="#e8383a" stroke-width="1.4" stroke-linejoin="round" stroke-linecap="round" clip-path="url(#clipg)"/>
<polyline points="56.3,595.01 57.01,595 57.73,594.8 58.44,594.97 59.15,594.64 59.87,594.91 60.58,594.77 61.29,595.1 62.01,594.67 62.72,594.89 63.43,594.71 64.15,594.72 64.86,594.82 65.58,594.73 66.29,594.85 67,594.47 67.72,594.55 68.43,594.64 69.14,594.99 69.86,594.96 70.57,594.86 71.28,594.76 72,594.61 72.71,594.89 73.42,594.43 74.14,594.68 74.85,595.1 75.56,594.76 76.28,595.21 76.99,594.8 77.7,594.75 78.42,594.75 79.13,594.68 79.85,594.69 80.56,594.72 81.27,594.26 81.99,594.31 82.7,594.81 83.41,594.28 84.13,594.89 84.84,594.71 85.55,594.19 86.27,594.99 86.98,594.37 87.69,594.76 88.41,594.5 89.12,594.5 89.83,594.08 90.55,594.61 91.26,594.44 91.97,594.28 92.69,594.45 93.4,594.57 94.12,594.39 94.83,594.34 95.54,594.15 96.26,594.54 96.97,594.42 97.68,594.23 98.4,594.33 99.11,594.31 99.82,594.26 100.54,594.4 101.25,594.4 101.96,594.12 102.68,594.44 103.39,593.92 104.1,594.11 104.82,594.43 105.53,594.07 106.25,594.07 106.96,593.92 107.67,593.82 108.39,594.14 109.1,594.19 109.81,594.15 110.53,594.21 111.24,594.14 111.95,593.89 112.67,593.93 113.38,594.02 114.09,594.06 114.81,593.79 115.52,593.96 116.23,594.06 116.95,593.84 117.66,593.84 118.37,593.99 119.09,593.55 119.8,593.52 120.52,593.67 121.23,593.62 121.94,593.51 122.66,593.61 123.37,593.37 124.08,593.17 124.8,593.49 125.51,593.38 126.22,593.26 126.94,593.5 127.65,593.64 128.36,593.15 129.08,593.68 129.79,592.89 130.5,593.06 131.22,593.18 131.93,593.17 132.64,592.75 133.36,593.32 134.07,593.33 134.78,593.17 135.5,593.05 136.21,593.18 136.93,592.87 137.64,592.83 138.35,593.01 139.07,592.41 139.78,593.05 140.49,592.97 141.21,592.55 141.92,592.63 142.63,592.43 143.35,592.62 144.06,592.66 144.77,592.52 145.49,592.47 146.2,592.13 146.91,592.3 147.63,591.95 148.34,591.93 149.06,591.76 149.77,591.72 150.48,591.68 151.2,591.61 151.91,591.84 152.62,591.71 153.34,592 154.05,591.42 154.76,591.57 155.48,591.23 156.19,591.11 156.9,591.47 157.62,591.29 158.33,591.03 159.04,590.97 159.76,590.7 160.47,590.91 161.18,590.51 161.9,590.82 162.61,590.81 163.32,589.98 164.04,590.34 164.75,590.02 165.47,590.09 166.18,589.94 166.89,589.53 167.61,589.37 168.32,588.84 169.03,588.79 169.75,588.78 170.46,588.32 171.17,588.01 171.89,587.97 172.6,587.95 173.31,587.33 174.03,586.87 174.74,586.89 175.45,586.3 176.17,586.22 176.88,585.91 177.59,586.1 178.31,585.75 179.02,585.07 179.74,585.12 180.45,584.39 181.16,583.53 181.88,583.49 182.59,582.64 183.3,582.67 184.02,581.85 184.73,580.8 185.44,580.42 186.16,579.74 186.87,578.6 187.58,577.99 188.3,577.93 189.01,576.4 189.72,576.2 190.44,575.11 191.15,574.17 191.87,572.82 192.58,572.6 193.29,570.96 194.01,569.82 194.72,568.56 195.43,567.75 196.15,566.02 196.86,565.42 197.57,563.3 198.29,562.24 199,561.57 199.71,559.3 200.43,557.87 201.14,556.55 201.85,555.13 202.57,553.24 203.28,552.16 203.99,548.85 204.71,548.55 205.42,546.54 206.13,543.76 206.85,542.24 207.56,540.33 208.28,538.02 208.99,537.25 209.7,535.87 210.42,532.91 211.13,531.14 211.84,530.11 212.56,529.02 213.27,525.74 213.98,524.6 214.7,524.43 215.41,521.56 216.12,521.82 216.84,519.98 217.55,519.4 218.26,518.15 218.98,517.54 219.69,516.79 220.41,515.38 221.12,515.44 221.83,515.11 222.55,514.82 223.26,516.06 223.97,516 224.69,516.04 225.4,515.67 226.11,516.84 226.83,517.17 227.54,518.2 228.25,519.03 228.97,521.96 229.68,521.1 230.39,522.64 231.11,523.88 231.82,525.47 232.53,526.64 233.25,527.37 233.96,528.43 234.68,531.29 235.39,531.58 236.1,533.48 236.82,535.14 237.53,535.76 238.24,537.64 238.96,539.28 239.67,540.79 240.38,541.65 241.1,543.26 241.81,545.28 242.52,546.56 243.24,547.62 243.95,548.71 244.66,550.83 245.38,551.41 246.09,553.39 246.8,552.99 247.52,556.03 248.23,557.21 248.94,557.99 249.66,559.69 250.37,560.11 251.09,560.84 251.8,562.91 252.51,563.77 253.23,565.12 253.94,565.94 254.65,566.38 255.37,567.57 256.08,569.22 256.79,569.2 257.51,570.24 258.22,571.35 258.93,572.6 259.65,573.14 260.36,574.22 261.07,574.52 261.79,575.51 262.5,576.86 263.22,576.46 263.93,577.35 264.64,577.68 265.36,578.67 266.07,579.14 266.78,579.4 267.5,580.15 268.21,580.69 268.92,580.29 269.64,581.78 270.35,582.12 271.06,582.09 271.78,583.24 272.49,583.7 273.2,584.19 273.92,583.98 274.63,584.3 275.34,584.6 276.06,585.5 276.77,585.14 277.49,585.38 278.2,586.01 278.91,586.24 279.63,586.32 280.34,586.65 281.05,586.81 281.77,587.49 282.48,587.46 283.19,587.94 283.91,587.65 284.62,587.87 285.33,588.21 286.05,588.28 286.76,588.92 287.47,588.46 288.19,588.95 288.9,588.95 289.61,588.84 290.33,589.45 291.04,589.09 291.75,589.49 292.47,589.64 293.18,589.62 293.9,590.19 294.61,589.84 295.32,590.08 296.04,589.94 296.75,590.35 297.46,590.48 298.18,590.4 298.89,590.59 299.6,590.95 300.32,590.8 301.03,590.53 301.74,590.94 302.46,591.2 303.17,590.9 303.88,591.59 304.6,591.72 305.31,591.29 306.02,591.31 306.74,591.37 307.45,591.7 308.17,591.59 308.88,591.95 309.59,591.62 310.31,592.11 311.02,591.83 311.73,591.79 312.45,592.32 313.16,592.08 313.87,591.83 314.59,591.7 315.3,592.46 316.01,592.08 316.73,592.5 317.44,592.57 318.15,591.93 318.87,592.19 319.58,592.58 320.3,592.39 321.01,592.33 321.72,592.48 322.44,592.05 323.15,592.46 323.86,593.33 324.58,592.75 325.29,592.89 326,592.8 326.72,592.79 327.43,592.98 328.14,593.11 328.86,592.59 329.57,592.8 330.28,593.12 331,592.84 331.71,592.88 332.42,592.77 333.14,593.33 333.85,592.94 334.56,593.29 335.28,592.92 335.99,593.25 336.71,593.75 337.42,593.26 338.13,593.69 338.85,593.37 339.56,593.36 340.27,593.46 340.99,593.73 341.7,593.67 342.41,593.64 343.13,593.53 343.84,593.21 344.55,593.36" fill="none" stroke="#1f6fe0" stroke-width="1.4" stroke-linejoin="round" stroke-linecap="round" clip-path="url(#clipg)"/>
<polyline points="56.3,594.58 57.01,594.15 57.73,594.78 58.44,594.27 59.15,594.47 59.87,594.36 60.58,594.25 61.29,594.56 62.01,594.19 62.72,594.38 63.43,593.78 64.15,594.43 64.86,594.04 65.58,594.18 66.29,594.61 67,593.98 67.72,594.56 68.43,594.83 69.14,594.07 69.86,594 70.57,594.24 71.28,594.3 72,593.84 72.71,594.04 73.42,594.36 74.14,594.01 74.85,594.47 75.56,594.29 76.28,594.4 76.99,594.66 77.7,594.4 78.42,593.8 79.13,594.35 79.85,594.21 80.56,594.34 81.27,593.83 81.99,594.02 82.7,593.89 83.41,594.02 84.13,594.26 84.84,594.2 85.55,593.74 86.27,593.94 86.98,593.72 87.69,594.66 88.41,593.6 89.12,593.98 89.83,593.31 90.55,593.94 91.26,593.79 91.97,593.62 92.69,593.97 93.4,593.53 94.12,593.88 94.83,593.38 95.54,593.48 96.26,593.53 96.97,593.81 97.68,593.66 98.4,593.52 99.11,594.07 99.82,593.68 100.54,593.29 101.25,593.81 101.96,593.16 102.68,593.6 103.39,593.34 104.1,593.68 104.82,593.25 105.53,593.23 106.25,593.04 106.96,592.95 107.67,592.95 108.39,593.18 109.1,593.51 109.81,592.85 110.53,593.47 111.24,593.22 111.95,592.9 112.67,592.94 113.38,592.62 114.09,592.98 114.81,593.37 115.52,592.98 116.23,592.84 116.95,592.93 117.66,592.46 118.37,592.83 119.09,593.09 119.8,592.58 120.52,592.94 121.23,592.19 121.94,592.51 122.66,592.88 123.37,592.22 124.08,591.85 124.8,592.9 125.51,592.13 126.22,592.19 126.94,592.22 127.65,592.13 128.36,592.04 129.08,592.29 129.79,591.7 130.5,592.35 131.22,591.46 131.93,591.51 132.64,592.14 133.36,591.79 134.07,591.36 134.78,591.79 135.5,591.64 136.21,591.64 136.93,591.18 137.64,591.56 138.35,591.34 139.07,591.13 139.78,591.25 140.49,591.35 141.21,591.4 141.92,591.37 142.63,591.2 143.35,591.26 144.06,590.92 144.77,590.57 145.49,590.54 146.2,590.68 146.91,590.64 147.63,590.54 148.34,590.55 149.06,590.41 149.77,589.79 150.48,590.25 151.2,589.76 151.91,589.82 152.62,588.9 153.34,589.9 154.05,589.25 154.76,589.26 155.48,589.25 156.19,588.82 156.9,588.72 157.62,588.91 158.33,588.36 159.04,588.21 159.76,587.8 160.47,588.16 161.18,587.41 161.9,587.69 162.61,587.99 163.32,587.11 164.04,587.07 164.75,587.08 165.47,586.35 166.18,586.51 166.89,585.85 167.61,585.91 168.32,585.41 169.03,585.15 169.75,584.91 170.46,585.04 171.17,584.15 171.89,584.07 172.6,583.13 173.31,583.19 174.03,582.71 174.74,582.74 175.45,582.19 176.17,581.57 176.88,581.46 177.59,580.94 178.31,580.06 179.02,579.46 179.74,578.76 180.45,577.81 181.16,577.6 181.88,576.52 182.59,576.02 183.3,575.22 184.02,574.21 184.73,574.1 185.44,572.41 186.16,571.65 186.87,570.7 187.58,569.93 188.3,568.24 189.01,567.54 189.72,565.21 190.44,564.28 191.15,563.43 191.87,561.54 192.58,559.41 193.29,558.34 194.01,556.51 194.72,554.79 195.43,552.84 196.15,551.64 196.86,548.91 197.57,547.09 198.29,543.28 199,542.61 199.71,540.46 200.43,537.39 201.14,535.57 201.85,532.89 202.57,530.97 203.28,527.03 203.99,525.63 204.71,522.37 205.42,519.18 206.13,517.29 206.85,514.31 207.56,511.13 208.28,508.24 208.99,506.6 209.7,502.95 210.42,500.96 211.13,498.1 211.84,495.36 212.56,491.4 213.27,488.58 213.98,485.39 214.7,485.12 215.41,483.59 216.12,481.72 216.84,477.88 217.55,478.8 218.26,476.44 218.98,475.49 219.69,472.68 220.41,474.29 221.12,472.15 221.83,471.84 222.55,473.15 223.26,472.88 223.97,474.94 224.69,474.33 225.4,475.16 226.11,477.97 226.83,476.57 227.54,477.79 228.25,480.73 228.97,481.92 229.68,482.93 230.39,484.4 231.11,485.96 231.82,488.28 232.53,490.22 233.25,491.21 233.96,493.82 234.68,495.63 235.39,497.85 236.1,499.53 236.82,502.14 237.53,503.66 238.24,506.39 238.96,508.11 239.67,510.12 240.38,514.07 241.1,514.79 241.81,516.47 242.52,520.33 243.24,521.93 243.95,524.25 244.66,525.9 245.38,527.94 246.09,530.65 246.8,531.58 247.52,534.72 248.23,536.27 248.94,537.57 249.66,538.96 250.37,542.01 251.09,543.14 251.8,545.14 252.51,547.66 253.23,548.99 253.94,550.69 254.65,551.9 255.37,553.36 256.08,554.61 256.79,555.49 257.51,557.21 258.22,557.61 258.93,560.08 259.65,560.89 260.36,562.23 261.07,562.96 261.79,564.79 262.5,565.39 263.22,566.13 263.93,567.99 264.64,568.7 265.36,569.4 266.07,570.61 266.78,571.61 267.5,571.47 268.21,572.96 268.92,573.03 269.64,574.51 270.35,575.09 271.06,575.41 271.78,576.37 272.49,577.19 273.2,577.71 273.92,577.94 274.63,578.76 275.34,579.03 276.06,580.25 276.77,580.17 277.49,580.5 278.2,581.02 278.91,581.57 279.63,581.93 280.34,582.01 281.05,581.94 281.77,583.14 282.48,583.14 283.19,583.08 283.91,583.57 284.62,583.98 285.33,584.36 286.05,584.49 286.76,584.78 287.47,585.62 288.19,585.44 288.9,586.01 289.61,585.31 290.33,585.65 291.04,586.31 291.75,586.06 292.47,585.79 293.18,586.83 293.9,586.47 294.61,586.9 295.32,587.23 296.04,587.62 296.75,587.62 297.46,587.73 298.18,588.4 298.89,587.76 299.6,588.13 300.32,588.04 301.03,588.41 301.74,587.61 302.46,588.99 303.17,588.91 303.88,588.58 304.6,588.25 305.31,589.26 306.02,588.61 306.74,589.44 307.45,588.95 308.17,589.38 308.88,588.9 309.59,589.11 310.31,589.85 311.02,588.99 311.73,590.15 312.45,590.02 313.16,589.54 313.87,590.29 314.59,590.35 315.3,590.22 316.01,590.21 316.73,590.3 317.44,590.67 318.15,590.5 318.87,590.45 319.58,590.29 320.3,590.67 321.01,591.14 321.72,590.87 322.44,591.1 323.15,590.67 323.86,591.5 324.58,590.98 325.29,591.46 326,590.91 326.72,591.1 327.43,591.29 328.14,591.28 328.86,591.54 329.57,591.34 330.28,591.57 331,591.42 331.71,591.64 332.42,592.34 333.14,591.89 333.85,591.41 334.56,591.48 335.28,591.86 335.99,591.97 336.71,592.06 337.42,591.86 338.13,591.92 338.85,592.35 339.56,591.98 340.27,591.87 340.99,592.46 341.7,592.31 342.41,592.18 343.13,592.15 343.84,592.48 344.55,592.54" fill="none" stroke="#2fa35a" stroke-width="1.4" stroke-linejoin="round" stroke-linecap="round" clip-path="url(#clipg)"/>
<polyline points="56.3,594.33 57.01,594.09 57.73,594.07 58.44,594.18 59.15,594.53 59.87,594.44 60.58,593.96 61.29,594.45 62.01,594.05 62.72,594.19 63.43,594.25 64.15,594.06 64.86,593.6 65.58,593.96 66.29,594.11 67,594.41 67.72,593.86 68.43,593.68 69.14,593.81 69.86,593.64 70.57,593.81 71.28,594.28 72,593.92 72.71,593.75 73.42,593.68 74.14,593.99 74.85,593.86 75.56,593.73 76.28,593.47 76.99,593.52 77.7,593.6 78.42,593.65 79.13,594.02 79.85,594.02 80.56,593.73 81.27,593.4 81.99,593.56 82.7,593.49 83.41,594.03 84.13,594 84.84,593.28 85.55,593.57 86.27,593.9 86.98,593.28 87.69,593.43 88.41,592.67 89.12,593.11 89.83,593.34 90.55,593.45 91.26,593.32 91.97,593.39 92.69,593.73 93.4,593.06 94.12,593.21 94.83,594.01 95.54,593.41 96.26,593.44 96.97,592.92 97.68,593.17 98.4,592.72 99.11,593.54 99.82,593.37 100.54,592.75 101.25,593.19 101.96,593.27 102.68,593.1 103.39,593.13 104.1,592.74 104.82,592.55 105.53,593.26 106.25,592.87 106.96,592.75 107.67,592.7 108.39,592.46 109.1,592.62 109.81,592.78 110.53,592.88 111.24,593.04 111.95,592.6 112.67,592.46 113.38,592.17 114.09,592.49 114.81,591.7 115.52,592.32 116.23,592.39 116.95,592.11 117.66,592.44 118.37,592.06 119.09,592.65 119.8,591.84 120.52,591.96 121.23,591.87 121.94,591.83 122.66,592.18 123.37,592.02 124.08,591.28 124.8,591.53 125.51,591.78 126.22,591.43 126.94,591.38 127.65,590.89 128.36,591.06 129.08,591.19 129.79,591.37 130.5,590.68 131.22,591.14 131.93,591.29 132.64,591.32 133.36,591.15 134.07,590.94 134.78,590.54 135.5,590.42 136.21,590.28 136.93,590.48 137.64,590.21 138.35,589.72 139.07,590.01 139.78,589.73 140.49,590.53 141.21,590.22 141.92,590.13 142.63,590.58 143.35,589.69 144.06,589.21 144.77,589.66 145.49,589.34 146.2,589.54 146.91,589.32 147.63,588.98 148.34,589.29 149.06,588.48 149.77,589.25 150.48,588.47 151.2,588.57 151.91,587.85 152.62,587.92 153.34,588.62 154.05,588.57 154.76,587.99 155.48,587.68 156.19,587.42 156.9,587.19 157.62,586.82 158.33,587.24 159.04,587.18 159.76,586.37 160.47,586.35 161.18,586.06 161.9,586 162.61,585.63 163.32,584.88 164.04,585.58 164.75,585.2 165.47,584.35 166.18,583.77 166.89,584.03 167.61,584.05 168.32,583.96 169.03,582.9 169.75,583.02 170.46,581.54 171.17,581.09 171.89,581.35 172.6,580.82 173.31,580.55 174.03,579.65 174.74,579.51 175.45,578.94 176.17,577.92 176.88,577.56 177.59,576.39 178.31,577.01 179.02,575.92 179.74,575.28 180.45,573.86 181.16,573.48 181.88,572.19 182.59,571.89 183.3,570.49 184.02,568.54 184.73,567.66 185.44,567.84 186.16,565.73 186.87,564.24 187.58,563.39 188.3,562.2 189.01,559.95 189.72,558.59 190.44,556.73 191.15,555.28 191.87,552.34 192.58,551.88 193.29,549.69 194.01,547.13 194.72,544.85 195.43,543.62 196.15,539.94 196.86,538.89 197.57,535.61 198.29,533.16 199,530.68 199.71,526.87 200.43,525.97 201.14,522.09 201.85,519.17 202.57,514.99 203.28,511.38 203.99,508.6 204.71,504.89 205.42,503.93 206.13,498.94 206.85,496.58 207.56,492.43 208.28,488.53 208.99,485.17 209.7,480.76 210.42,479.92 211.13,475.69 211.84,472.92 212.56,469.87 213.27,464.6 213.98,462.32 214.7,458.34 215.41,456.01 216.12,454.54 216.84,453.25 217.55,449.54 218.26,449.35 218.98,448.39 219.69,447.23 220.41,445.26 221.12,443.72 221.83,444.67 222.55,443.7 223.26,445.05 223.97,446.03 224.69,443.87 225.4,445.6 226.11,448.16 226.83,450.36 227.54,452.48 228.25,452.3 228.97,454.63 229.68,455.9 230.39,458.05 231.11,460.1 231.82,461.76 232.53,464.8 233.25,468.08 233.96,470.61 234.68,472.09 235.39,476.01 236.1,477.27 236.82,479.97 237.53,483.27 238.24,486.54 238.96,490 239.67,492.25 240.38,495.33 241.1,496.89 241.81,499.92 242.52,502.92 243.24,504.39 243.95,507.51 244.66,510.16 245.38,512.4 246.09,514.63 246.8,518.7 247.52,519.74 248.23,523.59 248.94,525.32 249.66,526.58 250.37,528.99 251.09,531.18 251.8,533.56 252.51,534.99 253.23,538.52 253.94,539.84 254.65,541.56 255.37,542.42 256.08,544.71 256.79,546.44 257.51,548.96 258.22,549.19 258.93,551.58 259.65,553.75 260.36,553.73 261.07,556.79 261.79,557.9 262.5,558.94 263.22,560.51 263.93,561.09 264.64,562.37 265.36,563.55 266.07,563.92 266.78,566.35 267.5,566.17 268.21,567.97 268.92,568.01 269.64,568.73 270.35,569.43 271.06,571.16 271.78,572.29 272.49,572.48 273.2,573.33 273.92,574.61 274.63,574.37 275.34,575.58 276.06,575.34 276.77,576.08 277.49,577.05 278.2,577.47 278.91,578.06 279.63,578.61 280.34,577.87 281.05,579.66 281.77,579.75 282.48,579.84 283.19,580.68 283.91,581.13 284.62,581.71 285.33,581.23 286.05,581.71 286.76,582.11 287.47,583.04 288.19,582.69 288.9,583.04 289.61,583.5 290.33,584.09 291.04,583.92 291.75,584.41 292.47,584.35 293.18,584.58 293.9,584.91 294.61,584.75 295.32,585.24 296.04,585.25 296.75,585.47 297.46,585.48 298.18,586.26 298.89,586.24 299.6,586.02 300.32,586.41 301.03,586.28 301.74,586.55 302.46,587.05 303.17,586.8 303.88,587.28 304.6,587.05 305.31,586.92 306.02,587.28 306.74,587.05 307.45,588.31 308.17,588.13 308.88,588.17 309.59,588.32 310.31,588.2 311.02,588.53 311.73,588.2 312.45,588.34 313.16,588.61 313.87,589.13 314.59,588.77 315.3,588.83 316.01,589.02 316.73,589.2 317.44,588.89 318.15,589.54 318.87,589.58 319.58,589.36 320.3,589.48 321.01,589.47 321.72,589.88 322.44,590.25 323.15,590.3 323.86,590.15 324.58,589.87 325.29,589.94 326,590.76 326.72,590.15 327.43,590.4 328.14,590.74 328.86,589.88 329.57,590.49 330.28,590.4 331,589.96 331.71,590.92 332.42,590.92 333.14,590.45 333.85,591.3 334.56,590.96 335.28,591.03 335.99,590.82 336.71,591.03 337.42,591.45 338.13,590.98 338.85,591.06 339.56,591.64 340.27,591.59 340.99,591.59 341.7,591.82 342.41,591.24 343.13,591.68 343.84,591.71 344.55,591.96" fill="none" stroke="#a774e6" stroke-width="1.4" stroke-linejoin="round" stroke-linecap="round" clip-path="url(#clipg)"/>
<defs><filter id="pblur" x="-5%" y="-5%" width="110%" height="110%"><feGaussianBlur stdDeviation="0.5"/></filter></defs>
<g filter="url(#pblur)">
<rect x="79" y="464.5" width="89.80000000000001" height="90.29999999999995" fill="#e8e4d9"/>
<line x1="95.9" y1="464.5" x2="95.9" y2="554.8" stroke="#aeaba2" stroke-width="0.75" />
<line x1="113.5" y1="464.5" x2="113.5" y2="554.8" stroke="#aeaba2" stroke-width="0.75" />
<line x1="131.7" y1="464.5" x2="131.7" y2="554.8" stroke="#aeaba2" stroke-width="0.75" />
<line x1="149.4" y1="464.5" x2="149.4" y2="554.8" stroke="#aeaba2" stroke-width="0.75" />
<line x1="167.2" y1="464.5" x2="167.2" y2="554.8" stroke="#aeaba2" stroke-width="0.75" />
<line x1="79" y1="483.5" x2="168.8" y2="483.5" stroke="#aeaba2" stroke-width="0.75" />
<line x1="79" y1="501.6" x2="168.8" y2="501.6" stroke="#aeaba2" stroke-width="0.75" />
<line x1="79" y1="519.2" x2="168.8" y2="519.2" stroke="#aeaba2" stroke-width="0.75" />
<line x1="79" y1="537" x2="168.8" y2="537" stroke="#aeaba2" stroke-width="0.75" />
<polygon points="97.1,489.5 154.6,487 156,521.5 97.6,523.2" fill="#1e0e0a"/>
<polygon points="97.1,489.5 154.6,487 154.8,495 97.2,497" fill="#28140e"/>
<rect x="101.5" y="499" width="5" height="22" rx="2.5" fill="#0c0404"/>
<rect x="111.5" y="499" width="5" height="22" rx="2.5" fill="#0c0404"/>
<rect x="121.5" y="499" width="5" height="22" rx="2.5" fill="#0c0404"/>
<rect x="131.5" y="499" width="5" height="22" rx="2.5" fill="#0c0404"/>
<rect x="138.2" y="497.3" width="7.8" height="22.5" rx="3.9" fill="#e8232a"/>
<rect x="138.2" y="509" width="7.8" height="10.8" fill="#e8232a"/>
<rect x="88" y="523.2" width="73.5" height="31.6" fill="#f1f1ee"/>
<rect x="88" y="540" width="73.5" height="14.8" fill="#ececea"/>
<path d="M91.5,523.5 L96.9,523.5 L96.5,534 Q94.2,535.5 91.9,534 Z" fill="#7c7c7a"/>
<path d="M92.5,524.8 L95.9,524.8 L94.2,530 Z" fill="#f6f6f6"/>
<path d="M101.0,523.5 L106.4,523.5 L106.0,534 Q103.7,535.5 101.4,534 Z" fill="#7c7c7a"/>
<path d="M102.0,524.8 L105.4,524.8 L103.7,530 Z" fill="#f6f6f6"/>
<path d="M111.3,523.5 L116.7,523.5 L116.3,534 Q114,535.5 111.7,534 Z" fill="#7c7c7a"/>
<path d="M112.3,524.8 L115.7,524.8 L114,530 Z" fill="#f6f6f6"/>
<path d="M121.2,523.5 L126.60000000000001,523.5 L126.2,534 Q123.9,535.5 121.60000000000001,534 Z" fill="#7c7c7a"/>
<path d="M122.2,524.8 L125.60000000000001,524.8 L123.9,530 Z" fill="#f6f6f6"/>
<path d="M131.5,523.5 L136.89999999999998,523.5 L136.5,534 Q134.2,535.5 131.89999999999998,534 Z" fill="#7c7c7a"/>
<path d="M132.5,524.8 L135.89999999999998,524.8 L134.2,530 Z" fill="#f6f6f6"/>
<path d="M141.9,523.5 L147.29999999999998,523.5 L146.9,534 Q144.6,535.5 142.29999999999998,534 Z" fill="#7c7c7a"/>
<path d="M142.9,524.8 L146.29999999999998,524.8 L144.6,530 Z" fill="#f6f6f6"/>
<path d="M151.9,523.5 L157.29999999999998,523.5 L156.9,534 Q154.6,535.5 152.29999999999998,534 Z" fill="#7c7c7a"/>
<path d="M152.9,524.8 L156.29999999999998,524.8 L154.6,530 Z" fill="#f6f6f6"/>
</g>
<rect x="56.3" y="431.6" width="285.4" height="166.5" fill="none" stroke="#000" stroke-width="1.3" />
<line x1="56.3" y1="595.6" x2="59.3" y2="595.6" stroke="#000" stroke-width="1.1" />
<text transform="translate(52.5,600.5) scale(1,1.08)" font-size="13.8" text-anchor="end" fill="#000" >0</text>
<line x1="56.3" y1="562.8" x2="59.3" y2="562.8" stroke="#000" stroke-width="1.1" />
<text transform="translate(52.5,567.7) scale(1,1.08)" font-size="13.8" text-anchor="end" fill="#000" >5</text>
<line x1="56.3" y1="530" x2="59.3" y2="530" stroke="#000" stroke-width="1.1" />
<text transform="translate(52.5,534.9) scale(1,1.08)" font-size="13.8" text-anchor="end" fill="#000" >10</text>
<line x1="56.3" y1="497.2" x2="59.3" y2="497.2" stroke="#000" stroke-width="1.1" />
<text transform="translate(52.5,502.1) scale(1,1.08)" font-size="13.8" text-anchor="end" fill="#000" >15</text>
<line x1="56.3" y1="464.4" x2="59.3" y2="464.4" stroke="#000" stroke-width="1.1" />
<text transform="translate(52.5,469.3) scale(1,1.08)" font-size="13.8" text-anchor="end" fill="#000" >20</text>
<line x1="56.3" y1="431.6" x2="59.3" y2="431.6" stroke="#000" stroke-width="1.1" />
<text transform="translate(52.5,436.5) scale(1,1.08)" font-size="13.8" text-anchor="end" fill="#000" >25</text>
<text transform="translate(56.3,614.7) scale(1,1.08)" font-size="13.8" text-anchor="middle" fill="#000" >650</text>
<line x1="127.65" y1="598.1" x2="127.65" y2="595.1" stroke="#000" stroke-width="1.1" />
<text transform="translate(127.65,614.7) scale(1,1.08)" font-size="13.8" text-anchor="middle" fill="#000" >700</text>
<line x1="199" y1="598.1" x2="199" y2="595.1" stroke="#000" stroke-width="1.1" />
<text transform="translate(199,614.7) scale(1,1.08)" font-size="13.8" text-anchor="middle" fill="#000" >750</text>
<line x1="270.35" y1="598.1" x2="270.35" y2="595.1" stroke="#000" stroke-width="1.1" />
<text transform="translate(270.35,614.7) scale(1,1.08)" font-size="13.8" text-anchor="middle" fill="#000" >800</text>
<text transform="translate(341.7,614.7) scale(1,1.08)" font-size="13.8" text-anchor="middle" fill="#000" >850</text>
<line x1="91.97" y1="598.1" x2="91.97" y2="596.3" stroke="#000" stroke-width="1.0" />
<line x1="163.32" y1="598.1" x2="163.32" y2="596.3" stroke="#000" stroke-width="1.0" />
<line x1="234.68" y1="598.1" x2="234.68" y2="596.3" stroke="#000" stroke-width="1.0" />
<line x1="306.02" y1="598.1" x2="306.02" y2="596.3" stroke="#000" stroke-width="1.0" />
<text transform="translate(199.3,633.6) scale(1,1.0)" font-size="15.6" text-anchor="middle" fill="#000" >Wavelength (nm)</text>
<text transform="translate(27,509.3) rotate(-90) scale(1,1.0)" font-size="15.6" text-anchor="middle" fill="#000">EL Intensity (a.u.)</text>
<text transform="translate(221.2,586.3) scale(1,1.08)" font-size="11.5" text-anchor="middle" fill="#000" >×5</text>
<line x1="266.9" y1="458.5" x2="297" y2="458.5" stroke="#000000" stroke-width="1.6" />
<text transform="translate(299.6,463.1) scale(1,1.08)" font-size="13" text-anchor="start" fill="#000" >1.2 V</text>
<line x1="266.9" y1="474.48" x2="297" y2="474.48" stroke="#e8383a" stroke-width="1.6" />
<text transform="translate(299.6,479.08) scale(1,1.08)" font-size="13" text-anchor="start" fill="#000" >1.4 V</text>
<line x1="266.9" y1="490.46" x2="297" y2="490.46" stroke="#1f6fe0" stroke-width="1.6" />
<text transform="translate(299.6,495.06) scale(1,1.08)" font-size="13" text-anchor="start" fill="#000" >1.6 V</text>
<line x1="266.9" y1="506.44" x2="297" y2="506.44" stroke="#2fa35a" stroke-width="1.6" />
<text transform="translate(299.6,511.04) scale(1,1.08)" font-size="13" text-anchor="start" fill="#000" >1.8 V</text>
<line x1="266.9" y1="522.42" x2="297" y2="522.42" stroke="#a774e6" stroke-width="1.6" />
<text transform="translate(299.6,527.02) scale(1,1.08)" font-size="13" text-anchor="start" fill="#000" >2.0 V</text>
<text transform="translate(12.5,433.2) scale(1,1.0)" font-size="19" text-anchor="start" fill="#000" font-weight="bold" >g</text>
<defs><radialGradient id="ball" cx="0.38" cy="0.35" r="0.7"><stop offset="0" stop-color="#ffd2a8"/><stop offset="0.45" stop-color="#f39a45"/><stop offset="1" stop-color="#d8741e"/></radialGradient></defs>
<line x1="460.9" y1="501.24" x2="460.9" y2="597" stroke="#bbbbbb" stroke-width="1.1" stroke-dasharray="3,2.2"/>
<polyline points="391.52,578.6 394.63,578.6 400.23,578.6 414.23,537.79 437.56,534.08 460.9,496.24 468.67,482.14 504.45,469.53 542.72,455.8 583.78,451.72 626.71,448.01 669.02,446.34" fill="none" stroke="#f0923c" stroke-width="1.6" stroke-linejoin="round" stroke-linecap="round" />
<circle cx="391.52" cy="578.6" r="3.85" fill="url(#ball)"/>
<circle cx="390.22" cy="577.3" r="1.1" fill="#fff" opacity="0.85"/>
<circle cx="394.63" cy="578.6" r="3.85" fill="url(#ball)"/>
<circle cx="393.33" cy="577.3" r="1.1" fill="#fff" opacity="0.85"/>
<circle cx="400.23" cy="578.6" r="3.85" fill="url(#ball)"/>
<circle cx="398.93" cy="577.3" r="1.1" fill="#fff" opacity="0.85"/>
<circle cx="414.23" cy="537.79" r="3.85" fill="url(#ball)"/>
<circle cx="412.93" cy="536.49" r="1.1" fill="#fff" opacity="0.85"/>
<circle cx="437.56" cy="534.08" r="3.85" fill="url(#ball)"/>
<circle cx="436.26" cy="532.78" r="1.1" fill="#fff" opacity="0.85"/>
<circle cx="468.67" cy="482.14" r="3.85" fill="url(#ball)"/>
<circle cx="467.37" cy="480.84" r="1.1" fill="#fff" opacity="0.85"/>
<circle cx="504.45" cy="469.53" r="3.85" fill="url(#ball)"/>
<circle cx="503.15" cy="468.23" r="1.1" fill="#fff" opacity="0.85"/>
<circle cx="542.72" cy="455.8" r="3.85" fill="url(#ball)"/>
<circle cx="541.42" cy="454.5" r="1.1" fill="#fff" opacity="0.85"/>
<circle cx="583.78" cy="451.72" r="3.85" fill="url(#ball)"/>
<circle cx="582.48" cy="450.42" r="1.1" fill="#fff" opacity="0.85"/>
<circle cx="626.71" cy="448.01" r="3.85" fill="url(#ball)"/>
<circle cx="625.41" cy="446.71" r="1.1" fill="#fff" opacity="0.85"/>
<circle cx="669.02" cy="446.34" r="3.85" fill="url(#ball)"/>
<circle cx="667.72" cy="445.04" r="1.1" fill="#fff" opacity="0.85"/>
<polygon points="461.2,491.44 462.55,494.78 466.14,495.03 463.38,497.35 464.25,500.84 461.2,498.94 458.14,500.84 459.01,497.35 456.25,495.03 459.85,494.78" fill="#4cb6f6" stroke="#f0923c" stroke-width="1.5" stroke-linejoin="round"/>
<rect x="513.6" y="491.3" width="138.0" height="80.69999999999999" fill="#fff"/>
<polyline points="513.6,563 516.35,563 519.09,563 521.84,563 524.58,563 527.33,563 530.07,563 532.82,563 535.56,563 538.31,563 541.05,563 543.8,563 546.54,563 549.29,563 552.03,563 554.77,563 557.52,563 560.26,563 563.01,563 565.75,563 568.5,562.99 571.25,562.98 573.99,562.96 576.74,562.9 579.48,562.78 582.23,562.52 584.97,561.96 587.72,560.94 590.46,559.28 593.21,557.01 595.95,554.31 598.7,551.36 601.44,548.28 604.19,545.14 606.93,541.98 609.68,538.81 612.42,535.63 615.16,532.45 617.91,529.26 620.65,526.08 623.4,522.9 626.14,519.72 628.89,516.53 631.63,513.35 634.38,510.17 637.12,506.99 639.87,503.8 642.62,500.62 645.36,497.44 648.11,494.26 650.85,491.07" fill="none" stroke="#f0923c" stroke-width="0.8" stroke-linejoin="round" stroke-linecap="round" />
<circle cx="513.6" cy="563" r="2.0" fill="#fff" stroke="#f0923c" stroke-width="1.0"/>
<circle cx="516.35" cy="563" r="2.0" fill="#fff" stroke="#f0923c" stroke-width="1.0"/>
<circle cx="519.09" cy="563" r="2.0" fill="#fff" stroke="#f0923c" stroke-width="1.0"/>
<circle cx="521.84" cy="563" r="2.0" fill="#fff" stroke="#f0923c" stroke-width="1.0"/>
<circle cx="524.58" cy="563" r="2.0" fill="#fff" stroke="#f0923c" stroke-width="1.0"/>
<circle cx="527.33" cy="563" r="2.0" fill="#fff" stroke="#f0923c" stroke-width="1.0"/>
<circle cx="530.07" cy="563" r="2.0" fill="#fff" stroke="#f0923c" stroke-width="1.0"/>
<circle cx="532.82" cy="563" r="2.0" fill="#fff" stroke="#f0923c" stroke-width="1.0"/>
<circle cx="535.56" cy="563" r="2.0" fill="#fff" stroke="#f0923c" stroke-width="1.0"/>
<circle cx="538.31" cy="563" r="2.0" fill="#fff" stroke="#f0923c" stroke-width="1.0"/>
<circle cx="541.05" cy="563" r="2.0" fill="#fff" stroke="#f0923c" stroke-width="1.0"/>
<circle cx="543.8" cy="563" r="2.0" fill="#fff" stroke="#f0923c" stroke-width="1.0"/>
<circle cx="546.54" cy="563" r="2.0" fill="#fff" stroke="#f0923c" stroke-width="1.0"/>
<circle cx="549.29" cy="563" r="2.0" fill="#fff" stroke="#f0923c" stroke-width="1.0"/>
<circle cx="552.03" cy="563" r="2.0" fill="#fff" stroke="#f0923c" stroke-width="1.0"/>
<circle cx="554.77" cy="563" r="2.0" fill="#fff" stroke="#f0923c" stroke-width="1.0"/>
<circle cx="557.52" cy="563" r="2.0" fill="#fff" stroke="#f0923c" stroke-width="1.0"/>
<circle cx="560.26" cy="563" r="2.0" fill="#fff" stroke="#f0923c" stroke-width="1.0"/>
<circle cx="563.01" cy="563" r="2.0" fill="#fff" stroke="#f0923c" stroke-width="1.0"/>
<circle cx="565.75" cy="563" r="2.0" fill="#fff" stroke="#f0923c" stroke-width="1.0"/>
<circle cx="568.5" cy="562.99" r="2.0" fill="#fff" stroke="#f0923c" stroke-width="1.0"/>
<circle cx="571.25" cy="562.98" r="2.0" fill="#fff" stroke="#f0923c" stroke-width="1.0"/>
<circle cx="573.99" cy="562.96" r="2.0" fill="#fff" stroke="#f0923c" stroke-width="1.0"/>
<circle cx="576.74" cy="562.9" r="2.0" fill="#fff" stroke="#f0923c" stroke-width="1.0"/>
<circle cx="579.48" cy="562.78" r="2.0" fill="#fff" stroke="#f0923c" stroke-width="1.0"/>
<circle cx="582.23" cy="562.52" r="2.0" fill="#fff" stroke="#f0923c" stroke-width="1.0"/>
<circle cx="584.97" cy="561.96" r="2.0" fill="#fff" stroke="#f0923c" stroke-width="1.0"/>
<circle cx="587.72" cy="560.94" r="2.0" fill="#fff" stroke="#f0923c" stroke-width="1.0"/>
<circle cx="590.46" cy="559.28" r="2.0" fill="#fff" stroke="#f0923c" stroke-width="1.0"/>
<circle cx="593.21" cy="557.01" r="2.0" fill="#fff" stroke="#f0923c" stroke-width="1.0"/>
<circle cx="595.95" cy="554.31" r="2.0" fill="#fff" stroke="#f0923c" stroke-width="1.0"/>
<circle cx="598.7" cy="551.36" r="2.0" fill="#fff" stroke="#f0923c" stroke-width="1.0"/>
<circle cx="601.44" cy="548.28" r="2.0" fill="#fff" stroke="#f0923c" stroke-width="1.0"/>
<circle cx="604.19" cy="545.14" r="2.0" fill="#fff" stroke="#f0923c" stroke-width="1.0"/>
<circle cx="606.93" cy="541.98" r="2.0" fill="#fff" stroke="#f0923c" stroke-width="1.0"/>
<circle cx="609.68" cy="538.81" r="2.0" fill="#fff" stroke="#f0923c" stroke-width="1.0"/>
<circle cx="612.42" cy="535.63" r="2.0" fill="#fff" stroke="#f0923c" stroke-width="1.0"/>
<circle cx="615.16" cy="532.45" r="2.0" fill="#fff" stroke="#f0923c" stroke-width="1.0"/>
<circle cx="617.91" cy="529.26" r="2.0" fill="#fff" stroke="#f0923c" stroke-width="1.0"/>
<circle cx="620.65" cy="526.08" r="2.0" fill="#fff" stroke="#f0923c" stroke-width="1.0"/>
<circle cx="623.4" cy="522.9" r="2.0" fill="#fff" stroke="#f0923c" stroke-width="1.0"/>
<circle cx="626.14" cy="519.72" r="2.0" fill="#fff" stroke="#f0923c" stroke-width="1.0"/>
<circle cx="628.89" cy="516.53" r="2.0" fill="#fff" stroke="#f0923c" stroke-width="1.0"/>
<circle cx="631.63" cy="513.35" r="2.0" fill="#fff" stroke="#f0923c" stroke-width="1.0"/>
<circle cx="634.38" cy="510.17" r="2.0" fill="#fff" stroke="#f0923c" stroke-width="1.0"/>
<circle cx="637.12" cy="506.99" r="2.0" fill="#fff" stroke="#f0923c" stroke-width="1.0"/>
<circle cx="639.87" cy="503.8" r="2.0" fill="#fff" stroke="#f0923c" stroke-width="1.0"/>
<circle cx="642.62" cy="500.62" r="2.0" fill="#fff" stroke="#f0923c" stroke-width="1.0"/>
<circle cx="645.36" cy="497.44" r="2.0" fill="#fff" stroke="#f0923c" stroke-width="1.0"/>
<circle cx="648.11" cy="494.26" r="2.0" fill="#fff" stroke="#f0923c" stroke-width="1.0"/>
<circle cx="650.85" cy="491.07" r="2.0" fill="#fff" stroke="#f0923c" stroke-width="1.0"/>
<rect x="513.6" y="491.3" width="138" height="80.7" fill="none" stroke="#333" stroke-width="0.9" />
<line x1="513.6" y1="563" x2="515.6" y2="563" stroke="#333" stroke-width="0.8" />
<text transform="translate(511.8,566.3) scale(1,1.08)" font-size="9.3" text-anchor="end" fill="#1a1a1a" >0</text>
<line x1="513.6" y1="545.07" x2="515.6" y2="545.07" stroke="#333" stroke-width="0.8" />
<text transform="translate(511.8,548.37) scale(1,1.08)" font-size="9.3" text-anchor="end" fill="#1a1a1a" >100</text>
<line x1="513.6" y1="527.14" x2="515.6" y2="527.14" stroke="#333" stroke-width="0.8" />
<text transform="translate(511.8,530.44) scale(1,1.08)" font-size="9.3" text-anchor="end" fill="#1a1a1a" >200</text>
<line x1="513.6" y1="509.21" x2="515.6" y2="509.21" stroke="#333" stroke-width="0.8" />
<text transform="translate(511.8,512.51) scale(1,1.08)" font-size="9.3" text-anchor="end" fill="#1a1a1a" >300</text>
<text transform="translate(511.8,494.58) scale(1,1.08)" font-size="9.3" text-anchor="end" fill="#1a1a1a" >400</text>
<text transform="translate(513.6,581.8) scale(1,1.08)" font-size="9.2" text-anchor="middle" fill="#1a1a1a" >0.0</text>
<line x1="541.05" y1="572" x2="541.05" y2="570" stroke="#333" stroke-width="0.8" />
<text transform="translate(541.05,581.8) scale(1,1.08)" font-size="9.2" text-anchor="middle" fill="#1a1a1a" >0.5</text>
<line x1="568.5" y1="572" x2="568.5" y2="570" stroke="#333" stroke-width="0.8" />
<text transform="translate(568.5,581.8) scale(1,1.08)" font-size="9.2" text-anchor="middle" fill="#1a1a1a" >1.0</text>
<line x1="595.95" y1="572" x2="595.95" y2="570" stroke="#333" stroke-width="0.8" />
<text transform="translate(595.95,581.8) scale(1,1.08)" font-size="9.2" text-anchor="middle" fill="#1a1a1a" >1.5</text>
<line x1="623.4" y1="572" x2="623.4" y2="570" stroke="#333" stroke-width="0.8" />
<text transform="translate(623.4,581.8) scale(1,1.08)" font-size="9.2" text-anchor="middle" fill="#1a1a1a" >2.0</text>
<text transform="translate(650.85,581.8) scale(1,1.08)" font-size="9.2" text-anchor="middle" fill="#1a1a1a" >2.5</text>
<text transform="translate(582.2,592.6) scale(1,1.08)" font-size="9.7" text-anchor="middle" fill="#1a1a1a" >Voltage (V)</text>
<text transform="translate(494,533.5) rotate(-90) scale(1,1.08)" font-size="9.5" text-anchor="middle" fill="#1a1a1a">Current Density (mA cm<tspan dy="-3.5" font-size="6.8">-2</tspan><tspan dy="3.5">)</tspan></text>
<rect x="390.9" y="430.4" width="283.4" height="166.6" fill="none" stroke="#000" stroke-width="1.3" />
<line x1="390.9" y1="578.6" x2="394.7" y2="578.6" stroke="#000" stroke-width="1.2" />
<text transform="translate(386.5,583.4) scale(1,1.08)" font-size="14" text-anchor="end" fill="#000" >0</text>
<line x1="390.9" y1="541.5" x2="394.7" y2="541.5" stroke="#000" stroke-width="1.2" />
<text transform="translate(386.5,546.3) scale(1,1.08)" font-size="14" text-anchor="end" fill="#000" >1</text>
<line x1="390.9" y1="504.4" x2="394.7" y2="504.4" stroke="#000" stroke-width="1.2" />
<text transform="translate(386.5,509.2) scale(1,1.08)" font-size="14" text-anchor="end" fill="#000" >2</text>
<line x1="390.9" y1="467.3" x2="394.7" y2="467.3" stroke="#000" stroke-width="1.2" />
<text transform="translate(386.5,472.1) scale(1,1.08)" font-size="14" text-anchor="end" fill="#000" >3</text>
<text transform="translate(386.5,435) scale(1,1.08)" font-size="14" text-anchor="end" fill="#000" >4</text>
<line x1="390.9" y1="560.05" x2="392.7" y2="560.05" stroke="#000" stroke-width="1.0" />
<line x1="390.9" y1="522.95" x2="392.7" y2="522.95" stroke="#000" stroke-width="1.0" />
<line x1="390.9" y1="485.85" x2="392.7" y2="485.85" stroke="#000" stroke-width="1.0" />
<line x1="390.9" y1="448.75" x2="392.7" y2="448.75" stroke="#000" stroke-width="1.0" />
<text transform="translate(390.9,612.5) scale(1,1.08)" font-size="14" text-anchor="middle" fill="#000" >0</text>
<line x1="422.01" y1="597" x2="422.01" y2="593.2" stroke="#000" stroke-width="1.2" />
<text transform="translate(422.01,612.5) scale(1,1.08)" font-size="14" text-anchor="middle" fill="#000" >10</text>
<line x1="453.12" y1="597" x2="453.12" y2="593.2" stroke="#000" stroke-width="1.2" />
<text transform="translate(453.12,612.5) scale(1,1.08)" font-size="14" text-anchor="middle" fill="#000" >20</text>
<line x1="484.23" y1="597" x2="484.23" y2="593.2" stroke="#000" stroke-width="1.2" />
<text transform="translate(484.23,612.5) scale(1,1.08)" font-size="14" text-anchor="middle" fill="#000" >30</text>
<line x1="515.34" y1="597" x2="515.34" y2="593.2" stroke="#000" stroke-width="1.2" />
<text transform="translate(515.34,612.5) scale(1,1.08)" font-size="14" text-anchor="middle" fill="#000" >40</text>
<line x1="546.45" y1="597" x2="546.45" y2="593.2" stroke="#000" stroke-width="1.2" />
<text transform="translate(546.45,612.5) scale(1,1.08)" font-size="14" text-anchor="middle" fill="#000" >50</text>
<line x1="577.56" y1="597" x2="577.56" y2="593.2" stroke="#000" stroke-width="1.2" />
<text transform="translate(577.56,612.5) scale(1,1.08)" font-size="14" text-anchor="middle" fill="#000" >60</text>
<line x1="608.67" y1="597" x2="608.67" y2="593.2" stroke="#000" stroke-width="1.2" />
<text transform="translate(608.67,612.5) scale(1,1.08)" font-size="14" text-anchor="middle" fill="#000" >70</text>
<line x1="639.78" y1="597" x2="639.78" y2="593.2" stroke="#000" stroke-width="1.2" />
<text transform="translate(639.78,612.5) scale(1,1.08)" font-size="14" text-anchor="middle" fill="#000" >80</text>
<line x1="670.89" y1="597" x2="670.89" y2="593.2" stroke="#000" stroke-width="1.2" />
<text transform="translate(670.89,612.5) scale(1,1.08)" font-size="14" text-anchor="middle" fill="#000" >90</text>
<line x1="406.45" y1="597" x2="406.45" y2="595.2" stroke="#000" stroke-width="1.0" />
<line x1="437.56" y1="597" x2="437.56" y2="595.2" stroke="#000" stroke-width="1.0" />
<line x1="468.67" y1="597" x2="468.67" y2="595.2" stroke="#000" stroke-width="1.0" />
<line x1="499.78" y1="597" x2="499.78" y2="595.2" stroke="#000" stroke-width="1.0" />
<line x1="530.89" y1="597" x2="530.89" y2="595.2" stroke="#000" stroke-width="1.0" />
<line x1="562" y1="597" x2="562" y2="595.2" stroke="#000" stroke-width="1.0" />
<line x1="593.12" y1="597" x2="593.12" y2="595.2" stroke="#000" stroke-width="1.0" />
<line x1="624.23" y1="597" x2="624.23" y2="595.2" stroke="#000" stroke-width="1.0" />
<line x1="655.34" y1="597" x2="655.34" y2="595.2" stroke="#000" stroke-width="1.0" />
<text transform="translate(533.1,633.5) scale(1,1.0)" font-size="15.5" text-anchor="middle" fill="#000" >Current Density (mA cm<tspan dy="-6" font-size="10.7">-2</tspan><tspan dy="6">)</tspan></text>
<text transform="translate(369,513.4) rotate(-90) scale(1,1.0)" font-size="15.7" text-anchor="middle" fill="#000">EQE<tspan dy="4" font-size="11">EL</tspan><tspan dy="-4"> (%)</tspan></text>
<text transform="translate(436.5,459) scale(1,1.08)" font-size="13" text-anchor="middle" fill="#6bb52a" >2.22%</text>
<text transform="translate(397.5,475.5) scale(1,1.08)" font-size="11.8" text-anchor="start" fill="#a655f0" >@22.5 mA cm<tspan dy="-5" font-size="8">-2</tspan></text>
<text transform="translate(352,432.5) scale(1,1.0)" font-size="19" text-anchor="start" fill="#000" font-weight="bold" >h</text>
<defs><linearGradient id="semga" x1="0" y1="0" x2="0" y2="1"><stop offset="0" stop-color="#d0d0d0"/><stop offset="0.01" stop-color="#b4b4b4"/><stop offset="0.03" stop-color="#a4a4a4"/><stop offset="0.08" stop-color="#969696"/><stop offset="0.11" stop-color="#868686"/><stop offset="0.13" stop-color="#6e6e6e"/><stop offset="0.16" stop-color="#646464"/><stop offset="0.22" stop-color="#606060"/><stop offset="0.26" stop-color="#5c5c5c"/><stop offset="0.29" stop-color="#555555"/><stop offset="0.32" stop-color="#4e4e4e"/><stop offset="1" stop-color="#4e4e4e"/></linearGradient><clipPath id="semclipa"><rect x="40" y="3.2" width="357.5" height="81.3"/></clipPath><filter id="semblura" x="-5%" y="-5%" width="110%" height="110%"><feGaussianBlur stdDeviation="1.35"/></filter><filter id="semtexa" x="0" y="0" width="100%" height="100%"><feTurbulence type="fractalNoise" baseFrequency="0.09 0.22" numOctaves="2" seed="3"/><feColorMatrix type="matrix" values="0 0 0 0 0  0 0 0 0 0  0 0 0 0 0  0 0 0 -2.2 1.35"/></filter></defs>
<g clip-path="url(#semclipa)">
<rect x="40" y="3.2" width="357.5" height="81.3" fill="url(#semga)"/>
<g filter="url(#semblura)">
<ellipse cx="99.05" cy="10.52" rx="4.54" ry="1.72" fill="#c6c6c6" opacity="0.6"/>
<ellipse cx="323.76" cy="11.46" rx="4.05" ry="1.76" fill="#c6c6c6" opacity="0.6"/>
<ellipse cx="41.14" cy="7.97" rx="4.34" ry="1.1" fill="#8e8e8e" opacity="0.6"/>
<ellipse cx="123.15" cy="6.86" rx="2.17" ry="2.5" fill="#8e8e8e" opacity="0.6"/>
<ellipse cx="353.26" cy="9.93" rx="2.14" ry="1.49" fill="#c6c6c6" opacity="0.6"/>
<ellipse cx="81.46" cy="12.62" rx="3.47" ry="1.23" fill="#8e8e8e" opacity="0.6"/>
<ellipse cx="84.71" cy="12.42" rx="3.81" ry="1.83" fill="#c6c6c6" opacity="0.6"/>
<ellipse cx="213.52" cy="6.5" rx="2.15" ry="2.3" fill="#c6c6c6" opacity="0.6"/>
<ellipse cx="319.33" cy="6.67" rx="5.88" ry="2.34" fill="#8e8e8e" opacity="0.6"/>
<ellipse cx="313.08" cy="9.65" rx="4.92" ry="1.18" fill="#c6c6c6" opacity="0.6"/>
<ellipse cx="336.07" cy="6.61" rx="5.69" ry="2.33" fill="#c6c6c6" opacity="0.6"/>
<ellipse cx="170.75" cy="8.61" rx="3.54" ry="2.49" fill="#c6c6c6" opacity="0.6"/>
<ellipse cx="49.61" cy="5.75" rx="4.87" ry="2.49" fill="#c6c6c6" opacity="0.6"/>
<ellipse cx="215.97" cy="9.4" rx="4.99" ry="1.33" fill="#8e8e8e" opacity="0.6"/>
<ellipse cx="239.22" cy="9.98" rx="2.72" ry="1.26" fill="#c6c6c6" opacity="0.6"/>
<ellipse cx="371.89" cy="7.77" rx="4.39" ry="1.46" fill="#c6c6c6" opacity="0.6"/>
<ellipse cx="63.5" cy="11.51" rx="5.11" ry="1.56" fill="#8e8e8e" opacity="0.6"/>
<ellipse cx="281.97" cy="12.19" rx="5.83" ry="1.61" fill="#8e8e8e" opacity="0.6"/>
<ellipse cx="384.19" cy="9.72" rx="5.53" ry="1.74" fill="#c6c6c6" opacity="0.6"/>
<ellipse cx="128.5" cy="12.01" rx="2.65" ry="1.1" fill="#8e8e8e" opacity="0.6"/>
<ellipse cx="317.06" cy="8.87" rx="5.35" ry="1.08" fill="#c6c6c6" opacity="0.6"/>
<ellipse cx="143.78" cy="8.36" rx="2.68" ry="1.1" fill="#c6c6c6" opacity="0.6"/>
<ellipse cx="361.89" cy="12.87" rx="4.98" ry="1.72" fill="#c6c6c6" opacity="0.6"/>
<ellipse cx="383.28" cy="9.21" rx="4.91" ry="1.04" fill="#c6c6c6" opacity="0.6"/>
<ellipse cx="340.1" cy="11.36" rx="5.53" ry="1.9" fill="#c6c6c6" opacity="0.6"/>
<ellipse cx="248.05" cy="11.79" rx="3.23" ry="1.8" fill="#c6c6c6" opacity="0.6"/>
<ellipse cx="315.04" cy="5.08" rx="4.74" ry="2.43" fill="#c6c6c6" opacity="0.6"/>
<ellipse cx="252.54" cy="10.15" rx="5.41" ry="1.88" fill="#c6c6c6" opacity="0.6"/>
<ellipse cx="185.21" cy="12.67" rx="5.62" ry="1.2" fill="#c6c6c6" opacity="0.6"/>
<ellipse cx="73.63" cy="5.2" rx="3.79" ry="1.21" fill="#8e8e8e" opacity="0.6"/>
<ellipse cx="274.61" cy="6.01" rx="4.15" ry="1.49" fill="#c6c6c6" opacity="0.6"/>
<ellipse cx="118.62" cy="6.33" rx="2.74" ry="1.57" fill="#8e8e8e" opacity="0.6"/>
<ellipse cx="236.91" cy="5.37" rx="4.84" ry="2.31" fill="#8e8e8e" opacity="0.6"/>
<ellipse cx="323.08" cy="5.06" rx="3.86" ry="1.1" fill="#8e8e8e" opacity="0.6"/>
<ellipse cx="102.76" cy="10.69" rx="3.01" ry="2.05" fill="#c6c6c6" opacity="0.6"/>
<ellipse cx="55" cy="8.11" rx="3.24" ry="2.35" fill="#c6c6c6" opacity="0.6"/>
<ellipse cx="220.12" cy="9.39" rx="5.79" ry="1.15" fill="#8e8e8e" opacity="0.6"/>
<ellipse cx="221.94" cy="10.88" rx="5.87" ry="1.47" fill="#8e8e8e" opacity="0.6"/>
<ellipse cx="228.23" cy="9.49" rx="2.25" ry="2.22" fill="#8e8e8e" opacity="0.6"/>
<ellipse cx="167.17" cy="7.54" rx="5.97" ry="1.16" fill="#c6c6c6" opacity="0.6"/>
<ellipse cx="66.25" cy="11.51" rx="5.04" ry="1.67" fill="#8e8e8e" opacity="0.6"/>
<ellipse cx="47.08" cy="10.16" rx="3.77" ry="1.78" fill="#c6c6c6" opacity="0.6"/>
<ellipse cx="183.74" cy="6.8" rx="2.2" ry="1.65" fill="#c6c6c6" opacity="0.6"/>
<ellipse cx="292.1" cy="11.54" rx="4.9" ry="1.68" fill="#c6c6c6" opacity="0.6"/>
<ellipse cx="177.98" cy="8.89" rx="4.53" ry="2.44" fill="#c6c6c6" opacity="0.6"/>
<ellipse cx="211.74" cy="8.94" rx="4.87" ry="2.34" fill="#8e8e8e" opacity="0.6"/>
<ellipse cx="264.4" cy="11.07" rx="4.67" ry="2.29" fill="#8e8e8e" opacity="0.6"/>
<ellipse cx="284.51" cy="6.96" rx="5.67" ry="1.58" fill="#8e8e8e" opacity="0.6"/>
<ellipse cx="335.29" cy="12.71" rx="5.96" ry="1.01" fill="#c6c6c6" opacity="0.6"/>
<ellipse cx="151.6" cy="8.13" rx="2.58" ry="1.83" fill="#c6c6c6" opacity="0.6"/>
<ellipse cx="148.33" cy="12.55" rx="4.97" ry="1.69" fill="#c6c6c6" opacity="0.6"/>
<ellipse cx="382.25" cy="10.63" rx="2.82" ry="1.5" fill="#8e8e8e" opacity="0.6"/>
<ellipse cx="284.02" cy="7.09" rx="5.8" ry="1.48" fill="#c6c6c6" opacity="0.6"/>
<ellipse cx="342.64" cy="6.23" rx="4.72" ry="1.3" fill="#8e8e8e" opacity="0.6"/>
<ellipse cx="139.31" cy="8.03" rx="5.76" ry="1.7" fill="#c6c6c6" opacity="0.6"/>
<ellipse cx="260.92" cy="7.25" rx="2.7" ry="1.58" fill="#c6c6c6" opacity="0.6"/>
<ellipse cx="107.47" cy="12.69" rx="2.14" ry="2.22" fill="#8e8e8e" opacity="0.6"/>
<ellipse cx="292.25" cy="5.15" rx="4" ry="1.06" fill="#8e8e8e" opacity="0.6"/>
<ellipse cx="290.75" cy="6.92" rx="2.03" ry="1.82" fill="#c6c6c6" opacity="0.6"/>
<ellipse cx="150.61" cy="8.63" rx="5.58" ry="1.56" fill="#c6c6c6" opacity="0.6"/>
<polygon points="165,3 292,3 292,15 260,16.5 220,17 165,14" fill="#b2b2b2" opacity="0.75"/>
<polygon points="340,3 398,3 398,11 340,12" fill="#a4a4a4" opacity="0.45"/>
<polygon points="300,15 345,15 345,23 300,23" fill="#484848" opacity="0.8"/>
<ellipse cx="280" cy="10" rx="6" ry="5.5" fill="#b4b4b4" opacity="1"/>
<ellipse cx="138" cy="4.5" rx="5" ry="1.5" fill="#7a7a7a" opacity="1"/>
<rect x="40" y="28" width="21" height="36" rx="2" fill="#4c4c4c"/>
<rect x="61" y="34" width="33" height="31" rx="0" fill="#525252"/>
<polygon points="57,26 76,26 93,37 90,42 72,36" fill="#727272" />
<rect x="94" y="34" width="32.5" height="32" rx="3" fill="#646464"/>
<ellipse cx="110" cy="59" rx="14" ry="7" fill="#747474" opacity="1"/>
<rect x="126.5" y="27" width="35.2" height="38" rx="0" fill="#4c4c4c"/>
<rect x="131" y="28" width="27" height="36" rx="3" fill="#565656"/>
<rect x="161.7" y="26" width="23.7" height="39.8" rx="4" fill="#636363"/>
<ellipse cx="172" cy="57" rx="8.5" ry="8" fill="#888888" opacity="1"/>
<rect x="185.4" y="27" width="6.6" height="38" rx="0" fill="#545454"/>
<rect x="192" y="27" width="36.7" height="38" rx="2" fill="#4b4b4b"/>
<rect x="229" y="26" width="32" height="39.5" rx="6" fill="#666666"/>
<ellipse cx="245" cy="57" rx="12" ry="8" fill="#787878" opacity="1"/>
<rect x="261" y="26" width="13.8" height="38" rx="2" fill="#555555"/>
<rect x="265" y="55" width="5.5" height="7" rx="2" fill="#262626"/>
<path d="M279,17 L301,17 Q306,26 305,34 Q311,44 309,56 Q308,65.5 300,65.5 L282,65.5 Q275,65 275,57 L276,30 Q276,20 279,17 Z" fill="#828282"/>
<rect x="308.7" y="19" width="7.1" height="43" rx="0" fill="#3a3a3a"/>
<path d="M318,20 L338,20 Q343,26 342,40 Q341,52 336,56 L322,56 Q316,52 316,40 Q316,26 318,20 Z" fill="#666666"/>
<rect x="342.7" y="19" width="13.3" height="40.4" rx="0" fill="#474747"/>
<rect x="354" y="21.2" width="24" height="25.5" rx="5" fill="#444444"/>
<ellipse cx="367" cy="53" rx="10.5" ry="7" fill="#666666"/>
<rect x="378" y="19" width="20" height="40.4" rx="3" fill="#5a5a5a"/>
<line x1="182" y1="26.5" x2="200" y2="26.5" stroke="#8a8a8a" stroke-width="1.6" />
<line x1="229" y1="25.8" x2="252" y2="25.8" stroke="#8a8a8a" stroke-width="1.6" />
<line x1="94.5" y1="36" x2="94.5" y2="64" stroke="#8a8a8a" stroke-width="1.6" />
<line x1="162.5" y1="30" x2="162.5" y2="64" stroke="#8a8a8a" stroke-width="1.6" />
<line x1="229.5" y1="65" x2="252" y2="65" stroke="#8a8a8a" stroke-width="1.6" />
<line x1="60" y1="26.5" x2="84" y2="26.5" stroke="#8a8a8a" stroke-width="1.6" />
<path d="M276.5,30 L276,57 Q276,64.5 282,64.5 L300,64.5 Q307.5,64.5 308,56 Q309.5,45 304,34" fill="none" stroke="#a0a0a0" stroke-width="1.8"/>
<polygon points="40,65 95,66 175,65 255,65.5 275,65.7 310,61 330,59.5 398,59.4 398,68 330,70 310,74 255,76.3 175,76.3 95,79 40,79" fill="#828282" />
<ellipse cx="60" cy="71" rx="8" ry="4" fill="#9a9a9a" opacity="0.9"/>
<ellipse cx="135" cy="73" rx="7" ry="4" fill="#9a9a9a" opacity="0.9"/>
<ellipse cx="202" cy="71" rx="12" ry="4" fill="#9a9a9a" opacity="0.9"/>
<ellipse cx="228" cy="71" rx="6" ry="4" fill="#9a9a9a" opacity="0.9"/>
<ellipse cx="269" cy="71" rx="6" ry="4.5" fill="#9a9a9a" opacity="0.9"/>
<ellipse cx="300" cy="68" rx="10" ry="3" fill="#9a9a9a" opacity="0.9"/>
<ellipse cx="345" cy="63.5" rx="8" ry="3" fill="#9a9a9a" opacity="0.9"/>
<ellipse cx="375" cy="63" rx="10" ry="3" fill="#9a9a9a" opacity="0.9"/>
<polygon points="398,68 330,70 310,74 255,76.3 175,76.3 95,79 40,79 40,86 398,86" fill="#292929" />
</g>
</g>
<text transform="translate(45.4,16.6) scale(1,1.08)" font-size="9.8" text-anchor="start" fill="#f4f4f4" >Cu</text>
<text transform="translate(45.4,25.9) scale(1,1.08)" font-size="9.8" text-anchor="start" fill="#f4f4f4" >PC<tspan dy="2" font-size="7">61</tspan><tspan dy="-2">BM/C</tspan><tspan dy="2" font-size="7">60</tspan><tspan dy="-2">/Bphen</tspan></text>
<text transform="translate(45.4,48.7) scale(1,1.08)" font-size="9.8" text-anchor="start" fill="#f4f4f4" >Control perovskite film</text>
<text transform="translate(45.4,71) scale(1,1.08)" font-size="9.8" text-anchor="start" fill="#f4f4f4" >PTAA</text>
<text transform="translate(45.4,81.5) scale(1,1.08)" font-size="9.8" text-anchor="start" fill="#f4f4f4" >ITO</text>
<rect x="318.8" y="69.2" width="70" height="4" fill="#fff"/>
<defs><linearGradient id="semgb" x1="0" y1="0" x2="0" y2="1"><stop offset="0" stop-color="#dcdcdc"/><stop offset="0.01" stop-color="#c4c4c4"/><stop offset="0.04" stop-color="#b8b8b8"/><stop offset="0.09" stop-color="#acacac"/><stop offset="0.12" stop-color="#949494"/><stop offset="0.15" stop-color="#767676"/><stop offset="0.19" stop-color="#686868"/><stop offset="0.24" stop-color="#5a5a5a"/><stop offset="0.28" stop-color="#464646"/><stop offset="0.31" stop-color="#444444"/><stop offset="0.33" stop-color="#4c4c4c"/><stop offset="0.7" stop-color="#525252"/><stop offset="1" stop-color="#505050"/></linearGradient><clipPath id="semclipb"><rect x="40" y="103.5" width="357.5" height="81"/></clipPath><filter id="semblurb" x="-5%" y="-5%" width="110%" height="110%"><feGaussianBlur stdDeviation="1.35"/></filter><filter id="semtexb" x="0" y="0" width="100%" height="100%"><feTurbulence type="fractalNoise" baseFrequency="0.09 0.22" numOctaves="2" seed="9"/><feColorMatrix type="matrix" values="0 0 0 0 0  0 0 0 0 0  0 0 0 0 0  0 0 0 -2.2 1.35"/></filter></defs>
<g clip-path="url(#semclipb)">
<rect x="40" y="103.5" width="357.5" height="81" fill="url(#semgb)"/>
<g filter="url(#semblurb)">
<ellipse cx="263" cy="110.93" rx="5.18" ry="2.41" fill="#808080" opacity="0.6"/>
<ellipse cx="370.19" cy="105.23" rx="3.86" ry="2.42" fill="#808080" opacity="0.6"/>
<ellipse cx="362.52" cy="105.91" rx="3.88" ry="1.37" fill="#808080" opacity="0.6"/>
<ellipse cx="245.47" cy="105.1" rx="2.87" ry="1.42" fill="#808080" opacity="0.6"/>
<ellipse cx="314.13" cy="106.28" rx="5.19" ry="1.21" fill="#808080" opacity="0.6"/>
<ellipse cx="85.36" cy="105.01" rx="5.49" ry="1.31" fill="#c4c4c4" opacity="0.6"/>
<ellipse cx="391.71" cy="111.98" rx="3.16" ry="2.44" fill="#808080" opacity="0.6"/>
<ellipse cx="282.66" cy="106.64" rx="5.76" ry="2.04" fill="#808080" opacity="0.6"/>
<ellipse cx="359.96" cy="107.39" rx="3.44" ry="1.25" fill="#c4c4c4" opacity="0.6"/>
<ellipse cx="63.32" cy="107.41" rx="4.41" ry="1.01" fill="#808080" opacity="0.6"/>
<ellipse cx="160.97" cy="107.48" rx="5.27" ry="1.72" fill="#c4c4c4" opacity="0.6"/>
<ellipse cx="212.28" cy="110.64" rx="2.23" ry="2.46" fill="#c4c4c4" opacity="0.6"/>
<ellipse cx="308.43" cy="111.76" rx="2.07" ry="2.18" fill="#c4c4c4" opacity="0.6"/>
<ellipse cx="247.11" cy="105.07" rx="2.19" ry="1.27" fill="#808080" opacity="0.6"/>
<ellipse cx="110.35" cy="111.05" rx="5.72" ry="2.41" fill="#c4c4c4" opacity="0.6"/>
<ellipse cx="167.02" cy="109.2" rx="5.1" ry="1.16" fill="#808080" opacity="0.6"/>
<ellipse cx="325.41" cy="111.88" rx="2.15" ry="2.42" fill="#c4c4c4" opacity="0.6"/>
<ellipse cx="161.99" cy="109.89" rx="5.67" ry="1.51" fill="#808080" opacity="0.6"/>
<ellipse cx="235.16" cy="107.5" rx="3.27" ry="1.27" fill="#c4c4c4" opacity="0.6"/>
<ellipse cx="93.29" cy="110.51" rx="5.99" ry="1.24" fill="#c4c4c4" opacity="0.6"/>
<ellipse cx="393.24" cy="109.27" rx="3.62" ry="1.36" fill="#808080" opacity="0.6"/>
<ellipse cx="335.81" cy="108.65" rx="3.69" ry="1.08" fill="#808080" opacity="0.6"/>
<ellipse cx="51.71" cy="108.95" rx="5.35" ry="1.2" fill="#808080" opacity="0.6"/>
<ellipse cx="380.03" cy="110.04" rx="5.15" ry="1.16" fill="#c4c4c4" opacity="0.6"/>
<ellipse cx="93.43" cy="111.76" rx="3.18" ry="1.68" fill="#808080" opacity="0.6"/>
<ellipse cx="345.11" cy="112.81" rx="3.81" ry="1.73" fill="#808080" opacity="0.6"/>
<ellipse cx="211.5" cy="107.33" rx="3.62" ry="1.22" fill="#c4c4c4" opacity="0.6"/>
<ellipse cx="393.84" cy="112.68" rx="4.51" ry="1.75" fill="#c4c4c4" opacity="0.6"/>
<ellipse cx="71.91" cy="107.18" rx="5.13" ry="2.3" fill="#c4c4c4" opacity="0.6"/>
<ellipse cx="321.4" cy="111.2" rx="4.78" ry="2" fill="#808080" opacity="0.6"/>
<ellipse cx="170.11" cy="110.64" rx="3.12" ry="1.73" fill="#808080" opacity="0.6"/>
<ellipse cx="287.34" cy="107.35" rx="5.78" ry="1.97" fill="#808080" opacity="0.6"/>
<ellipse cx="44.15" cy="109.38" rx="3" ry="2.01" fill="#c4c4c4" opacity="0.6"/>
<ellipse cx="332.37" cy="110.18" rx="5.19" ry="1.52" fill="#808080" opacity="0.6"/>
<ellipse cx="304.14" cy="111.63" rx="3.4" ry="2.26" fill="#808080" opacity="0.6"/>
<ellipse cx="286.42" cy="112.81" rx="5.83" ry="1.78" fill="#808080" opacity="0.6"/>
<ellipse cx="99.49" cy="111.69" rx="5.75" ry="1.72" fill="#808080" opacity="0.6"/>
<ellipse cx="297.65" cy="110.84" rx="2.69" ry="2.17" fill="#808080" opacity="0.6"/>
<ellipse cx="278.27" cy="108.37" rx="4.49" ry="2.16" fill="#808080" opacity="0.6"/>
<ellipse cx="297.91" cy="105.22" rx="2.64" ry="1.66" fill="#808080" opacity="0.6"/>
<ellipse cx="118.42" cy="110.49" rx="4.52" ry="1.06" fill="#c4c4c4" opacity="0.6"/>
<ellipse cx="120.99" cy="105.43" rx="2.53" ry="1.48" fill="#c4c4c4" opacity="0.6"/>
<ellipse cx="109.22" cy="105.29" rx="3.86" ry="1.57" fill="#808080" opacity="0.6"/>
<ellipse cx="251.28" cy="106.9" rx="5.61" ry="1" fill="#c4c4c4" opacity="0.6"/>
<ellipse cx="139.71" cy="108.28" rx="2.46" ry="2.25" fill="#c4c4c4" opacity="0.6"/>
<ellipse cx="52.91" cy="109.91" rx="2.38" ry="1.82" fill="#c4c4c4" opacity="0.6"/>
<ellipse cx="247.96" cy="112.67" rx="5.27" ry="1.63" fill="#808080" opacity="0.6"/>
<ellipse cx="269.94" cy="107.96" rx="2.57" ry="1.89" fill="#808080" opacity="0.6"/>
<ellipse cx="382.68" cy="112.74" rx="4.43" ry="1.53" fill="#808080" opacity="0.6"/>
<ellipse cx="40.34" cy="105.86" rx="4.26" ry="1.92" fill="#c4c4c4" opacity="0.6"/>
<ellipse cx="265.35" cy="112.13" rx="3.5" ry="1.65" fill="#c4c4c4" opacity="0.6"/>
<ellipse cx="144.36" cy="112.78" rx="3.52" ry="2.44" fill="#808080" opacity="0.6"/>
<ellipse cx="253.3" cy="107.08" rx="5.92" ry="1.74" fill="#c4c4c4" opacity="0.6"/>
<ellipse cx="154.26" cy="112.87" rx="3.97" ry="1.43" fill="#c4c4c4" opacity="0.6"/>
<ellipse cx="83.64" cy="109.97" rx="3.77" ry="1.44" fill="#808080" opacity="0.6"/>
<ellipse cx="336" cy="105.11" rx="4.13" ry="1.41" fill="#808080" opacity="0.6"/>
<ellipse cx="319.92" cy="106.97" rx="3.07" ry="1.23" fill="#808080" opacity="0.6"/>
<ellipse cx="144.96" cy="109.86" rx="3.9" ry="1.97" fill="#808080" opacity="0.6"/>
<ellipse cx="306.16" cy="105.95" rx="5.04" ry="1.45" fill="#808080" opacity="0.6"/>
<ellipse cx="160.33" cy="107.37" rx="4.12" ry="1.7" fill="#c4c4c4" opacity="0.6"/>
<ellipse cx="306.72" cy="109.73" rx="2.15" ry="1.38" fill="#c4c4c4" opacity="0.6"/>
<ellipse cx="368.13" cy="112.1" rx="4.18" ry="1.02" fill="#808080" opacity="0.6"/>
<ellipse cx="193.13" cy="109.61" rx="4.83" ry="1.95" fill="#c4c4c4" opacity="0.6"/>
<ellipse cx="366.39" cy="108.08" rx="3.57" ry="2.28" fill="#c4c4c4" opacity="0.6"/>
<ellipse cx="146.13" cy="111.64" rx="2.26" ry="2.25" fill="#808080" opacity="0.6"/>
<ellipse cx="194.95" cy="107.29" rx="5.12" ry="2.37" fill="#c4c4c4" opacity="0.6"/>
<ellipse cx="211.27" cy="109.39" rx="3.99" ry="1.5" fill="#c4c4c4" opacity="0.6"/>
<ellipse cx="249.74" cy="111.49" rx="2.27" ry="1.35" fill="#808080" opacity="0.6"/>
<ellipse cx="323.45" cy="110.31" rx="2.1" ry="2.08" fill="#808080" opacity="0.6"/>
<ellipse cx="397.4" cy="110.61" rx="2.2" ry="2.26" fill="#c4c4c4" opacity="0.6"/>
<rect x="40" y="129" width="30.5" height="33" rx="2" fill="#585858"/>
<rect x="70.5" y="129" width="14.1" height="33" rx="0" fill="#464646"/>
<rect x="84.6" y="129" width="26.9" height="33" rx="0" fill="#4a4a4a"/>
<rect x="111.5" y="129" width="20.5" height="34" rx="2" fill="#5e5e5e"/>
<rect x="132" y="128" width="17" height="35" rx="3" fill="#686868"/>
<rect x="149" y="128" width="14" height="35" rx="2" fill="#585858"/>
<rect x="163" y="128" width="27" height="36" rx="3" fill="#626262"/>
<rect x="190" y="128" width="12" height="37" rx="3" fill="#6c6c6c"/>
<rect x="202" y="129" width="23.7" height="36" rx="0" fill="#484848"/>
<rect x="225.7" y="128" width="30.5" height="37" rx="4" fill="#666666"/>
<rect x="256.2" y="128" width="32.1" height="39" rx="4" fill="#6a6a6a"/>
<rect x="288.3" y="129" width="32.1" height="37" rx="0" fill="#464646"/>
<rect x="320.4" y="128" width="30.6" height="40" rx="4" fill="#676767"/>
<rect x="351" y="129" width="35" height="43" rx="5" fill="#6c6c6c"/>
<rect x="386" y="129" width="12" height="43" rx="2" fill="#606060"/>
<line x1="200.5" y1="132" x2="200.5" y2="164" stroke="#858585" stroke-width="1.8" />
<line x1="286.5" y1="132" x2="286.5" y2="166" stroke="#858585" stroke-width="1.8" />
<line x1="352" y1="132" x2="352" y2="171" stroke="#858585" stroke-width="1.8" />
<line x1="321.5" y1="140" x2="321.5" y2="167" stroke="#858585" stroke-width="1.8" />
<polygon points="40,162 111,161.5 160,163.5 200,165 265,166 288,166 320,168 352,170 398,172 398,186 40,186" fill="#575757" />
<polyline points="40,161.8 111,161.3 160,163.3 200,165 265,165.8" fill="none" stroke="#7c7c7c" stroke-width="2.2" stroke-linejoin="round" stroke-linecap="round" />
<ellipse cx="306" cy="168" rx="15" ry="3.5" fill="#646464" opacity="1"/>
<polygon points="40,172 398,174 398,186 40,186" fill="#4e4e4e" opacity="0.8"/>
<ellipse cx="291" cy="111.5" rx="6" ry="3" fill="#b0b0b0" opacity="0.6"/>
<ellipse cx="368" cy="121" rx="3" ry="4" fill="#a0a0a0" opacity="0.8"/>
<ellipse cx="277" cy="121" rx="4" ry="4" fill="#8a8a8a" opacity="0.8"/>
</g>
</g>
<text transform="translate(45.4,115.7) scale(1,1.08)" font-size="9.8" text-anchor="start" fill="#f4f4f4" >Cu</text>
<text transform="translate(45.4,126.4) scale(1,1.08)" font-size="9.8" text-anchor="start" fill="#f4f4f4" >PC<tspan dy="2" font-size="7">61</tspan><tspan dy="-2">BM/C</tspan><tspan dy="2" font-size="7">60</tspan><tspan dy="-2">/Bphen</tspan></text>
<text transform="translate(45.4,144.1) scale(1,1.08)" font-size="9.8" text-anchor="start" fill="#f4f4f4" >Target perovskite film</text>
<text transform="translate(45.4,162.7) scale(1,1.08)" font-size="9.8" text-anchor="start" fill="#f4f4f4" >PTAA</text>
<text transform="translate(45.4,176.3) scale(1,1.08)" font-size="9.8" text-anchor="start" fill="#f4f4f4" >ITO</text>
<rect x="318.8" y="173.4" width="70" height="3.8" fill="#fff"/>
<text transform="translate(18,16) scale(1,1.0)" font-size="19" text-anchor="start" fill="#000" font-weight="bold" >a</text>
<text transform="translate(17,116.5) scale(1,1.0)" font-size="19" text-anchor="start" fill="#000" font-weight="bold" >b</text>
</svg></body></html>
